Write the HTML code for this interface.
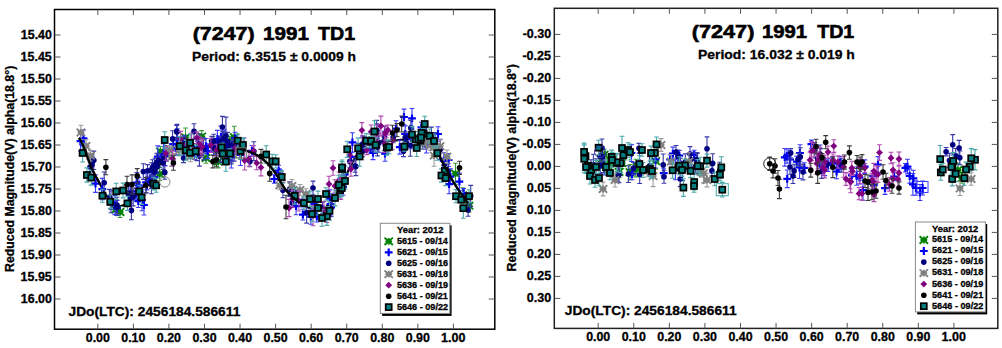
<!DOCTYPE html>
<html><head><meta charset="utf-8"><style>
html,body{margin:0;padding:0;background:#fff;width:1002px;height:348px;overflow:hidden}
svg{display:block}
text{stroke:#000;stroke-width:.3px}
text.ttl{stroke-width:.6px}
</style></head><body>
<svg width="1002" height="348" viewBox="0 0 1002 348" font-family='"Liberation Sans", sans-serif' font-weight="bold">
<rect width="1002" height="348" fill="#fff"/>
<rect x="54.5" y="9.5" width="440.3" height="319.7" fill="none" stroke="#000" stroke-width="1.5"/>
<line x1="97.80" y1="329.2" x2="97.80" y2="323.7" stroke="#555" stroke-width="1"/>
<line x1="97.80" y1="9.5" x2="97.80" y2="15.0" stroke="#555" stroke-width="1"/>
<text x="85.75" y="342.40" font-size="12.43" textLength="24.11" lengthAdjust="spacingAndGlyphs" fill="#000" >0.00</text>
<line x1="133.36" y1="329.2" x2="133.36" y2="323.7" stroke="#555" stroke-width="1"/>
<line x1="133.36" y1="9.5" x2="133.36" y2="15.0" stroke="#555" stroke-width="1"/>
<text x="121.31" y="342.40" font-size="12.43" textLength="24.11" lengthAdjust="spacingAndGlyphs" fill="#000" >0.10</text>
<line x1="168.92" y1="329.2" x2="168.92" y2="323.7" stroke="#555" stroke-width="1"/>
<line x1="168.92" y1="9.5" x2="168.92" y2="15.0" stroke="#555" stroke-width="1"/>
<text x="156.87" y="342.40" font-size="12.43" textLength="24.11" lengthAdjust="spacingAndGlyphs" fill="#000" >0.20</text>
<line x1="204.48" y1="329.2" x2="204.48" y2="323.7" stroke="#555" stroke-width="1"/>
<line x1="204.48" y1="9.5" x2="204.48" y2="15.0" stroke="#555" stroke-width="1"/>
<text x="192.43" y="342.40" font-size="12.43" textLength="24.11" lengthAdjust="spacingAndGlyphs" fill="#000" >0.30</text>
<line x1="240.04" y1="329.2" x2="240.04" y2="323.7" stroke="#555" stroke-width="1"/>
<line x1="240.04" y1="9.5" x2="240.04" y2="15.0" stroke="#555" stroke-width="1"/>
<text x="227.99" y="342.40" font-size="12.43" textLength="24.11" lengthAdjust="spacingAndGlyphs" fill="#000" >0.40</text>
<line x1="275.60" y1="329.2" x2="275.60" y2="323.7" stroke="#555" stroke-width="1"/>
<line x1="275.60" y1="9.5" x2="275.60" y2="15.0" stroke="#555" stroke-width="1"/>
<text x="263.55" y="342.40" font-size="12.43" textLength="24.11" lengthAdjust="spacingAndGlyphs" fill="#000" >0.50</text>
<line x1="311.16" y1="329.2" x2="311.16" y2="323.7" stroke="#555" stroke-width="1"/>
<line x1="311.16" y1="9.5" x2="311.16" y2="15.0" stroke="#555" stroke-width="1"/>
<text x="299.11" y="342.40" font-size="12.43" textLength="24.11" lengthAdjust="spacingAndGlyphs" fill="#000" >0.60</text>
<line x1="346.72" y1="329.2" x2="346.72" y2="323.7" stroke="#555" stroke-width="1"/>
<line x1="346.72" y1="9.5" x2="346.72" y2="15.0" stroke="#555" stroke-width="1"/>
<text x="334.67" y="342.40" font-size="12.43" textLength="24.11" lengthAdjust="spacingAndGlyphs" fill="#000" >0.70</text>
<line x1="382.28" y1="329.2" x2="382.28" y2="323.7" stroke="#555" stroke-width="1"/>
<line x1="382.28" y1="9.5" x2="382.28" y2="15.0" stroke="#555" stroke-width="1"/>
<text x="370.23" y="342.40" font-size="12.43" textLength="24.11" lengthAdjust="spacingAndGlyphs" fill="#000" >0.80</text>
<line x1="417.84" y1="329.2" x2="417.84" y2="323.7" stroke="#555" stroke-width="1"/>
<line x1="417.84" y1="9.5" x2="417.84" y2="15.0" stroke="#555" stroke-width="1"/>
<text x="405.79" y="342.40" font-size="12.43" textLength="24.11" lengthAdjust="spacingAndGlyphs" fill="#000" >0.90</text>
<line x1="453.40" y1="329.2" x2="453.40" y2="323.7" stroke="#555" stroke-width="1"/>
<line x1="453.40" y1="9.5" x2="453.40" y2="15.0" stroke="#555" stroke-width="1"/>
<text x="441.03" y="342.40" font-size="12.43" textLength="24.43" lengthAdjust="spacingAndGlyphs" fill="#000" >1.00</text>
<line x1="54.5" y1="35.00" x2="60.5" y2="35.00" stroke="#555" stroke-width="1"/>
<line x1="494.8" y1="35.00" x2="488.8" y2="35.00" stroke="#555" stroke-width="1"/>
<text x="20.83" y="38.70" font-size="12.43" textLength="31.10" lengthAdjust="spacingAndGlyphs" fill="#000" >15.40</text>
<line x1="54.5" y1="57.00" x2="60.5" y2="57.00" stroke="#555" stroke-width="1"/>
<line x1="494.8" y1="57.00" x2="488.8" y2="57.00" stroke="#555" stroke-width="1"/>
<text x="20.64" y="60.70" font-size="12.43" textLength="31.10" lengthAdjust="spacingAndGlyphs" fill="#000" >15.45</text>
<line x1="54.5" y1="79.00" x2="60.5" y2="79.00" stroke="#555" stroke-width="1"/>
<line x1="494.8" y1="79.00" x2="488.8" y2="79.00" stroke="#555" stroke-width="1"/>
<text x="20.83" y="82.70" font-size="12.43" textLength="31.10" lengthAdjust="spacingAndGlyphs" fill="#000" >15.50</text>
<line x1="54.5" y1="101.00" x2="60.5" y2="101.00" stroke="#555" stroke-width="1"/>
<line x1="494.8" y1="101.00" x2="488.8" y2="101.00" stroke="#555" stroke-width="1"/>
<text x="20.64" y="104.70" font-size="12.43" textLength="31.10" lengthAdjust="spacingAndGlyphs" fill="#000" >15.55</text>
<line x1="54.5" y1="123.00" x2="60.5" y2="123.00" stroke="#555" stroke-width="1"/>
<line x1="494.8" y1="123.00" x2="488.8" y2="123.00" stroke="#555" stroke-width="1"/>
<text x="20.83" y="126.70" font-size="12.43" textLength="31.10" lengthAdjust="spacingAndGlyphs" fill="#000" >15.60</text>
<line x1="54.5" y1="145.00" x2="60.5" y2="145.00" stroke="#555" stroke-width="1"/>
<line x1="494.8" y1="145.00" x2="488.8" y2="145.00" stroke="#555" stroke-width="1"/>
<text x="20.64" y="148.70" font-size="12.43" textLength="31.10" lengthAdjust="spacingAndGlyphs" fill="#000" >15.65</text>
<line x1="54.5" y1="167.00" x2="60.5" y2="167.00" stroke="#555" stroke-width="1"/>
<line x1="494.8" y1="167.00" x2="488.8" y2="167.00" stroke="#555" stroke-width="1"/>
<text x="20.83" y="170.70" font-size="12.43" textLength="31.10" lengthAdjust="spacingAndGlyphs" fill="#000" >15.70</text>
<line x1="54.5" y1="189.00" x2="60.5" y2="189.00" stroke="#555" stroke-width="1"/>
<line x1="494.8" y1="189.00" x2="488.8" y2="189.00" stroke="#555" stroke-width="1"/>
<text x="20.64" y="192.70" font-size="12.43" textLength="31.10" lengthAdjust="spacingAndGlyphs" fill="#000" >15.75</text>
<line x1="54.5" y1="211.00" x2="60.5" y2="211.00" stroke="#555" stroke-width="1"/>
<line x1="494.8" y1="211.00" x2="488.8" y2="211.00" stroke="#555" stroke-width="1"/>
<text x="20.83" y="214.70" font-size="12.43" textLength="31.10" lengthAdjust="spacingAndGlyphs" fill="#000" >15.80</text>
<line x1="54.5" y1="233.00" x2="60.5" y2="233.00" stroke="#555" stroke-width="1"/>
<line x1="494.8" y1="233.00" x2="488.8" y2="233.00" stroke="#555" stroke-width="1"/>
<text x="20.64" y="236.70" font-size="12.43" textLength="31.10" lengthAdjust="spacingAndGlyphs" fill="#000" >15.85</text>
<line x1="54.5" y1="255.00" x2="60.5" y2="255.00" stroke="#555" stroke-width="1"/>
<line x1="494.8" y1="255.00" x2="488.8" y2="255.00" stroke="#555" stroke-width="1"/>
<text x="20.83" y="258.70" font-size="12.43" textLength="31.10" lengthAdjust="spacingAndGlyphs" fill="#000" >15.90</text>
<line x1="54.5" y1="277.00" x2="60.5" y2="277.00" stroke="#555" stroke-width="1"/>
<line x1="494.8" y1="277.00" x2="488.8" y2="277.00" stroke="#555" stroke-width="1"/>
<text x="20.64" y="280.70" font-size="12.43" textLength="31.10" lengthAdjust="spacingAndGlyphs" fill="#000" >15.95</text>
<line x1="54.5" y1="299.00" x2="60.5" y2="299.00" stroke="#555" stroke-width="1"/>
<line x1="494.8" y1="299.00" x2="488.8" y2="299.00" stroke="#555" stroke-width="1"/>
<text x="20.83" y="302.70" font-size="12.43" textLength="31.10" lengthAdjust="spacingAndGlyphs" fill="#000" >16.00</text>
<text x="192.73" y="40.00" font-size="18.86" textLength="61.95" lengthAdjust="spacingAndGlyphs" fill="#000" class="ttl">(7247)</text>
<text x="262.96" y="40.00" font-size="18.86" textLength="45.95" lengthAdjust="spacingAndGlyphs" fill="#000" class="ttl">1991</text>
<text x="318.00" y="40.00" font-size="18.86" textLength="37.17" lengthAdjust="spacingAndGlyphs" fill="#000" class="ttl">TD1</text>
<text x="192.00" y="60.60" font-size="13.14" textLength="164.08" lengthAdjust="spacingAndGlyphs" fill="#000" >Period: 6.3515 ± 0.0009 h</text>
<text x="68.49" y="316.00" font-size="13.29" textLength="171.83" lengthAdjust="spacingAndGlyphs" fill="#000" >JDo(LTC): 2456184.586611</text>
<text transform="translate(13.60,272.00) rotate(-90)" x="0" y="0" font-size="12.17" textLength="206.27" lengthAdjust="spacingAndGlyphs">Reduced Magnitude(V) alpha(18.8°)</text>
<rect x="554.3" y="8.3" width="443.5" height="320.09999999999997" fill="none" stroke="#222" stroke-width="1.5"/>
<line x1="598.20" y1="328.4" x2="598.20" y2="322.9" stroke="#555" stroke-width="1"/>
<line x1="598.20" y1="8.3" x2="598.20" y2="13.8" stroke="#555" stroke-width="1"/>
<text x="586.15" y="341.00" font-size="12.29" textLength="24.11" lengthAdjust="spacingAndGlyphs" fill="#000" >0.00</text>
<line x1="633.77" y1="328.4" x2="633.77" y2="322.9" stroke="#555" stroke-width="1"/>
<line x1="633.77" y1="8.3" x2="633.77" y2="13.8" stroke="#555" stroke-width="1"/>
<text x="621.72" y="341.00" font-size="12.29" textLength="24.11" lengthAdjust="spacingAndGlyphs" fill="#000" >0.10</text>
<line x1="669.34" y1="328.4" x2="669.34" y2="322.9" stroke="#555" stroke-width="1"/>
<line x1="669.34" y1="8.3" x2="669.34" y2="13.8" stroke="#555" stroke-width="1"/>
<text x="657.29" y="341.00" font-size="12.29" textLength="24.11" lengthAdjust="spacingAndGlyphs" fill="#000" >0.20</text>
<line x1="704.91" y1="328.4" x2="704.91" y2="322.9" stroke="#555" stroke-width="1"/>
<line x1="704.91" y1="8.3" x2="704.91" y2="13.8" stroke="#555" stroke-width="1"/>
<text x="692.86" y="341.00" font-size="12.29" textLength="24.11" lengthAdjust="spacingAndGlyphs" fill="#000" >0.30</text>
<line x1="740.48" y1="328.4" x2="740.48" y2="322.9" stroke="#555" stroke-width="1"/>
<line x1="740.48" y1="8.3" x2="740.48" y2="13.8" stroke="#555" stroke-width="1"/>
<text x="728.43" y="341.00" font-size="12.29" textLength="24.11" lengthAdjust="spacingAndGlyphs" fill="#000" >0.40</text>
<line x1="776.05" y1="328.4" x2="776.05" y2="322.9" stroke="#555" stroke-width="1"/>
<line x1="776.05" y1="8.3" x2="776.05" y2="13.8" stroke="#555" stroke-width="1"/>
<text x="764.00" y="341.00" font-size="12.29" textLength="24.11" lengthAdjust="spacingAndGlyphs" fill="#000" >0.50</text>
<line x1="811.62" y1="328.4" x2="811.62" y2="322.9" stroke="#555" stroke-width="1"/>
<line x1="811.62" y1="8.3" x2="811.62" y2="13.8" stroke="#555" stroke-width="1"/>
<text x="799.57" y="341.00" font-size="12.29" textLength="24.11" lengthAdjust="spacingAndGlyphs" fill="#000" >0.60</text>
<line x1="847.19" y1="328.4" x2="847.19" y2="322.9" stroke="#555" stroke-width="1"/>
<line x1="847.19" y1="8.3" x2="847.19" y2="13.8" stroke="#555" stroke-width="1"/>
<text x="835.14" y="341.00" font-size="12.29" textLength="24.11" lengthAdjust="spacingAndGlyphs" fill="#000" >0.70</text>
<line x1="882.76" y1="328.4" x2="882.76" y2="322.9" stroke="#555" stroke-width="1"/>
<line x1="882.76" y1="8.3" x2="882.76" y2="13.8" stroke="#555" stroke-width="1"/>
<text x="870.71" y="341.00" font-size="12.29" textLength="24.11" lengthAdjust="spacingAndGlyphs" fill="#000" >0.80</text>
<line x1="918.33" y1="328.4" x2="918.33" y2="322.9" stroke="#555" stroke-width="1"/>
<line x1="918.33" y1="8.3" x2="918.33" y2="13.8" stroke="#555" stroke-width="1"/>
<text x="906.28" y="341.00" font-size="12.29" textLength="24.11" lengthAdjust="spacingAndGlyphs" fill="#000" >0.90</text>
<line x1="953.90" y1="328.4" x2="953.90" y2="322.9" stroke="#555" stroke-width="1"/>
<line x1="953.90" y1="8.3" x2="953.90" y2="13.8" stroke="#555" stroke-width="1"/>
<text x="941.53" y="341.00" font-size="12.29" textLength="24.43" lengthAdjust="spacingAndGlyphs" fill="#000" >1.00</text>
<line x1="554.3" y1="34.40" x2="560.3" y2="34.40" stroke="#555" stroke-width="1"/>
<line x1="997.8" y1="34.40" x2="991.8" y2="34.40" stroke="#555" stroke-width="1"/>
<text x="522.64" y="38.40" font-size="12.57" textLength="28.65" lengthAdjust="spacingAndGlyphs" fill="#000" >-0.30</text>
<line x1="554.3" y1="56.40" x2="560.3" y2="56.40" stroke="#555" stroke-width="1"/>
<line x1="997.8" y1="56.40" x2="991.8" y2="56.40" stroke="#555" stroke-width="1"/>
<text x="522.45" y="60.40" font-size="12.57" textLength="28.65" lengthAdjust="spacingAndGlyphs" fill="#000" >-0.25</text>
<line x1="554.3" y1="78.40" x2="560.3" y2="78.40" stroke="#555" stroke-width="1"/>
<line x1="997.8" y1="78.40" x2="991.8" y2="78.40" stroke="#555" stroke-width="1"/>
<text x="522.64" y="82.40" font-size="12.57" textLength="28.65" lengthAdjust="spacingAndGlyphs" fill="#000" >-0.20</text>
<line x1="554.3" y1="100.40" x2="560.3" y2="100.40" stroke="#555" stroke-width="1"/>
<line x1="997.8" y1="100.40" x2="991.8" y2="100.40" stroke="#555" stroke-width="1"/>
<text x="522.45" y="104.40" font-size="12.57" textLength="28.65" lengthAdjust="spacingAndGlyphs" fill="#000" >-0.15</text>
<line x1="554.3" y1="122.40" x2="560.3" y2="122.40" stroke="#555" stroke-width="1"/>
<line x1="997.8" y1="122.40" x2="991.8" y2="122.40" stroke="#555" stroke-width="1"/>
<text x="522.64" y="126.40" font-size="12.57" textLength="28.65" lengthAdjust="spacingAndGlyphs" fill="#000" >-0.10</text>
<line x1="554.3" y1="144.40" x2="560.3" y2="144.40" stroke="#555" stroke-width="1"/>
<line x1="997.8" y1="144.40" x2="991.8" y2="144.40" stroke="#555" stroke-width="1"/>
<text x="522.45" y="148.40" font-size="12.57" textLength="28.65" lengthAdjust="spacingAndGlyphs" fill="#000" >-0.05</text>
<line x1="554.3" y1="166.40" x2="560.3" y2="166.40" stroke="#555" stroke-width="1"/>
<line x1="997.8" y1="166.40" x2="991.8" y2="166.40" stroke="#555" stroke-width="1"/>
<text x="526.85" y="170.40" font-size="12.57" textLength="24.47" lengthAdjust="spacingAndGlyphs" fill="#000" >0.00</text>
<line x1="554.3" y1="188.40" x2="560.3" y2="188.40" stroke="#555" stroke-width="1"/>
<line x1="997.8" y1="188.40" x2="991.8" y2="188.40" stroke="#555" stroke-width="1"/>
<text x="526.66" y="192.40" font-size="12.57" textLength="24.47" lengthAdjust="spacingAndGlyphs" fill="#000" >0.05</text>
<line x1="554.3" y1="210.40" x2="560.3" y2="210.40" stroke="#555" stroke-width="1"/>
<line x1="997.8" y1="210.40" x2="991.8" y2="210.40" stroke="#555" stroke-width="1"/>
<text x="526.85" y="214.40" font-size="12.57" textLength="24.47" lengthAdjust="spacingAndGlyphs" fill="#000" >0.10</text>
<line x1="554.3" y1="232.40" x2="560.3" y2="232.40" stroke="#555" stroke-width="1"/>
<line x1="997.8" y1="232.40" x2="991.8" y2="232.40" stroke="#555" stroke-width="1"/>
<text x="526.66" y="236.40" font-size="12.57" textLength="24.47" lengthAdjust="spacingAndGlyphs" fill="#000" >0.15</text>
<line x1="554.3" y1="254.40" x2="560.3" y2="254.40" stroke="#555" stroke-width="1"/>
<line x1="997.8" y1="254.40" x2="991.8" y2="254.40" stroke="#555" stroke-width="1"/>
<text x="526.85" y="258.40" font-size="12.57" textLength="24.47" lengthAdjust="spacingAndGlyphs" fill="#000" >0.20</text>
<line x1="554.3" y1="276.40" x2="560.3" y2="276.40" stroke="#555" stroke-width="1"/>
<line x1="997.8" y1="276.40" x2="991.8" y2="276.40" stroke="#555" stroke-width="1"/>
<text x="526.66" y="280.40" font-size="12.57" textLength="24.47" lengthAdjust="spacingAndGlyphs" fill="#000" >0.25</text>
<line x1="554.3" y1="298.40" x2="560.3" y2="298.40" stroke="#555" stroke-width="1"/>
<line x1="997.8" y1="298.40" x2="991.8" y2="298.40" stroke="#555" stroke-width="1"/>
<text x="526.85" y="302.40" font-size="12.57" textLength="24.47" lengthAdjust="spacingAndGlyphs" fill="#000" >0.30</text>
<text x="691.82" y="37.90" font-size="18.71" textLength="62.57" lengthAdjust="spacingAndGlyphs" fill="#000" class="ttl">(7247)</text>
<text x="762.08" y="37.90" font-size="18.71" textLength="45.01" lengthAdjust="spacingAndGlyphs" fill="#000" class="ttl">1991</text>
<text x="817.20" y="37.90" font-size="18.71" textLength="37.07" lengthAdjust="spacingAndGlyphs" fill="#000" class="ttl">TD1</text>
<text x="698.10" y="58.60" font-size="13.14" textLength="156.77" lengthAdjust="spacingAndGlyphs" fill="#000" >Period: 16.032 ± 0.019 h</text>
<text x="564.79" y="314.60" font-size="12.86" textLength="171.83" lengthAdjust="spacingAndGlyphs" fill="#000" >JDo(LTC): 2456184.586611</text>
<text transform="translate(515.90,271.41) rotate(-90)" x="0" y="0" font-size="12.17" textLength="207.37" lengthAdjust="spacingAndGlyphs">Reduced Magnitude(V) alpha(18.8°)</text>
<path d="M79.0 138.0 L81.6 142.3 L84.3 148.4 L86.9 155.3 L89.6 162.8 L92.2 169.1 L94.8 174.7 L97.5 179.4 L100.1 184.2 L102.7 189.1 L105.4 194.0 L108.0 197.8 L110.7 200.7 L113.3 203.1 L115.9 205.1 L118.6 206.1 L121.2 206.0 L123.8 205.1 L126.5 203.3 L129.1 200.8 L131.8 198.3 L134.4 195.6 L137.0 193.0 L139.7 190.3 L142.3 187.7 L144.9 185.2 L147.6 182.5 L150.2 179.3 L152.9 175.7 L155.5 171.6 L158.1 167.1 L160.8 162.8 L163.4 158.6 L166.0 155.0 L168.7 152.4 L171.3 150.5 L174.0 149.1 L176.6 148.0 L179.2 147.2 L181.9 146.7 L184.5 146.4 L187.1 146.2 L189.8 146.0 L192.4 145.9 L195.1 145.9 L197.7 145.9 L200.3 146.0 L203.0 146.2 L205.6 146.5 L208.2 146.8 L210.9 147.1 L213.5 147.4 L216.2 147.6 L218.8 147.9 L221.4 148.2 L224.1 148.5 L226.7 148.7 L229.3 149.0 L232.0 149.0 L234.6 148.9 L237.3 148.8 L239.9 149.0 L242.5 149.5 L245.2 150.2 L247.8 151.2 L250.4 152.2 L253.1 153.3 L255.7 154.6 L258.4 156.0 L261.0 157.8 L263.6 159.9 L266.3 162.2 L268.9 165.0 L271.5 168.0 L274.2 171.3 L276.8 175.2 L279.5 179.6 L282.1 184.4 L284.7 188.6 L287.4 191.8 L290.0 194.5 L292.6 197.0 L295.3 199.2 L297.9 201.4 L300.6 203.3 L303.2 205.0 L305.8 206.5 L308.5 207.7 L311.1 208.5 L313.7 209.2 L316.4 209.9 L319.0 210.1 L321.7 209.5 L324.3 208.2 L326.9 206.1 L329.6 203.4 L332.2 200.0 L334.8 196.2 L337.5 192.0 L340.1 187.3 L342.8 182.4 L345.4 176.9 L348.0 171.2 L350.7 165.8 L353.3 160.9 L355.9 156.2 L358.6 152.2 L361.2 148.7 L363.9 145.8 L366.5 143.7 L369.1 142.8 L371.8 142.4 L374.4 142.2 L377.0 141.9 L379.7 141.6 L382.3 141.4 L385.0 141.2 L387.6 141.0 L390.2 140.8 L392.9 140.6 L395.5 140.4 L398.1 140.2 L400.8 139.9 L403.4 139.6 L406.1 139.3 L408.7 139.1 L411.3 138.9 L414.0 138.8 L416.6 138.8 L419.2 138.9 L421.9 139.2 L424.5 139.5 L427.2 140.5 L429.8 142.4 L432.4 145.1 L435.1 148.6 L437.7 152.7 L440.3 157.8 L443.0 163.1 L445.6 168.1 L448.3 173.0 L450.9 177.7 L453.5 182.2 L456.2 186.4 L458.8 190.4 L461.4 194.0 L464.1 197.7 L466.7 201.6 L469.4 204.5 L472.0 205.7" stroke="#000" stroke-width="2.2" fill="none"/>
<path d="M213.1 136.8V151.4M210.7 136.8H215.5M210.7 151.4H215.5" stroke="#3a9a3a" stroke-width="1.1" fill="none"/>
<path d="M236.3 146.1V158.0M233.9 146.1H238.7M233.9 158.0H238.7" stroke="#3a9a3a" stroke-width="1.1" fill="none"/>
<path d="M225.9 142.2V156.5M223.5 142.2H228.3M223.5 156.5H228.3" stroke="#3a9a3a" stroke-width="1.1" fill="none"/>
<path d="M179.1 139.2V154.9M176.7 139.2H181.5M176.7 154.9H181.5" stroke="#3a9a3a" stroke-width="1.1" fill="none"/>
<path d="M185.5 128.0V147.1M183.1 128.0H187.9M183.1 147.1H187.9" stroke="#3a9a3a" stroke-width="1.1" fill="none"/>
<path d="M234.3 126.3V148.1M231.9 126.3H236.7M231.9 148.1H236.7" stroke="#3a9a3a" stroke-width="1.1" fill="none"/>
<path d="M160.4 146.5V156.7M158.0 146.5H162.8M158.0 156.7H162.8" stroke="#3a9a3a" stroke-width="1.1" fill="none"/>
<path d="M229.8 136.4V145.1M227.4 136.4H232.2M227.4 145.1H232.2" stroke="#3a9a3a" stroke-width="1.1" fill="none"/>
<path d="M455.5 163.3V184.2M453.1 163.3H457.9M453.1 184.2H457.9" stroke="#3a9a3a" stroke-width="1.1" fill="none"/>
<path d="M462.7 187.7V202.9M460.3 187.7H465.1M460.3 202.9H465.1" stroke="#3a9a3a" stroke-width="1.1" fill="none"/>
<path d="M115.8 204.3V214.7M113.4 204.3H118.2M113.4 214.7H118.2" stroke="#3a9a3a" stroke-width="1.1" fill="none"/>
<path d="M120.0 206.5V217.5M117.6 206.5H122.4M117.6 217.5H122.4" stroke="#3a9a3a" stroke-width="1.1" fill="none"/>
<path d="M159.7 167.5V180.5M157.3 167.5H162.1M157.3 180.5H162.1" stroke="#3a9a3a" stroke-width="1.1" fill="none"/>
<path d="M218.1 155.3V167.9M215.7 155.3H220.5M215.7 167.9H220.5" stroke="#3a9a3a" stroke-width="1.1" fill="none"/>
<path d="M201.7 130.6V142.6M199.3 130.6H204.1M199.3 142.6H204.1" stroke="#3a9a3a" stroke-width="1.1" fill="none"/>
<path d="M206.0 152.7V163.3M203.6 152.7H208.4M203.6 163.3H208.4" stroke="#3a9a3a" stroke-width="1.1" fill="none"/>
<path d="M469.0 199.3V212.1M466.6 199.3H471.4M466.6 212.1H471.4" stroke="#3a9a3a" stroke-width="1.1" fill="none"/>
<path d="M208.9 140.4L217.3 147.8M208.9 147.8L217.3 140.4M209.7 144.1H216.5M213.1 140.7V147.5" stroke="#008000" stroke-width="1.8" fill="none"/><rect x="211.2" y="142.2" width="3.8" height="3.8" fill="#008000"/>
<path d="M232.1 148.3L240.5 155.7M232.1 155.7L240.5 148.3M232.9 152.0H239.7M236.3 148.6V155.4" stroke="#008000" stroke-width="1.8" fill="none"/><rect x="234.4" y="150.1" width="3.8" height="3.8" fill="#008000"/>
<path d="M221.7 145.7L230.1 153.1M221.7 153.1L230.1 145.7M222.5 149.4H229.3M225.9 146.0V152.8" stroke="#008000" stroke-width="1.8" fill="none"/><rect x="224.0" y="147.5" width="3.8" height="3.8" fill="#008000"/>
<path d="M174.9 143.3L183.3 150.7M174.9 150.7L183.3 143.3M175.7 147.0H182.5M179.1 143.6V150.4" stroke="#008000" stroke-width="1.8" fill="none"/><rect x="177.2" y="145.1" width="3.8" height="3.8" fill="#008000"/>
<path d="M181.3 133.8L189.7 141.2M181.3 141.2L189.7 133.8M182.1 137.5H188.9M185.5 134.1V140.9" stroke="#008000" stroke-width="1.8" fill="none"/><rect x="183.6" y="135.6" width="3.8" height="3.8" fill="#008000"/>
<path d="M230.1 133.5L238.5 140.9M230.1 140.9L238.5 133.5M230.9 137.2H237.7M234.3 133.8V140.6" stroke="#008000" stroke-width="1.8" fill="none"/><rect x="232.4" y="135.3" width="3.8" height="3.8" fill="#008000"/>
<path d="M156.2 147.9L164.6 155.3M156.2 155.3L164.6 147.9M157.0 151.6H163.8M160.4 148.2V155.0" stroke="#008000" stroke-width="1.8" fill="none"/><rect x="158.5" y="149.7" width="3.8" height="3.8" fill="#008000"/>
<path d="M225.6 137.1L234.0 144.5M225.6 144.5L234.0 137.1M226.4 140.8H233.2M229.8 137.4V144.2" stroke="#008000" stroke-width="1.8" fill="none"/><rect x="227.9" y="138.9" width="3.8" height="3.8" fill="#008000"/>
<path d="M451.3 170.0L459.7 177.4M451.3 177.4L459.7 170.0M452.1 173.7H458.9M455.5 170.3V177.1" stroke="#008000" stroke-width="1.8" fill="none"/><rect x="453.6" y="171.8" width="3.8" height="3.8" fill="#008000"/>
<path d="M458.5 191.6L466.9 199.0M458.5 199.0L466.9 191.6M459.3 195.3H466.1M462.7 191.9V198.7" stroke="#008000" stroke-width="1.8" fill="none"/><rect x="460.8" y="193.4" width="3.8" height="3.8" fill="#008000"/>
<path d="M111.6 205.8L120.0 213.2M111.6 213.2L120.0 205.8M112.4 209.5H119.2M115.8 206.1V212.9" stroke="#008000" stroke-width="1.8" fill="none"/><rect x="113.9" y="207.6" width="3.8" height="3.8" fill="#008000"/>
<path d="M115.8 208.3L124.2 215.7M115.8 215.7L124.2 208.3M116.6 212.0H123.4M120.0 208.6V215.4" stroke="#008000" stroke-width="1.8" fill="none"/><rect x="118.1" y="210.1" width="3.8" height="3.8" fill="#008000"/>
<path d="M155.5 170.3L163.9 177.7M155.5 177.7L163.9 170.3M156.3 174.0H163.1M159.7 170.6V177.4" stroke="#008000" stroke-width="1.8" fill="none"/><rect x="157.8" y="172.1" width="3.8" height="3.8" fill="#008000"/>
<path d="M213.9 157.9L222.3 165.3M213.9 165.3L222.3 157.9M214.7 161.6H221.5M218.1 158.2V165.0" stroke="#008000" stroke-width="1.8" fill="none"/><rect x="216.2" y="159.7" width="3.8" height="3.8" fill="#008000"/>
<path d="M197.5 132.9L205.9 140.3M197.5 140.3L205.9 132.9M198.3 136.6H205.1M201.7 133.2V140.0" stroke="#008000" stroke-width="1.8" fill="none"/><rect x="199.8" y="134.7" width="3.8" height="3.8" fill="#008000"/>
<path d="M201.8 154.3L210.2 161.7M201.8 161.7L210.2 154.3M202.6 158.0H209.4M206.0 154.6V161.4" stroke="#008000" stroke-width="1.8" fill="none"/><rect x="204.1" y="156.1" width="3.8" height="3.8" fill="#008000"/>
<path d="M464.8 202.0L473.2 209.4M464.8 209.4L473.2 202.0M465.6 205.7H472.4M469.0 202.3V209.1" stroke="#008000" stroke-width="1.8" fill="none"/><rect x="467.1" y="203.8" width="3.8" height="3.8" fill="#008000"/>
<path d="M274.3 174.8V183.3M271.9 174.8H276.7M271.9 183.3H276.7" stroke="#3a3aff" stroke-width="1.1" fill="none"/>
<path d="M176.3 140.7V155.3M173.9 140.7H178.7M173.9 155.3H178.7" stroke="#3a3aff" stroke-width="1.1" fill="none"/>
<path d="M83.6 138.4V150.9M81.2 138.4H86.0M81.2 150.9H86.0" stroke="#3a3aff" stroke-width="1.1" fill="none"/>
<path d="M154.6 168.8V177.2M152.2 168.8H157.0M152.2 177.2H157.0" stroke="#3a3aff" stroke-width="1.1" fill="none"/>
<path d="M351.0 152.6V161.0M348.6 152.6H353.4M348.6 161.0H353.4" stroke="#3a3aff" stroke-width="1.1" fill="none"/>
<path d="M157.8 145.9V167.4M155.4 145.9H160.2M155.4 167.4H160.2" stroke="#3a3aff" stroke-width="1.1" fill="none"/>
<path d="M224.2 139.5V153.5M221.8 139.5H226.6M221.8 153.5H226.6" stroke="#3a3aff" stroke-width="1.1" fill="none"/>
<path d="M80.5 131.0V151.2M78.1 131.0H82.9M78.1 151.2H82.9" stroke="#3a3aff" stroke-width="1.1" fill="none"/>
<path d="M405.2 125.9V142.1M402.8 125.9H407.6M402.8 142.1H407.6" stroke="#3a3aff" stroke-width="1.1" fill="none"/>
<path d="M139.7 185.1V198.1M137.3 185.1H142.1M137.3 198.1H142.1" stroke="#3a3aff" stroke-width="1.1" fill="none"/>
<path d="M184.2 135.9V154.6M181.8 135.9H186.6M181.8 154.6H186.6" stroke="#3a3aff" stroke-width="1.1" fill="none"/>
<path d="M425.0 139.2V149.3M422.6 139.2H427.4M422.6 149.3H427.4" stroke="#3a3aff" stroke-width="1.1" fill="none"/>
<path d="M279.3 168.7V176.7M276.9 168.7H281.7M276.9 176.7H281.7" stroke="#3a3aff" stroke-width="1.1" fill="none"/>
<path d="M411.9 129.5V148.8M409.5 129.5H414.3M409.5 148.8H414.3" stroke="#3a3aff" stroke-width="1.1" fill="none"/>
<path d="M330.4 197.1V211.0M328.0 197.1H332.8M328.0 211.0H332.8" stroke="#3a3aff" stroke-width="1.1" fill="none"/>
<path d="M370.5 144.8V153.0M368.1 144.8H372.9M368.1 153.0H372.9" stroke="#3a3aff" stroke-width="1.1" fill="none"/>
<path d="M115.0 195.5V214.6M112.6 195.5H117.4M112.6 214.6H117.4" stroke="#3a3aff" stroke-width="1.1" fill="none"/>
<path d="M291.7 186.2V204.4M289.3 186.2H294.1M289.3 204.4H294.1" stroke="#3a3aff" stroke-width="1.1" fill="none"/>
<path d="M278.6 165.3V176.1M276.2 165.3H281.0M276.2 176.1H281.0" stroke="#3a3aff" stroke-width="1.1" fill="none"/>
<path d="M421.4 122.2V132.7M419.0 122.2H423.8M419.0 132.7H423.8" stroke="#3a3aff" stroke-width="1.1" fill="none"/>
<path d="M221.0 126.1V147.4M218.6 126.1H223.4M218.6 147.4H223.4" stroke="#3a3aff" stroke-width="1.1" fill="none"/>
<path d="M314.1 197.4V210.2M311.7 197.4H316.5M311.7 210.2H316.5" stroke="#3a3aff" stroke-width="1.1" fill="none"/>
<path d="M102.3 178.4V199.7M99.9 178.4H104.7M99.9 199.7H104.7" stroke="#3a3aff" stroke-width="1.1" fill="none"/>
<path d="M231.3 146.3V168.0M228.9 146.3H233.7M228.9 168.0H233.7" stroke="#3a3aff" stroke-width="1.1" fill="none"/>
<path d="M206.0 138.5V153.8M203.6 138.5H208.4M203.6 153.8H208.4" stroke="#3a3aff" stroke-width="1.1" fill="none"/>
<path d="M138.0 181.7V200.1M135.6 181.7H140.4M135.6 200.1H140.4" stroke="#3a3aff" stroke-width="1.1" fill="none"/>
<path d="M399.8 140.2V154.1M397.4 140.2H402.2M397.4 154.1H402.2" stroke="#3a3aff" stroke-width="1.1" fill="none"/>
<path d="M228.1 141.7V155.4M225.7 141.7H230.5M225.7 155.4H230.5" stroke="#3a3aff" stroke-width="1.1" fill="none"/>
<path d="M463.6 188.5V197.4M461.2 188.5H466.0M461.2 197.4H466.0" stroke="#3a3aff" stroke-width="1.1" fill="none"/>
<path d="M310.9 209.0V224.3M308.5 209.0H313.3M308.5 224.3H313.3" stroke="#3a3aff" stroke-width="1.1" fill="none"/>
<path d="M316.8 210.5V222.0M314.4 210.5H319.2M314.4 222.0H319.2" stroke="#3a3aff" stroke-width="1.1" fill="none"/>
<path d="M329.7 189.9V207.4M327.3 189.9H332.1M327.3 207.4H332.1" stroke="#3a3aff" stroke-width="1.1" fill="none"/>
<path d="M344.8 166.0V182.9M342.4 166.0H347.2M342.4 182.9H347.2" stroke="#3a3aff" stroke-width="1.1" fill="none"/>
<path d="M138.3 194.9V207.5M135.9 194.9H140.7M135.9 207.5H140.7" stroke="#3a3aff" stroke-width="1.1" fill="none"/>
<path d="M252.0 145.5V156.3M249.6 145.5H254.4M249.6 156.3H254.4" stroke="#3a3aff" stroke-width="1.1" fill="none"/>
<path d="M173.1 138.7V149.7M170.7 138.7H175.5M170.7 149.7H175.5" stroke="#3a3aff" stroke-width="1.1" fill="none"/>
<path d="M237.2 134.6V154.3M234.8 134.6H239.6M234.8 154.3H239.6" stroke="#3a3aff" stroke-width="1.1" fill="none"/>
<path d="M117.0 200.5V215.2M114.6 200.5H119.4M114.6 215.2H119.4" stroke="#3a3aff" stroke-width="1.1" fill="none"/>
<path d="M459.4 173.1V190.3M457.0 173.1H461.8M457.0 190.3H461.8" stroke="#3a3aff" stroke-width="1.1" fill="none"/>
<path d="M163.5 143.6V165.0M161.1 143.6H165.9M161.1 165.0H165.9" stroke="#3a3aff" stroke-width="1.1" fill="none"/>
<path d="M343.0 178.4V195.2M340.6 178.4H345.4M340.6 195.2H345.4" stroke="#3a3aff" stroke-width="1.1" fill="none"/>
<path d="M197.1 141.1V151.6M194.7 141.1H199.5M194.7 151.6H199.5" stroke="#3a3aff" stroke-width="1.1" fill="none"/>
<path d="M422.5 135.3V149.1M420.1 135.3H424.9M420.1 149.1H424.9" stroke="#3a3aff" stroke-width="1.1" fill="none"/>
<path d="M339.3 178.2V197.6M336.9 178.2H341.7M336.9 197.6H341.7" stroke="#3a3aff" stroke-width="1.1" fill="none"/>
<path d="M130.7 186.6V196.2M128.3 186.6H133.1M128.3 196.2H133.1" stroke="#3a3aff" stroke-width="1.1" fill="none"/>
<path d="M411.1 126.0V145.3M408.7 126.0H413.5M408.7 145.3H413.5" stroke="#3a3aff" stroke-width="1.1" fill="none"/>
<path d="M450.4 168.9V184.2M448.0 168.9H452.8M448.0 184.2H452.8" stroke="#3a3aff" stroke-width="1.1" fill="none"/>
<path d="M434.2 139.7V148.4M431.8 139.7H436.6M431.8 148.4H436.6" stroke="#3a3aff" stroke-width="1.1" fill="none"/>
<path d="M302.9 198.7V207.0M300.5 198.7H305.3M300.5 207.0H305.3" stroke="#3a3aff" stroke-width="1.1" fill="none"/>
<path d="M136.2 188.2V199.7M133.8 188.2H138.6M133.8 199.7H138.6" stroke="#3a3aff" stroke-width="1.1" fill="none"/>
<path d="M154.6 169.5V185.4M152.2 169.5H157.0M152.2 185.4H157.0" stroke="#3a3aff" stroke-width="1.1" fill="none"/>
<path d="M443.7 152.7V168.9M441.3 152.7H446.1M441.3 168.9H446.1" stroke="#3a3aff" stroke-width="1.1" fill="none"/>
<path d="M296.1 197.3V214.8M293.7 197.3H298.5M293.7 214.8H298.5" stroke="#3a3aff" stroke-width="1.1" fill="none"/>
<path d="M150.0 172.5V184.9M147.6 172.5H152.4M147.6 184.9H152.4" stroke="#3a3aff" stroke-width="1.1" fill="none"/>
<path d="M426.4 137.4V153.0M424.0 137.4H428.8M424.0 153.0H428.8" stroke="#3a3aff" stroke-width="1.1" fill="none"/>
<path d="M331.1 198.8V216.0M328.7 198.8H333.5M328.7 216.0H333.5" stroke="#3a3aff" stroke-width="1.1" fill="none"/>
<path d="M302.9 209.3V220.0M300.5 209.3H305.3M300.5 220.0H305.3" stroke="#3a3aff" stroke-width="1.1" fill="none"/>
<path d="M226.9 150.1V158.6M224.5 150.1H229.3M224.5 158.6H229.3" stroke="#3a3aff" stroke-width="1.1" fill="none"/>
<path d="M240.5 144.0V165.5M238.1 144.0H242.9M238.1 165.5H242.9" stroke="#3a3aff" stroke-width="1.1" fill="none"/>
<path d="M164.9 146.7V165.9M162.5 146.7H167.3M162.5 165.9H167.3" stroke="#3a3aff" stroke-width="1.1" fill="none"/>
<path d="M136.8 172.5V192.6M134.4 172.5H139.2M134.4 192.6H139.2" stroke="#3a3aff" stroke-width="1.1" fill="none"/>
<path d="M146.9 180.1V189.9M144.5 180.1H149.3M144.5 189.9H149.3" stroke="#3a3aff" stroke-width="1.1" fill="none"/>
<path d="M146.1 172.2V192.6M143.7 172.2H148.5M143.7 192.6H148.5" stroke="#3a3aff" stroke-width="1.1" fill="none"/>
<path d="M138.9 177.4V193.5M136.5 177.4H141.3M136.5 193.5H141.3" stroke="#3a3aff" stroke-width="1.1" fill="none"/>
<path d="M217.9 138.9V147.3M215.5 138.9H220.3M215.5 147.3H220.3" stroke="#3a3aff" stroke-width="1.1" fill="none"/>
<path d="M215.7 144.1V155.1M213.3 144.1H218.1M213.3 155.1H218.1" stroke="#3a3aff" stroke-width="1.1" fill="none"/>
<path d="M177.2 128.8V150.1M174.8 128.8H179.6M174.8 150.1H179.6" stroke="#3a3aff" stroke-width="1.1" fill="none"/>
<path d="M219.6 141.7V153.2M217.2 141.7H222.0M217.2 153.2H222.0" stroke="#3a3aff" stroke-width="1.1" fill="none"/>
<path d="M217.4 130.4V147.6M215.0 130.4H219.8M215.0 147.6H219.8" stroke="#3a3aff" stroke-width="1.1" fill="none"/>
<path d="M231.8 146.8V160.1M229.4 146.8H234.2M229.4 160.1H234.2" stroke="#3a3aff" stroke-width="1.1" fill="none"/>
<path d="M230.3 140.9V158.1M227.9 140.9H232.7M227.9 158.1H232.7" stroke="#3a3aff" stroke-width="1.1" fill="none"/>
<path d="M194.5 146.2V159.4M192.1 146.2H196.9M192.1 159.4H196.9" stroke="#3a3aff" stroke-width="1.1" fill="none"/>
<path d="M224.2 129.9V145.4M221.8 129.9H226.6M221.8 145.4H226.6" stroke="#3a3aff" stroke-width="1.1" fill="none"/>
<path d="M235.0 132.3V143.8M232.6 132.3H237.4M232.6 143.8H237.4" stroke="#3a3aff" stroke-width="1.1" fill="none"/>
<path d="M237.0 137.5V151.9M234.6 137.5H239.4M234.6 151.9H239.4" stroke="#3a3aff" stroke-width="1.1" fill="none"/>
<path d="M83.5 130.0V146.8M81.1 130.0H85.9M81.1 146.8H85.9" stroke="#3a3aff" stroke-width="1.1" fill="none"/>
<path d="M95.5 174.8V192.4M93.1 174.8H97.9M93.1 192.4H97.9" stroke="#3a3aff" stroke-width="1.1" fill="none"/>
<path d="M142.0 189.3V210.7M139.6 189.3H144.4M139.6 210.7H144.4" stroke="#3a3aff" stroke-width="1.1" fill="none"/>
<path d="M144.0 195.0V215.0M141.6 195.0H146.4M141.6 215.0H146.4" stroke="#3a3aff" stroke-width="1.1" fill="none"/>
<path d="M207.8 143.8V158.6M205.4 143.8H210.2M205.4 158.6H210.2" stroke="#3a3aff" stroke-width="1.1" fill="none"/>
<path d="M352.4 132.8V152.0M350.0 132.8H354.8M350.0 152.0H354.8" stroke="#3a3aff" stroke-width="1.1" fill="none"/>
<path d="M373.0 146.0V159.6M370.6 146.0H375.4M370.6 159.6H375.4" stroke="#3a3aff" stroke-width="1.1" fill="none"/>
<path d="M385.0 146.0V161.2M382.6 146.0H387.4M382.6 161.2H387.4" stroke="#3a3aff" stroke-width="1.1" fill="none"/>
<path d="M404.0 109.1V124.9M401.6 109.1H406.4M401.6 124.9H406.4" stroke="#3a3aff" stroke-width="1.1" fill="none"/>
<path d="M412.0 108.5V128.3M409.6 108.5H414.4M409.6 128.3H414.4" stroke="#3a3aff" stroke-width="1.1" fill="none"/>
<path d="M396.0 120.8V136.6M393.6 120.8H398.4M393.6 136.6H398.4" stroke="#3a3aff" stroke-width="1.1" fill="none"/>
<path d="M438.0 126.7V141.3M435.6 126.7H440.4M435.6 141.3H440.4" stroke="#3a3aff" stroke-width="1.1" fill="none"/>
<path d="M448.6 153.5V166.5M446.2 153.5H451.0M446.2 166.5H451.0" stroke="#3a3aff" stroke-width="1.1" fill="none"/>
<path d="M449.1 174.4V193.8M446.7 174.4H451.5M446.7 193.8H451.5" stroke="#3a3aff" stroke-width="1.1" fill="none"/>
<path d="M270.4 179.0H278.2M274.3 175.1V182.9" stroke="#0000f0" stroke-width="2.2" fill="none"/>
<path d="M172.4 148.0H180.2M176.3 144.1V151.9" stroke="#0000f0" stroke-width="2.2" fill="none"/>
<path d="M79.7 144.7H87.5M83.6 140.8V148.6" stroke="#0000f0" stroke-width="2.2" fill="none"/>
<path d="M150.7 173.0H158.5M154.6 169.1V176.9" stroke="#0000f0" stroke-width="2.2" fill="none"/>
<path d="M347.1 156.8H354.9M351.0 152.9V160.7" stroke="#0000f0" stroke-width="2.2" fill="none"/>
<path d="M153.9 156.6H161.7M157.8 152.7V160.5" stroke="#0000f0" stroke-width="2.2" fill="none"/>
<path d="M220.3 146.5H228.1M224.2 142.6V150.4" stroke="#0000f0" stroke-width="2.2" fill="none"/>
<path d="M76.6 141.1H84.4M80.5 137.2V145.0" stroke="#0000f0" stroke-width="2.2" fill="none"/>
<path d="M401.3 134.0H409.1M405.2 130.1V137.9" stroke="#0000f0" stroke-width="2.2" fill="none"/>
<path d="M135.8 191.6H143.6M139.7 187.7V195.5" stroke="#0000f0" stroke-width="2.2" fill="none"/>
<path d="M180.3 145.2H188.1M184.2 141.3V149.1" stroke="#0000f0" stroke-width="2.2" fill="none"/>
<path d="M421.1 144.2H428.9M425.0 140.3V148.1" stroke="#0000f0" stroke-width="2.2" fill="none"/>
<path d="M275.4 172.7H283.2M279.3 168.8V176.6" stroke="#0000f0" stroke-width="2.2" fill="none"/>
<path d="M408.0 139.1H415.8M411.9 135.2V143.0" stroke="#0000f0" stroke-width="2.2" fill="none"/>
<path d="M326.5 204.1H334.3M330.4 200.2V208.0" stroke="#0000f0" stroke-width="2.2" fill="none"/>
<path d="M366.6 148.9H374.4M370.5 145.0V152.8" stroke="#0000f0" stroke-width="2.2" fill="none"/>
<path d="M111.1 205.1H118.9M115.0 201.2V209.0" stroke="#0000f0" stroke-width="2.2" fill="none"/>
<path d="M287.8 195.3H295.6M291.7 191.4V199.2" stroke="#0000f0" stroke-width="2.2" fill="none"/>
<path d="M274.7 170.7H282.5M278.6 166.8V174.6" stroke="#0000f0" stroke-width="2.2" fill="none"/>
<path d="M417.5 127.4H425.3M421.4 123.5V131.3" stroke="#0000f0" stroke-width="2.2" fill="none"/>
<path d="M217.1 136.8H224.9M221.0 132.9V140.7" stroke="#0000f0" stroke-width="2.2" fill="none"/>
<path d="M310.2 203.8H318.0M314.1 199.9V207.7" stroke="#0000f0" stroke-width="2.2" fill="none"/>
<path d="M98.4 189.1H106.2M102.3 185.2V193.0" stroke="#0000f0" stroke-width="2.2" fill="none"/>
<path d="M227.4 157.1H235.2M231.3 153.2V161.0" stroke="#0000f0" stroke-width="2.2" fill="none"/>
<path d="M202.1 146.1H209.9M206.0 142.2V150.0" stroke="#0000f0" stroke-width="2.2" fill="none"/>
<path d="M134.1 190.9H141.9M138.0 187.0V194.8" stroke="#0000f0" stroke-width="2.2" fill="none"/>
<path d="M395.9 147.2H403.7M399.8 143.3V151.1" stroke="#0000f0" stroke-width="2.2" fill="none"/>
<path d="M224.2 148.5H232.0M228.1 144.6V152.4" stroke="#0000f0" stroke-width="2.2" fill="none"/>
<path d="M459.7 193.0H467.5M463.6 189.1V196.9" stroke="#0000f0" stroke-width="2.2" fill="none"/>
<path d="M307.0 216.6H314.8M310.9 212.7V220.5" stroke="#0000f0" stroke-width="2.2" fill="none"/>
<path d="M312.9 216.3H320.7M316.8 212.4V220.2" stroke="#0000f0" stroke-width="2.2" fill="none"/>
<path d="M325.8 198.7H333.6M329.7 194.8V202.6" stroke="#0000f0" stroke-width="2.2" fill="none"/>
<path d="M340.9 174.5H348.7M344.8 170.6V178.4" stroke="#0000f0" stroke-width="2.2" fill="none"/>
<path d="M134.4 201.2H142.2M138.3 197.3V205.1" stroke="#0000f0" stroke-width="2.2" fill="none"/>
<path d="M248.1 150.9H255.9M252.0 147.0V154.8" stroke="#0000f0" stroke-width="2.2" fill="none"/>
<path d="M169.2 144.2H177.0M173.1 140.3V148.1" stroke="#0000f0" stroke-width="2.2" fill="none"/>
<path d="M233.3 144.4H241.1M237.2 140.5V148.3" stroke="#0000f0" stroke-width="2.2" fill="none"/>
<path d="M113.1 207.9H120.9M117.0 204.0V211.8" stroke="#0000f0" stroke-width="2.2" fill="none"/>
<path d="M455.5 181.7H463.3M459.4 177.8V185.6" stroke="#0000f0" stroke-width="2.2" fill="none"/>
<path d="M159.6 154.3H167.4M163.5 150.4V158.2" stroke="#0000f0" stroke-width="2.2" fill="none"/>
<path d="M339.1 186.8H346.9M343.0 182.9V190.7" stroke="#0000f0" stroke-width="2.2" fill="none"/>
<path d="M193.2 146.4H201.0M197.1 142.5V150.3" stroke="#0000f0" stroke-width="2.2" fill="none"/>
<path d="M418.6 142.2H426.4M422.5 138.3V146.1" stroke="#0000f0" stroke-width="2.2" fill="none"/>
<path d="M335.4 187.9H343.2M339.3 184.0V191.8" stroke="#0000f0" stroke-width="2.2" fill="none"/>
<path d="M126.8 191.4H134.6M130.7 187.5V195.3" stroke="#0000f0" stroke-width="2.2" fill="none"/>
<path d="M407.2 135.6H415.0M411.1 131.7V139.5" stroke="#0000f0" stroke-width="2.2" fill="none"/>
<path d="M446.5 176.6H454.3M450.4 172.7V180.5" stroke="#0000f0" stroke-width="2.2" fill="none"/>
<path d="M430.3 144.0H438.1M434.2 140.1V147.9" stroke="#0000f0" stroke-width="2.2" fill="none"/>
<path d="M299.0 202.9H306.8M302.9 199.0V206.8" stroke="#0000f0" stroke-width="2.2" fill="none"/>
<path d="M132.3 194.0H140.1M136.2 190.1V197.9" stroke="#0000f0" stroke-width="2.2" fill="none"/>
<path d="M150.7 177.4H158.5M154.6 173.5V181.3" stroke="#0000f0" stroke-width="2.2" fill="none"/>
<path d="M439.8 160.8H447.6M443.7 156.9V164.7" stroke="#0000f0" stroke-width="2.2" fill="none"/>
<path d="M292.2 206.1H300.0M296.1 202.2V210.0" stroke="#0000f0" stroke-width="2.2" fill="none"/>
<path d="M146.1 178.7H153.9M150.0 174.8V182.6" stroke="#0000f0" stroke-width="2.2" fill="none"/>
<path d="M422.5 145.2H430.3M426.4 141.3V149.1" stroke="#0000f0" stroke-width="2.2" fill="none"/>
<path d="M327.2 207.4H335.0M331.1 203.5V211.3" stroke="#0000f0" stroke-width="2.2" fill="none"/>
<path d="M299.0 214.7H306.8M302.9 210.8V218.6" stroke="#0000f0" stroke-width="2.2" fill="none"/>
<path d="M223.0 154.4H230.8M226.9 150.5V158.3" stroke="#0000f0" stroke-width="2.2" fill="none"/>
<path d="M236.6 154.8H244.4M240.5 150.9V158.7" stroke="#0000f0" stroke-width="2.2" fill="none"/>
<path d="M161.0 156.3H168.8M164.9 152.4V160.2" stroke="#0000f0" stroke-width="2.2" fill="none"/>
<path d="M132.9 182.5H140.7M136.8 178.6V186.4" stroke="#0000f0" stroke-width="2.2" fill="none"/>
<path d="M143.0 185.0H150.8M146.9 181.1V188.9" stroke="#0000f0" stroke-width="2.2" fill="none"/>
<path d="M142.2 182.4H150.0M146.1 178.5V186.3" stroke="#0000f0" stroke-width="2.2" fill="none"/>
<path d="M135.0 185.5H142.8M138.9 181.6V189.4" stroke="#0000f0" stroke-width="2.2" fill="none"/>
<path d="M214.0 143.1H221.8M217.9 139.2V147.0" stroke="#0000f0" stroke-width="2.2" fill="none"/>
<path d="M211.8 149.6H219.6M215.7 145.7V153.5" stroke="#0000f0" stroke-width="2.2" fill="none"/>
<path d="M173.3 139.5H181.1M177.2 135.6V143.4" stroke="#0000f0" stroke-width="2.2" fill="none"/>
<path d="M215.7 147.4H223.5M219.6 143.5V151.3" stroke="#0000f0" stroke-width="2.2" fill="none"/>
<path d="M213.5 139.0H221.3M217.4 135.1V142.9" stroke="#0000f0" stroke-width="2.2" fill="none"/>
<path d="M227.9 153.5H235.7M231.8 149.6V157.4" stroke="#0000f0" stroke-width="2.2" fill="none"/>
<path d="M226.4 149.5H234.2M230.3 145.6V153.4" stroke="#0000f0" stroke-width="2.2" fill="none"/>
<path d="M190.6 152.8H198.4M194.5 148.9V156.7" stroke="#0000f0" stroke-width="2.2" fill="none"/>
<path d="M220.3 137.7H228.1M224.2 133.8V141.6" stroke="#0000f0" stroke-width="2.2" fill="none"/>
<path d="M231.1 138.1H238.9M235.0 134.2V142.0" stroke="#0000f0" stroke-width="2.2" fill="none"/>
<path d="M233.1 144.7H240.9M237.0 140.8V148.6" stroke="#0000f0" stroke-width="2.2" fill="none"/>
<path d="M79.6 138.4H87.4M83.5 134.5V142.3" stroke="#0000f0" stroke-width="2.2" fill="none"/>
<path d="M91.6 183.6H99.4M95.5 179.7V187.5" stroke="#0000f0" stroke-width="2.2" fill="none"/>
<path d="M138.1 200.0H145.9M142.0 196.1V203.9" stroke="#0000f0" stroke-width="2.2" fill="none"/>
<path d="M140.1 205.0H147.9M144.0 201.1V208.9" stroke="#0000f0" stroke-width="2.2" fill="none"/>
<path d="M203.9 151.2H211.7M207.8 147.3V155.1" stroke="#0000f0" stroke-width="2.2" fill="none"/>
<path d="M348.5 142.4H356.3M352.4 138.5V146.3" stroke="#0000f0" stroke-width="2.2" fill="none"/>
<path d="M369.1 152.8H376.9M373.0 148.9V156.7" stroke="#0000f0" stroke-width="2.2" fill="none"/>
<path d="M381.1 153.6H388.9M385.0 149.7V157.5" stroke="#0000f0" stroke-width="2.2" fill="none"/>
<path d="M400.1 117.0H407.9M404.0 113.1V120.9" stroke="#0000f0" stroke-width="2.2" fill="none"/>
<path d="M408.1 118.4H415.9M412.0 114.5V122.3" stroke="#0000f0" stroke-width="2.2" fill="none"/>
<path d="M392.1 128.7H399.9M396.0 124.8V132.6" stroke="#0000f0" stroke-width="2.2" fill="none"/>
<path d="M434.1 134.0H441.9M438.0 130.1V137.9" stroke="#0000f0" stroke-width="2.2" fill="none"/>
<path d="M444.7 160.0H452.5M448.6 156.1V163.9" stroke="#0000f0" stroke-width="2.2" fill="none"/>
<path d="M445.2 184.1H453.0M449.1 180.2V188.0" stroke="#0000f0" stroke-width="2.2" fill="none"/>
<path d="M111.0 190.9V212.8M108.6 190.9H113.4M108.6 212.8H113.4" stroke="#3838a8" stroke-width="1.1" fill="none"/>
<path d="M374.8 131.6V149.6M372.4 131.6H377.2M372.4 149.6H377.2" stroke="#3838a8" stroke-width="1.1" fill="none"/>
<path d="M306.6 202.2V223.1M304.2 202.2H309.0M304.2 223.1H309.0" stroke="#3838a8" stroke-width="1.1" fill="none"/>
<path d="M196.8 138.7V160.6M194.4 138.7H199.2M194.4 160.6H199.2" stroke="#3838a8" stroke-width="1.1" fill="none"/>
<path d="M109.5 189.4V205.5M107.1 189.4H111.9M107.1 205.5H111.9" stroke="#3838a8" stroke-width="1.1" fill="none"/>
<path d="M378.9 133.7V152.2M376.5 133.7H381.3M376.5 152.2H381.3" stroke="#3838a8" stroke-width="1.1" fill="none"/>
<path d="M130.5 182.7V203.5M128.1 182.7H132.9M128.1 203.5H132.9" stroke="#3838a8" stroke-width="1.1" fill="none"/>
<path d="M131.4 201.0V219.8M129.0 201.0H133.8M129.0 219.8H133.8" stroke="#3838a8" stroke-width="1.1" fill="none"/>
<path d="M130.4 191.0V205.7M128.0 191.0H132.8M128.0 205.7H132.8" stroke="#3838a8" stroke-width="1.1" fill="none"/>
<path d="M110.9 196.9V209.3M108.5 196.9H113.3M108.5 209.3H113.3" stroke="#3838a8" stroke-width="1.1" fill="none"/>
<path d="M435.2 132.5V150.6M432.8 132.5H437.6M432.8 150.6H437.6" stroke="#3838a8" stroke-width="1.1" fill="none"/>
<path d="M184.8 136.0V144.8M182.4 136.0H187.2M182.4 144.8H187.2" stroke="#3838a8" stroke-width="1.1" fill="none"/>
<path d="M199.4 145.7V166.1M197.0 145.7H201.8M197.0 166.1H201.8" stroke="#3838a8" stroke-width="1.1" fill="none"/>
<path d="M406.3 137.2V148.6M403.9 137.2H408.7M403.9 148.6H408.7" stroke="#3838a8" stroke-width="1.1" fill="none"/>
<path d="M322.6 202.3V213.4M320.2 202.3H325.0M320.2 213.4H325.0" stroke="#3838a8" stroke-width="1.1" fill="none"/>
<path d="M152.5 159.8V174.8M150.1 159.8H154.9M150.1 174.8H154.9" stroke="#3838a8" stroke-width="1.1" fill="none"/>
<path d="M249.9 156.3V166.8M247.5 156.3H252.3M247.5 166.8H252.3" stroke="#3838a8" stroke-width="1.1" fill="none"/>
<path d="M426.4 126.6V141.4M424.0 126.6H428.8M424.0 141.4H428.8" stroke="#3838a8" stroke-width="1.1" fill="none"/>
<path d="M226.5 136.8V154.1M224.1 136.8H228.9M224.1 154.1H228.9" stroke="#3838a8" stroke-width="1.1" fill="none"/>
<path d="M358.4 143.4V158.8M356.0 143.4H360.8M356.0 158.8H360.8" stroke="#3838a8" stroke-width="1.1" fill="none"/>
<path d="M117.0 200.0V215.2M114.6 200.0H119.4M114.6 215.2H119.4" stroke="#3838a8" stroke-width="1.1" fill="none"/>
<path d="M364.8 136.9V152.4M362.4 136.9H367.2M362.4 152.4H367.2" stroke="#3838a8" stroke-width="1.1" fill="none"/>
<path d="M384.2 131.2V150.3M381.8 131.2H386.6M381.8 150.3H386.6" stroke="#3838a8" stroke-width="1.1" fill="none"/>
<path d="M403.5 146.1V156.6M401.1 146.1H405.9M401.1 156.6H405.9" stroke="#3838a8" stroke-width="1.1" fill="none"/>
<path d="M344.0 175.6V185.1M341.6 175.6H346.4M341.6 185.1H346.4" stroke="#3838a8" stroke-width="1.1" fill="none"/>
<path d="M224.7 140.5V161.6M222.3 140.5H227.1M222.3 161.6H227.1" stroke="#3838a8" stroke-width="1.1" fill="none"/>
<path d="M104.2 172.0V193.6M101.8 172.0H106.6M101.8 193.6H106.6" stroke="#3838a8" stroke-width="1.1" fill="none"/>
<path d="M282.9 182.7V197.8M280.5 182.7H285.3M280.5 197.8H285.3" stroke="#3838a8" stroke-width="1.1" fill="none"/>
<path d="M376.7 120.4V141.2M374.3 120.4H379.1M374.3 141.2H379.1" stroke="#3838a8" stroke-width="1.1" fill="none"/>
<path d="M154.0 163.4V175.8M151.6 163.4H156.4M151.6 175.8H156.4" stroke="#3838a8" stroke-width="1.1" fill="none"/>
<path d="M183.6 153.7V162.6M181.2 153.7H186.0M181.2 162.6H186.0" stroke="#3838a8" stroke-width="1.1" fill="none"/>
<path d="M289.7 181.9V196.4M287.3 181.9H292.1M287.3 196.4H292.1" stroke="#3838a8" stroke-width="1.1" fill="none"/>
<path d="M373.1 132.6V151.3M370.7 132.6H375.5M370.7 151.3H375.5" stroke="#3838a8" stroke-width="1.1" fill="none"/>
<path d="M431.4 127.1V145.7M429.0 127.1H433.8M429.0 145.7H433.8" stroke="#3838a8" stroke-width="1.1" fill="none"/>
<path d="M128.4 184.1V204.0M126.0 184.1H130.8M126.0 204.0H130.8" stroke="#3838a8" stroke-width="1.1" fill="none"/>
<path d="M151.4 175.4V193.7M149.0 175.4H153.8M149.0 193.7H153.8" stroke="#3838a8" stroke-width="1.1" fill="none"/>
<path d="M393.2 132.3V142.7M390.8 132.3H395.6M390.8 142.7H395.6" stroke="#3838a8" stroke-width="1.1" fill="none"/>
<path d="M332.3 193.9V204.2M329.9 193.9H334.7M329.9 204.2H334.7" stroke="#3838a8" stroke-width="1.1" fill="none"/>
<path d="M362.3 137.0V153.3M359.9 137.0H364.7M359.9 153.3H364.7" stroke="#3838a8" stroke-width="1.1" fill="none"/>
<path d="M470.7 185.4V206.6M468.3 185.4H473.1M468.3 206.6H473.1" stroke="#3838a8" stroke-width="1.1" fill="none"/>
<path d="M448.1 163.9V179.1M445.7 163.9H450.5M445.7 179.1H450.5" stroke="#3838a8" stroke-width="1.1" fill="none"/>
<path d="M410.3 134.7V156.3M407.9 134.7H412.7M407.9 156.3H412.7" stroke="#3838a8" stroke-width="1.1" fill="none"/>
<path d="M384.4 126.5V145.8M382.0 126.5H386.8M382.0 145.8H386.8" stroke="#3838a8" stroke-width="1.1" fill="none"/>
<path d="M234.2 141.9V161.1M231.8 141.9H236.6M231.8 161.1H236.6" stroke="#3838a8" stroke-width="1.1" fill="none"/>
<path d="M331.0 199.8V216.8M328.6 199.8H333.4M328.6 216.8H333.4" stroke="#3838a8" stroke-width="1.1" fill="none"/>
<path d="M151.5 162.7V176.7M149.1 162.7H153.9M149.1 176.7H153.9" stroke="#3838a8" stroke-width="1.1" fill="none"/>
<path d="M377.5 138.2V155.9M375.1 138.2H379.9M375.1 155.9H379.9" stroke="#3838a8" stroke-width="1.1" fill="none"/>
<path d="M376.8 123.9V136.6M374.4 123.9H379.2M374.4 136.6H379.2" stroke="#3838a8" stroke-width="1.1" fill="none"/>
<path d="M362.5 145.6V156.6M360.1 145.6H364.9M360.1 156.6H364.9" stroke="#3838a8" stroke-width="1.1" fill="none"/>
<path d="M253.8 141.8V160.6M251.4 141.8H256.2M251.4 160.6H256.2" stroke="#3838a8" stroke-width="1.1" fill="none"/>
<path d="M227.6 132.4V150.6M225.2 132.4H230.0M225.2 150.6H230.0" stroke="#3838a8" stroke-width="1.1" fill="none"/>
<path d="M244.0 138.0V159.4M241.6 138.0H246.4M241.6 159.4H246.4" stroke="#3838a8" stroke-width="1.1" fill="none"/>
<path d="M92.1 157.9V171.6M89.7 157.9H94.5M89.7 171.6H94.5" stroke="#3838a8" stroke-width="1.1" fill="none"/>
<path d="M410.8 120.4V135.8M408.4 120.4H413.2M408.4 135.8H413.2" stroke="#3838a8" stroke-width="1.1" fill="none"/>
<path d="M292.2 198.3V207.5M289.8 198.3H294.6M289.8 207.5H294.6" stroke="#3838a8" stroke-width="1.1" fill="none"/>
<path d="M231.3 148.1V163.9M228.9 148.1H233.7M228.9 163.9H233.7" stroke="#3838a8" stroke-width="1.1" fill="none"/>
<path d="M294.4 187.4V196.0M292.0 187.4H296.8M292.0 196.0H296.8" stroke="#3838a8" stroke-width="1.1" fill="none"/>
<path d="M362.6 135.7V152.5M360.2 135.7H365.0M360.2 152.5H365.0" stroke="#3838a8" stroke-width="1.1" fill="none"/>
<path d="M228.9 140.9V150.0M226.5 140.9H231.3M226.5 150.0H231.3" stroke="#3838a8" stroke-width="1.1" fill="none"/>
<path d="M405.4 131.9V143.0M403.0 131.9H407.8M403.0 143.0H407.8" stroke="#3838a8" stroke-width="1.1" fill="none"/>
<path d="M440.3 139.2V159.5M437.9 139.2H442.7M437.9 159.5H442.7" stroke="#3838a8" stroke-width="1.1" fill="none"/>
<path d="M231.3 147.6V161.9M228.9 147.6H233.7M228.9 161.9H233.7" stroke="#3838a8" stroke-width="1.1" fill="none"/>
<path d="M133.2 188.0V205.9M130.8 188.0H135.6M130.8 205.9H135.6" stroke="#3838a8" stroke-width="1.1" fill="none"/>
<path d="M154.4 165.1V178.8M152.0 165.1H156.8M152.0 178.8H156.8" stroke="#3838a8" stroke-width="1.1" fill="none"/>
<path d="M163.2 155.9V169.4M160.8 155.9H165.6M160.8 169.4H165.6" stroke="#3838a8" stroke-width="1.1" fill="none"/>
<path d="M151.3 175.1V188.4M148.9 175.1H153.7M148.9 188.4H153.7" stroke="#3838a8" stroke-width="1.1" fill="none"/>
<path d="M156.7 153.2V171.8M154.3 153.2H159.1M154.3 171.8H159.1" stroke="#3838a8" stroke-width="1.1" fill="none"/>
<path d="M163.7 152.1V164.9M161.3 152.1H166.1M161.3 164.9H166.1" stroke="#3838a8" stroke-width="1.1" fill="none"/>
<path d="M158.7 153.5V166.9M156.3 153.5H161.1M156.3 166.9H161.1" stroke="#3838a8" stroke-width="1.1" fill="none"/>
<path d="M233.4 138.8V149.4M231.0 138.8H235.8M231.0 149.4H235.8" stroke="#3838a8" stroke-width="1.1" fill="none"/>
<path d="M228.9 146.4V158.5M226.5 146.4H231.3M226.5 158.5H231.3" stroke="#3838a8" stroke-width="1.1" fill="none"/>
<path d="M203.5 137.9V159.9M201.1 137.9H205.9M201.1 159.9H205.9" stroke="#3838a8" stroke-width="1.1" fill="none"/>
<path d="M223.5 131.6V145.8M221.1 131.6H225.9M221.1 145.8H225.9" stroke="#3838a8" stroke-width="1.1" fill="none"/>
<path d="M172.6 130.8V147.0M170.2 130.8H175.0M170.2 147.0H175.0" stroke="#3838a8" stroke-width="1.1" fill="none"/>
<path d="M199.2 133.8V154.3M196.8 133.8H201.6M196.8 154.3H201.6" stroke="#3838a8" stroke-width="1.1" fill="none"/>
<path d="M234.5 142.8V154.6M232.1 142.8H236.9M232.1 154.6H236.9" stroke="#3838a8" stroke-width="1.1" fill="none"/>
<path d="M213.5 140.2V155.1M211.1 140.2H215.9M211.1 155.1H215.9" stroke="#3838a8" stroke-width="1.1" fill="none"/>
<path d="M211.8 136.4V145.5M209.4 136.4H214.2M209.4 145.5H214.2" stroke="#3838a8" stroke-width="1.1" fill="none"/>
<path d="M219.9 136.5V147.3M217.5 136.5H222.3M217.5 147.3H222.3" stroke="#3838a8" stroke-width="1.1" fill="none"/>
<path d="M220.8 142.8V162.4M218.4 142.8H223.2M218.4 162.4H223.2" stroke="#3838a8" stroke-width="1.1" fill="none"/>
<path d="M213.8 134.3V148.9M211.4 134.3H216.2M211.4 148.9H216.2" stroke="#3838a8" stroke-width="1.1" fill="none"/>
<path d="M93.8 151.1V169.5M91.4 151.1H96.2M91.4 169.5H96.2" stroke="#3838a8" stroke-width="1.1" fill="none"/>
<path d="M90.0 161.7V172.3M87.6 161.7H92.4M87.6 172.3H92.4" stroke="#3838a8" stroke-width="1.1" fill="none"/>
<path d="M117.0 197.2V212.8M114.6 197.2H119.4M114.6 212.8H119.4" stroke="#3838a8" stroke-width="1.1" fill="none"/>
<path d="M143.3 163.8V179.4M140.9 163.8H145.7M140.9 179.4H145.7" stroke="#3838a8" stroke-width="1.1" fill="none"/>
<path d="M147.6 164.6V176.8M145.2 164.6H150.0M145.2 176.8H150.0" stroke="#3838a8" stroke-width="1.1" fill="none"/>
<path d="M155.0 158.3V171.7M152.6 158.3H157.4M152.6 171.7H157.4" stroke="#3838a8" stroke-width="1.1" fill="none"/>
<path d="M157.0 160.6V173.4M154.6 160.6H159.4M154.6 173.4H159.4" stroke="#3838a8" stroke-width="1.1" fill="none"/>
<path d="M164.8 165.5V179.3M162.4 165.5H167.2M162.4 179.3H167.2" stroke="#3838a8" stroke-width="1.1" fill="none"/>
<path d="M166.5 145.6V161.2M164.1 145.6H168.9M164.1 161.2H168.9" stroke="#3838a8" stroke-width="1.1" fill="none"/>
<path d="M177.0 124.4V139.6M174.6 124.4H179.4M174.6 139.6H179.4" stroke="#3838a8" stroke-width="1.1" fill="none"/>
<path d="M222.4 116.4V137.6M220.0 116.4H224.8M220.0 137.6H224.8" stroke="#3838a8" stroke-width="1.1" fill="none"/>
<path d="M225.9 117.1V154.3M223.5 117.1H228.3M223.5 154.3H228.3" stroke="#3838a8" stroke-width="1.1" fill="none"/>
<path d="M176.7 125.4V137.4M174.3 125.4H179.1M174.3 137.4H179.1" stroke="#3838a8" stroke-width="1.1" fill="none"/>
<path d="M194.0 123.7V139.1M191.6 123.7H196.4M191.6 139.1H196.4" stroke="#3838a8" stroke-width="1.1" fill="none"/>
<path d="M313.0 181.1V194.9M310.6 181.1H315.4M310.6 194.9H315.4" stroke="#3838a8" stroke-width="1.1" fill="none"/>
<path d="M355.0 159.8V172.2M352.6 159.8H357.4M352.6 172.2H357.4" stroke="#3838a8" stroke-width="1.1" fill="none"/>
<path d="M344.0 173.8V186.2M341.6 173.8H346.4M341.6 186.2H346.4" stroke="#3838a8" stroke-width="1.1" fill="none"/>
<path d="M355.9 157.6V175.6M353.5 157.6H358.3M353.5 175.6H358.3" stroke="#3838a8" stroke-width="1.1" fill="none"/>
<path d="M349.8 155.1V167.7M347.4 155.1H352.2M347.4 167.7H352.2" stroke="#3838a8" stroke-width="1.1" fill="none"/>
<path d="M405.0 136.9V150.5M402.6 136.9H407.4M402.6 150.5H407.4" stroke="#3838a8" stroke-width="1.1" fill="none"/>
<path d="M425.3 125.5V139.3M422.9 125.5H427.7M422.9 139.3H427.7" stroke="#3838a8" stroke-width="1.1" fill="none"/>
<path d="M444.3 158.7V171.7M441.9 158.7H446.7M441.9 171.7H446.7" stroke="#3838a8" stroke-width="1.1" fill="none"/>
<path d="M468.1 203.8V216.2M465.7 203.8H470.5M465.7 216.2H470.5" stroke="#3838a8" stroke-width="1.1" fill="none"/>
<circle cx="111.0" cy="201.8" r="2.8" fill="#000080"/>
<circle cx="374.8" cy="140.6" r="2.8" fill="#000080"/>
<circle cx="306.6" cy="212.6" r="2.8" fill="#000080"/>
<circle cx="196.8" cy="149.6" r="2.8" fill="#000080"/>
<circle cx="109.5" cy="197.4" r="2.8" fill="#000080"/>
<circle cx="378.9" cy="142.9" r="2.8" fill="#000080"/>
<circle cx="130.5" cy="193.1" r="2.8" fill="#000080"/>
<circle cx="131.4" cy="210.4" r="2.8" fill="#000080"/>
<circle cx="130.4" cy="198.3" r="2.8" fill="#000080"/>
<circle cx="110.9" cy="203.1" r="2.8" fill="#000080"/>
<circle cx="435.2" cy="141.6" r="2.8" fill="#000080"/>
<circle cx="184.8" cy="140.4" r="2.8" fill="#000080"/>
<circle cx="199.4" cy="155.9" r="2.8" fill="#000080"/>
<circle cx="406.3" cy="142.9" r="2.8" fill="#000080"/>
<circle cx="322.6" cy="207.8" r="2.8" fill="#000080"/>
<circle cx="152.5" cy="167.3" r="2.8" fill="#000080"/>
<circle cx="249.9" cy="161.6" r="2.8" fill="#000080"/>
<circle cx="426.4" cy="134.0" r="2.8" fill="#000080"/>
<circle cx="226.5" cy="145.4" r="2.8" fill="#000080"/>
<circle cx="358.4" cy="151.1" r="2.8" fill="#000080"/>
<circle cx="117.0" cy="207.6" r="2.8" fill="#000080"/>
<circle cx="364.8" cy="144.6" r="2.8" fill="#000080"/>
<circle cx="384.2" cy="140.7" r="2.8" fill="#000080"/>
<circle cx="403.5" cy="151.3" r="2.8" fill="#000080"/>
<circle cx="344.0" cy="180.3" r="2.8" fill="#000080"/>
<circle cx="224.7" cy="151.1" r="2.8" fill="#000080"/>
<circle cx="104.2" cy="182.8" r="2.8" fill="#000080"/>
<circle cx="282.9" cy="190.3" r="2.8" fill="#000080"/>
<circle cx="376.7" cy="130.8" r="2.8" fill="#000080"/>
<circle cx="154.0" cy="169.6" r="2.8" fill="#000080"/>
<circle cx="183.6" cy="158.1" r="2.8" fill="#000080"/>
<circle cx="289.7" cy="189.1" r="2.8" fill="#000080"/>
<circle cx="373.1" cy="141.9" r="2.8" fill="#000080"/>
<circle cx="431.4" cy="136.4" r="2.8" fill="#000080"/>
<circle cx="128.4" cy="194.0" r="2.8" fill="#000080"/>
<circle cx="151.4" cy="184.6" r="2.8" fill="#000080"/>
<circle cx="393.2" cy="137.5" r="2.8" fill="#000080"/>
<circle cx="332.3" cy="199.0" r="2.8" fill="#000080"/>
<circle cx="362.3" cy="145.2" r="2.8" fill="#000080"/>
<circle cx="470.7" cy="196.0" r="2.8" fill="#000080"/>
<circle cx="448.1" cy="171.5" r="2.8" fill="#000080"/>
<circle cx="410.3" cy="145.5" r="2.8" fill="#000080"/>
<circle cx="384.4" cy="136.2" r="2.8" fill="#000080"/>
<circle cx="234.2" cy="151.5" r="2.8" fill="#000080"/>
<circle cx="331.0" cy="208.3" r="2.8" fill="#000080"/>
<circle cx="151.5" cy="169.7" r="2.8" fill="#000080"/>
<circle cx="377.5" cy="147.1" r="2.8" fill="#000080"/>
<circle cx="376.8" cy="130.2" r="2.8" fill="#000080"/>
<circle cx="362.5" cy="151.1" r="2.8" fill="#000080"/>
<circle cx="253.8" cy="151.2" r="2.8" fill="#000080"/>
<circle cx="227.6" cy="141.5" r="2.8" fill="#000080"/>
<circle cx="244.0" cy="148.7" r="2.8" fill="#000080"/>
<circle cx="92.1" cy="164.7" r="2.8" fill="#000080"/>
<circle cx="410.8" cy="128.1" r="2.8" fill="#000080"/>
<circle cx="292.2" cy="202.9" r="2.8" fill="#000080"/>
<circle cx="231.3" cy="156.0" r="2.8" fill="#000080"/>
<circle cx="294.4" cy="191.7" r="2.8" fill="#000080"/>
<circle cx="362.6" cy="144.1" r="2.8" fill="#000080"/>
<circle cx="228.9" cy="145.4" r="2.8" fill="#000080"/>
<circle cx="405.4" cy="137.4" r="2.8" fill="#000080"/>
<circle cx="440.3" cy="149.4" r="2.8" fill="#000080"/>
<circle cx="231.3" cy="154.8" r="2.8" fill="#000080"/>
<circle cx="133.2" cy="196.9" r="2.8" fill="#000080"/>
<circle cx="154.4" cy="172.0" r="2.8" fill="#000080"/>
<circle cx="163.2" cy="162.6" r="2.8" fill="#000080"/>
<circle cx="151.3" cy="181.8" r="2.8" fill="#000080"/>
<circle cx="156.7" cy="162.5" r="2.8" fill="#000080"/>
<circle cx="163.7" cy="158.5" r="2.8" fill="#000080"/>
<circle cx="158.7" cy="160.2" r="2.8" fill="#000080"/>
<circle cx="233.4" cy="144.1" r="2.8" fill="#000080"/>
<circle cx="228.9" cy="152.4" r="2.8" fill="#000080"/>
<circle cx="203.5" cy="148.9" r="2.8" fill="#000080"/>
<circle cx="223.5" cy="138.7" r="2.8" fill="#000080"/>
<circle cx="172.6" cy="138.9" r="2.8" fill="#000080"/>
<circle cx="199.2" cy="144.0" r="2.8" fill="#000080"/>
<circle cx="234.5" cy="148.7" r="2.8" fill="#000080"/>
<circle cx="213.5" cy="147.6" r="2.8" fill="#000080"/>
<circle cx="211.8" cy="141.0" r="2.8" fill="#000080"/>
<circle cx="219.9" cy="141.9" r="2.8" fill="#000080"/>
<circle cx="220.8" cy="152.6" r="2.8" fill="#000080"/>
<circle cx="213.8" cy="141.6" r="2.8" fill="#000080"/>
<circle cx="93.8" cy="160.3" r="2.8" fill="#000080"/>
<circle cx="90.0" cy="167.0" r="2.8" fill="#000080"/>
<circle cx="117.0" cy="205.0" r="2.8" fill="#000080"/>
<circle cx="143.3" cy="171.6" r="2.8" fill="#000080"/>
<circle cx="147.6" cy="170.7" r="2.8" fill="#000080"/>
<circle cx="155.0" cy="165.0" r="2.8" fill="#000080"/>
<circle cx="157.0" cy="167.0" r="2.8" fill="#000080"/>
<circle cx="164.8" cy="172.4" r="2.8" fill="#000080"/>
<circle cx="166.5" cy="153.4" r="2.8" fill="#000080"/>
<circle cx="177.0" cy="132.0" r="2.8" fill="#000080"/>
<circle cx="222.4" cy="127.0" r="2.8" fill="#000080"/>
<circle cx="225.9" cy="135.7" r="2.8" fill="#000080"/>
<circle cx="176.7" cy="131.4" r="2.8" fill="#000080"/>
<circle cx="194.0" cy="131.4" r="2.8" fill="#000080"/>
<circle cx="313.0" cy="188.0" r="2.8" fill="#000080"/>
<circle cx="355.0" cy="166.0" r="2.8" fill="#000080"/>
<circle cx="344.0" cy="180.0" r="2.8" fill="#000080"/>
<circle cx="355.9" cy="166.6" r="2.8" fill="#000080"/>
<circle cx="349.8" cy="161.4" r="2.8" fill="#000080"/>
<circle cx="405.0" cy="143.7" r="2.8" fill="#000080"/>
<circle cx="425.3" cy="132.4" r="2.8" fill="#000080"/>
<circle cx="444.3" cy="165.2" r="2.8" fill="#000080"/>
<circle cx="468.1" cy="210.0" r="2.8" fill="#000080"/>
<path d="M179.2 145.2V156.0M176.8 145.2H181.6M176.8 156.0H181.6" stroke="#9a9a9a" stroke-width="1.1" fill="none"/>
<path d="M171.5 148.2V166.1M169.1 148.2H173.9M169.1 166.1H173.9" stroke="#9a9a9a" stroke-width="1.1" fill="none"/>
<path d="M169.3 145.6V154.4M166.9 145.6H171.7M166.9 154.4H171.7" stroke="#9a9a9a" stroke-width="1.1" fill="none"/>
<path d="M279.7 180.9V189.8M277.3 180.9H282.1M277.3 189.8H282.1" stroke="#9a9a9a" stroke-width="1.1" fill="none"/>
<path d="M281.3 171.6V183.1M278.9 171.6H283.7M278.9 183.1H283.7" stroke="#9a9a9a" stroke-width="1.1" fill="none"/>
<path d="M434.3 139.5V154.2M431.9 139.5H436.7M431.9 154.2H436.7" stroke="#9a9a9a" stroke-width="1.1" fill="none"/>
<path d="M426.3 131.2V148.1M423.9 131.2H428.7M423.9 148.1H428.7" stroke="#9a9a9a" stroke-width="1.1" fill="none"/>
<path d="M434.1 144.8V166.3M431.7 144.8H436.5M431.7 166.3H436.5" stroke="#9a9a9a" stroke-width="1.1" fill="none"/>
<path d="M80.9 125.3V139.5M78.5 125.3H83.3M78.5 139.5H83.3" stroke="#9a9a9a" stroke-width="1.1" fill="none"/>
<path d="M86.0 139.8V152.2M83.6 139.8H88.4M83.6 152.2H88.4" stroke="#9a9a9a" stroke-width="1.1" fill="none"/>
<path d="M90.4 150.4V161.0M88.0 150.4H92.8M88.0 161.0H92.8" stroke="#9a9a9a" stroke-width="1.1" fill="none"/>
<path d="M190.5 151.1V161.7M188.1 151.1H192.9M188.1 161.7H192.9" stroke="#9a9a9a" stroke-width="1.1" fill="none"/>
<path d="M292.0 179.5V192.5M289.6 179.5H294.4M289.6 192.5H294.4" stroke="#9a9a9a" stroke-width="1.1" fill="none"/>
<path d="M300.0 184.5V195.5M297.6 184.5H302.4M297.6 195.5H302.4" stroke="#9a9a9a" stroke-width="1.1" fill="none"/>
<path d="M306.0 188.7V199.3M303.6 188.7H308.4M303.6 199.3H308.4" stroke="#9a9a9a" stroke-width="1.1" fill="none"/>
<path d="M423.6 138.3V148.9M421.2 138.3H426.0M421.2 148.9H426.0" stroke="#9a9a9a" stroke-width="1.1" fill="none"/>
<path d="M430.5 140.2V150.4M428.1 140.2H432.9M428.1 150.4H432.9" stroke="#9a9a9a" stroke-width="1.1" fill="none"/>
<path d="M440.0 139.7V152.7M437.6 139.7H442.4M437.6 152.7H442.4" stroke="#9a9a9a" stroke-width="1.1" fill="none"/>
<path d="M447.0 150.0V163.2M444.6 150.0H449.4M444.6 163.2H449.4" stroke="#9a9a9a" stroke-width="1.1" fill="none"/>
<path d="M175.0 146.9L183.4 154.3M175.0 154.3L183.4 146.9M175.8 150.6H182.6M179.2 147.2V154.0" stroke="#808080" stroke-width="1.8" fill="none"/><rect x="177.3" y="148.7" width="3.8" height="3.8" fill="#808080"/>
<path d="M167.3 153.4L175.7 160.8M167.3 160.8L175.7 153.4M168.1 157.1H174.9M171.5 153.7V160.5" stroke="#808080" stroke-width="1.8" fill="none"/><rect x="169.6" y="155.2" width="3.8" height="3.8" fill="#808080"/>
<path d="M165.1 146.3L173.5 153.7M165.1 153.7L173.5 146.3M165.9 150.0H172.7M169.3 146.6V153.4" stroke="#808080" stroke-width="1.8" fill="none"/><rect x="167.4" y="148.1" width="3.8" height="3.8" fill="#808080"/>
<path d="M275.5 181.6L283.9 189.0M275.5 189.0L283.9 181.6M276.3 185.3H283.1M279.7 181.9V188.7" stroke="#808080" stroke-width="1.8" fill="none"/><rect x="277.8" y="183.4" width="3.8" height="3.8" fill="#808080"/>
<path d="M277.1 173.7L285.5 181.1M277.1 181.1L285.5 173.7M277.9 177.4H284.7M281.3 174.0V180.8" stroke="#808080" stroke-width="1.8" fill="none"/><rect x="279.4" y="175.5" width="3.8" height="3.8" fill="#808080"/>
<path d="M430.1 143.1L438.5 150.5M430.1 150.5L438.5 143.1M430.9 146.8H437.7M434.3 143.4V150.2" stroke="#808080" stroke-width="1.8" fill="none"/><rect x="432.4" y="144.9" width="3.8" height="3.8" fill="#808080"/>
<path d="M422.1 135.9L430.5 143.3M422.1 143.3L430.5 135.9M422.9 139.6H429.7M426.3 136.2V143.0" stroke="#808080" stroke-width="1.8" fill="none"/><rect x="424.4" y="137.7" width="3.8" height="3.8" fill="#808080"/>
<path d="M429.9 151.9L438.3 159.3M429.9 159.3L438.3 151.9M430.7 155.6H437.5M434.1 152.2V159.0" stroke="#808080" stroke-width="1.8" fill="none"/><rect x="432.2" y="153.7" width="3.8" height="3.8" fill="#808080"/>
<path d="M76.7 128.7L85.1 136.1M76.7 136.1L85.1 128.7M77.5 132.4H84.3M80.9 129.0V135.8" stroke="#808080" stroke-width="1.8" fill="none"/><rect x="79.0" y="130.5" width="3.8" height="3.8" fill="#808080"/>
<path d="M81.8 142.3L90.2 149.7M81.8 149.7L90.2 142.3M82.6 146.0H89.4M86.0 142.6V149.4" stroke="#808080" stroke-width="1.8" fill="none"/><rect x="84.1" y="144.1" width="3.8" height="3.8" fill="#808080"/>
<path d="M86.2 152.0L94.6 159.4M86.2 159.4L94.6 152.0M87.0 155.7H93.8M90.4 152.3V159.1" stroke="#808080" stroke-width="1.8" fill="none"/><rect x="88.5" y="153.8" width="3.8" height="3.8" fill="#808080"/>
<path d="M186.3 152.7L194.7 160.1M186.3 160.1L194.7 152.7M187.1 156.4H193.9M190.5 153.0V159.8" stroke="#808080" stroke-width="1.8" fill="none"/><rect x="188.6" y="154.5" width="3.8" height="3.8" fill="#808080"/>
<path d="M287.8 182.3L296.2 189.7M287.8 189.7L296.2 182.3M288.6 186.0H295.4M292.0 182.6V189.4" stroke="#808080" stroke-width="1.8" fill="none"/><rect x="290.1" y="184.1" width="3.8" height="3.8" fill="#808080"/>
<path d="M295.8 186.3L304.2 193.7M295.8 193.7L304.2 186.3M296.6 190.0H303.4M300.0 186.6V193.4" stroke="#808080" stroke-width="1.8" fill="none"/><rect x="298.1" y="188.1" width="3.8" height="3.8" fill="#808080"/>
<path d="M301.8 190.3L310.2 197.7M301.8 197.7L310.2 190.3M302.6 194.0H309.4M306.0 190.6V197.4" stroke="#808080" stroke-width="1.8" fill="none"/><rect x="304.1" y="192.1" width="3.8" height="3.8" fill="#808080"/>
<path d="M419.4 139.9L427.8 147.3M419.4 147.3L427.8 139.9M420.2 143.6H427.0M423.6 140.2V147.0" stroke="#808080" stroke-width="1.8" fill="none"/><rect x="421.7" y="141.7" width="3.8" height="3.8" fill="#808080"/>
<path d="M426.3 141.6L434.7 149.0M426.3 149.0L434.7 141.6M427.1 145.3H433.9M430.5 141.9V148.7" stroke="#808080" stroke-width="1.8" fill="none"/><rect x="428.6" y="143.4" width="3.8" height="3.8" fill="#808080"/>
<path d="M435.8 142.5L444.2 149.9M435.8 149.9L444.2 142.5M436.6 146.2H443.4M440.0 142.8V149.6" stroke="#808080" stroke-width="1.8" fill="none"/><rect x="438.1" y="144.3" width="3.8" height="3.8" fill="#808080"/>
<path d="M442.8 152.9L451.2 160.3M442.8 160.3L451.2 152.9M443.6 156.6H450.4M447.0 153.2V160.0" stroke="#808080" stroke-width="1.8" fill="none"/><rect x="445.1" y="154.7" width="3.8" height="3.8" fill="#808080"/>
<path d="M199.6 136.2V152.9M197.2 136.2H202.0M197.2 152.9H202.0" stroke="#b048b0" stroke-width="1.1" fill="none"/>
<path d="M201.0 138.2V156.7M198.6 138.2H203.4M198.6 156.7H203.4" stroke="#b048b0" stroke-width="1.1" fill="none"/>
<path d="M196.8 131.9V143.5M194.4 131.9H199.2M194.4 143.5H199.2" stroke="#b048b0" stroke-width="1.1" fill="none"/>
<path d="M180.7 131.4V146.2M178.3 131.4H183.1M178.3 146.2H183.1" stroke="#b048b0" stroke-width="1.1" fill="none"/>
<path d="M210.9 138.2V152.4M208.5 138.2H213.3M208.5 152.4H213.3" stroke="#b048b0" stroke-width="1.1" fill="none"/>
<path d="M240.6 144.7V154.6M238.2 144.7H243.0M238.2 154.6H243.0" stroke="#b048b0" stroke-width="1.1" fill="none"/>
<path d="M235.3 142.7V153.1M232.9 142.7H237.7M232.9 153.1H237.7" stroke="#b048b0" stroke-width="1.1" fill="none"/>
<path d="M191.6 133.0V154.4M189.2 133.0H194.0M189.2 154.4H194.0" stroke="#b048b0" stroke-width="1.1" fill="none"/>
<path d="M186.6 139.3V149.9M184.2 139.3H189.0M184.2 149.9H189.0" stroke="#b048b0" stroke-width="1.1" fill="none"/>
<path d="M202.3 139.4V154.0M199.9 139.4H204.7M199.9 154.0H204.7" stroke="#b048b0" stroke-width="1.1" fill="none"/>
<path d="M240.3 143.3V157.7M237.9 143.3H242.7M237.9 157.7H242.7" stroke="#b048b0" stroke-width="1.1" fill="none"/>
<path d="M216.5 144.3V156.1M214.1 144.3H218.9M214.1 156.1H218.9" stroke="#b048b0" stroke-width="1.1" fill="none"/>
<path d="M253.5 145.6V156.2M251.1 145.6H255.9M251.1 156.2H255.9" stroke="#b048b0" stroke-width="1.1" fill="none"/>
<path d="M323.9 201.6V218.0M321.5 201.6H326.3M321.5 218.0H326.3" stroke="#b048b0" stroke-width="1.1" fill="none"/>
<path d="M312.3 206.8V217.8M309.9 206.8H314.7M309.9 217.8H314.7" stroke="#b048b0" stroke-width="1.1" fill="none"/>
<path d="M313.0 205.4V225.8M310.6 205.4H315.4M310.6 225.8H315.4" stroke="#b048b0" stroke-width="1.1" fill="none"/>
<path d="M334.9 179.8V192.2M332.5 179.8H337.3M332.5 192.2H337.3" stroke="#b048b0" stroke-width="1.1" fill="none"/>
<path d="M298.9 191.3V211.0M296.5 191.3H301.3M296.5 211.0H301.3" stroke="#b048b0" stroke-width="1.1" fill="none"/>
<path d="M340.8 177.5V199.4M338.4 177.5H343.2M338.4 199.4H343.2" stroke="#b048b0" stroke-width="1.1" fill="none"/>
<path d="M339.1 172.0V189.3M336.7 172.0H341.5M336.7 189.3H341.5" stroke="#b048b0" stroke-width="1.1" fill="none"/>
<path d="M326.8 206.5V222.5M324.4 206.5H329.2M324.4 222.5H329.2" stroke="#b048b0" stroke-width="1.1" fill="none"/>
<path d="M292.7 190.5V207.0M290.3 190.5H295.1M290.3 207.0H295.1" stroke="#b048b0" stroke-width="1.1" fill="none"/>
<path d="M366.8 145.5V154.6M364.4 145.5H369.2M364.4 154.6H369.2" stroke="#b048b0" stroke-width="1.1" fill="none"/>
<path d="M375.6 136.4V147.0M373.2 136.4H378.0M373.2 147.0H378.0" stroke="#b048b0" stroke-width="1.1" fill="none"/>
<path d="M350.9 162.0V176.2M348.5 162.0H353.3M348.5 176.2H353.3" stroke="#b048b0" stroke-width="1.1" fill="none"/>
<path d="M386.2 137.8V149.7M383.8 137.8H388.6M383.8 149.7H388.6" stroke="#b048b0" stroke-width="1.1" fill="none"/>
<path d="M384.7 134.8V152.4M382.3 134.8H387.1M382.3 152.4H387.1" stroke="#b048b0" stroke-width="1.1" fill="none"/>
<path d="M371.1 125.0V138.7M368.7 125.0H373.5M368.7 138.7H373.5" stroke="#b048b0" stroke-width="1.1" fill="none"/>
<path d="M392.6 130.8V149.8M390.2 130.8H395.0M390.2 149.8H395.0" stroke="#b048b0" stroke-width="1.1" fill="none"/>
<path d="M387.8 125.0V135.0M385.4 125.0H390.2M385.4 135.0H390.2" stroke="#b048b0" stroke-width="1.1" fill="none"/>
<path d="M172.6 151.1V166.1M170.2 151.1H175.0M170.2 166.1H175.0" stroke="#b048b0" stroke-width="1.1" fill="none"/>
<path d="M165.7 146.5V160.3M163.3 146.5H168.1M163.3 160.3H168.1" stroke="#b048b0" stroke-width="1.1" fill="none"/>
<path d="M244.7 151.0V170.0M242.3 151.0H247.1M242.3 170.0H247.1" stroke="#b048b0" stroke-width="1.1" fill="none"/>
<path d="M249.0 151.3V166.3M246.6 151.3H251.4M246.6 166.3H251.4" stroke="#b048b0" stroke-width="1.1" fill="none"/>
<path d="M256.7 156.2V169.8M254.3 156.2H259.1M254.3 169.8H259.1" stroke="#b048b0" stroke-width="1.1" fill="none"/>
<path d="M261.0 158.9V175.9M258.6 158.9H263.4M258.6 175.9H263.4" stroke="#b048b0" stroke-width="1.1" fill="none"/>
<path d="M289.0 199.4V216.6M286.6 199.4H291.4M286.6 216.6H291.4" stroke="#b048b0" stroke-width="1.1" fill="none"/>
<path d="M333.0 160.7V175.3M330.6 160.7H335.4M330.6 175.3H335.4" stroke="#b048b0" stroke-width="1.1" fill="none"/>
<path d="M329.0 176.2V191.8M326.6 176.2H331.4M326.6 191.8H331.4" stroke="#b048b0" stroke-width="1.1" fill="none"/>
<path d="M361.9 122.6V138.0M359.5 122.6H364.3M359.5 138.0H364.3" stroke="#b048b0" stroke-width="1.1" fill="none"/>
<path d="M380.9 116.1V135.9M378.5 116.1H383.3M378.5 135.9H383.3" stroke="#b048b0" stroke-width="1.1" fill="none"/>
<path d="M385.2 125.9V140.1M382.8 125.9H387.6M382.8 140.1H387.6" stroke="#b048b0" stroke-width="1.1" fill="none"/>
<path d="M376.6 125.2V140.8M374.2 125.2H379.0M374.2 140.8H379.0" stroke="#b048b0" stroke-width="1.1" fill="none"/>
<path d="M349.8 148.1V162.5M347.4 148.1H352.2M347.4 162.5H352.2" stroke="#b048b0" stroke-width="1.1" fill="none"/>
<path d="M199.6 141.2L203.0 144.6L199.6 148.0L196.2 144.6Z" fill="#800080"/>
<path d="M201.0 144.1L204.4 147.5L201.0 150.9L197.6 147.5Z" fill="#800080"/>
<path d="M196.8 134.3L200.2 137.7L196.8 141.1L193.4 137.7Z" fill="#800080"/>
<path d="M180.7 135.4L184.1 138.8L180.7 142.2L177.3 138.8Z" fill="#800080"/>
<path d="M210.9 141.9L214.3 145.3L210.9 148.7L207.5 145.3Z" fill="#800080"/>
<path d="M240.6 146.2L244.0 149.6L240.6 153.0L237.2 149.6Z" fill="#800080"/>
<path d="M235.3 144.5L238.7 147.9L235.3 151.3L231.9 147.9Z" fill="#800080"/>
<path d="M191.6 140.3L195.0 143.7L191.6 147.1L188.2 143.7Z" fill="#800080"/>
<path d="M186.6 141.2L190.0 144.6L186.6 148.0L183.2 144.6Z" fill="#800080"/>
<path d="M202.3 143.3L205.7 146.7L202.3 150.1L198.9 146.7Z" fill="#800080"/>
<path d="M240.3 147.1L243.7 150.5L240.3 153.9L236.9 150.5Z" fill="#800080"/>
<path d="M216.5 146.8L219.9 150.2L216.5 153.6L213.1 150.2Z" fill="#800080"/>
<path d="M253.5 147.5L256.9 150.9L253.5 154.3L250.1 150.9Z" fill="#800080"/>
<path d="M323.9 206.4L327.3 209.8L323.9 213.2L320.5 209.8Z" fill="#800080"/>
<path d="M312.3 208.9L315.7 212.3L312.3 215.7L308.9 212.3Z" fill="#800080"/>
<path d="M313.0 212.2L316.4 215.6L313.0 219.0L309.6 215.6Z" fill="#800080"/>
<path d="M334.9 182.6L338.3 186.0L334.9 189.4L331.5 186.0Z" fill="#800080"/>
<path d="M298.9 197.7L302.3 201.1L298.9 204.5L295.5 201.1Z" fill="#800080"/>
<path d="M340.8 185.1L344.2 188.5L340.8 191.9L337.4 188.5Z" fill="#800080"/>
<path d="M339.1 177.2L342.5 180.6L339.1 184.0L335.7 180.6Z" fill="#800080"/>
<path d="M326.8 211.1L330.2 214.5L326.8 217.9L323.4 214.5Z" fill="#800080"/>
<path d="M292.7 195.4L296.1 198.8L292.7 202.2L289.3 198.8Z" fill="#800080"/>
<path d="M366.8 146.7L370.2 150.1L366.8 153.5L363.4 150.1Z" fill="#800080"/>
<path d="M375.6 138.3L379.0 141.7L375.6 145.1L372.2 141.7Z" fill="#800080"/>
<path d="M350.9 165.7L354.3 169.1L350.9 172.5L347.5 169.1Z" fill="#800080"/>
<path d="M386.2 140.3L389.6 143.7L386.2 147.1L382.8 143.7Z" fill="#800080"/>
<path d="M384.7 140.2L388.1 143.6L384.7 147.0L381.3 143.6Z" fill="#800080"/>
<path d="M371.1 128.4L374.5 131.8L371.1 135.2L367.7 131.8Z" fill="#800080"/>
<path d="M392.6 136.9L396.0 140.3L392.6 143.7L389.2 140.3Z" fill="#800080"/>
<path d="M387.8 126.6L391.2 130.0L387.8 133.4L384.4 130.0Z" fill="#800080"/>
<path d="M172.6 155.2L176.0 158.6L172.6 162.0L169.2 158.6Z" fill="#800080"/>
<path d="M165.7 150.0L169.1 153.4L165.7 156.8L162.3 153.4Z" fill="#800080"/>
<path d="M244.7 157.1L248.1 160.5L244.7 163.9L241.3 160.5Z" fill="#800080"/>
<path d="M249.0 155.4L252.4 158.8L249.0 162.2L245.6 158.8Z" fill="#800080"/>
<path d="M256.7 159.6L260.1 163.0L256.7 166.4L253.3 163.0Z" fill="#800080"/>
<path d="M261.0 164.0L264.4 167.4L261.0 170.8L257.6 167.4Z" fill="#800080"/>
<path d="M289.0 204.6L292.4 208.0L289.0 211.4L285.6 208.0Z" fill="#800080"/>
<path d="M333.0 164.6L336.4 168.0L333.0 171.4L329.6 168.0Z" fill="#800080"/>
<path d="M329.0 180.6L332.4 184.0L329.0 187.4L325.6 184.0Z" fill="#800080"/>
<path d="M361.9 126.9L365.3 130.3L361.9 133.7L358.5 130.3Z" fill="#800080"/>
<path d="M380.9 122.6L384.3 126.0L380.9 129.4L377.5 126.0Z" fill="#800080"/>
<path d="M385.2 129.6L388.6 133.0L385.2 136.4L381.8 133.0Z" fill="#800080"/>
<path d="M376.6 129.6L380.0 133.0L376.6 136.4L373.2 133.0Z" fill="#800080"/>
<path d="M349.8 151.9L353.2 155.3L349.8 158.7L346.4 155.3Z" fill="#800080"/>
<path d="M105.9 159.6V174.8M103.5 159.6H108.3M103.5 174.8H108.3" stroke="#3a3a3a" stroke-width="1.1" fill="none"/>
<path d="M127.0 176.3V192.7M124.6 176.3H129.4M124.6 192.7H129.4" stroke="#3a3a3a" stroke-width="1.1" fill="none"/>
<path d="M132.0 174.9V194.1M129.6 174.9H134.4M129.6 194.1H134.4" stroke="#3a3a3a" stroke-width="1.1" fill="none"/>
<path d="M137.2 168.6V183.2M134.8 168.6H139.6M134.8 183.2H139.6" stroke="#3a3a3a" stroke-width="1.1" fill="none"/>
<path d="M145.9 177.6V193.0M143.5 177.6H148.3M143.5 193.0H148.3" stroke="#3a3a3a" stroke-width="1.1" fill="none"/>
<path d="M173.4 155.7V170.3M171.0 155.7H175.8M171.0 170.3H175.8" stroke="#3a3a3a" stroke-width="1.1" fill="none"/>
<path d="M212.9 155.3V167.9M210.5 155.3H215.3M210.5 167.9H215.3" stroke="#3a3a3a" stroke-width="1.1" fill="none"/>
<path d="M216.4 152.9V166.7M214.0 152.9H218.8M214.0 166.7H218.8" stroke="#3a3a3a" stroke-width="1.1" fill="none"/>
<path d="M241.2 146.1V159.5M238.8 146.1H243.6M238.8 159.5H243.6" stroke="#3a3a3a" stroke-width="1.1" fill="none"/>
<path d="M261.0 149.4V163.0M258.6 149.4H263.4M258.6 163.0H263.4" stroke="#3a3a3a" stroke-width="1.1" fill="none"/>
<path d="M269.7 165.6V181.2M267.3 165.6H272.1M267.3 181.2H272.1" stroke="#3a3a3a" stroke-width="1.1" fill="none"/>
<path d="M286.0 195.2V218.8M283.6 195.2H288.4M283.6 218.8H288.4" stroke="#3a3a3a" stroke-width="1.1" fill="none"/>
<path d="M392.5 125.2V140.8M390.1 125.2H394.9M390.1 140.8H394.9" stroke="#3a3a3a" stroke-width="1.1" fill="none"/>
<path d="M401.7 116.0V132.0M399.3 116.0H404.1M399.3 132.0H404.1" stroke="#3a3a3a" stroke-width="1.1" fill="none"/>
<path d="M397.0 123.5V136.5M394.6 123.5H399.4M394.6 136.5H399.4" stroke="#3a3a3a" stroke-width="1.1" fill="none"/>
<path d="M459.5 161.2V174.4M457.1 161.2H461.9M457.1 174.4H461.9" stroke="#3a3a3a" stroke-width="1.1" fill="none"/>
<circle cx="105.9" cy="167.2" r="2.8" fill="#000000"/>
<circle cx="127.0" cy="184.5" r="2.8" fill="#000000"/>
<circle cx="132.0" cy="184.5" r="2.8" fill="#000000"/>
<circle cx="137.2" cy="175.9" r="2.8" fill="#000000"/>
<circle cx="145.9" cy="185.3" r="2.8" fill="#000000"/>
<circle cx="173.4" cy="163.0" r="2.8" fill="#000000"/>
<circle cx="212.9" cy="161.6" r="2.8" fill="#000000"/>
<circle cx="216.4" cy="159.8" r="2.8" fill="#000000"/>
<circle cx="241.2" cy="152.8" r="2.8" fill="#000000"/>
<circle cx="261.0" cy="156.2" r="2.8" fill="#000000"/>
<circle cx="269.7" cy="173.4" r="2.8" fill="#000000"/>
<circle cx="286.0" cy="207.0" r="2.8" fill="#000000"/>
<circle cx="392.5" cy="133.0" r="2.8" fill="#000000"/>
<circle cx="401.7" cy="124.0" r="2.8" fill="#000000"/>
<circle cx="397.0" cy="130.0" r="2.8" fill="#000000"/>
<circle cx="459.5" cy="167.8" r="2.8" fill="#000000"/>
<path d="M230.0 148.7V158.4M227.6 148.7H232.4M227.6 158.4H232.4" stroke="#48a8a8" stroke-width="1.1" fill="none"/>
<path d="M221.5 143.2V151.7M219.1 143.2H223.9M219.1 151.7H223.9" stroke="#48a8a8" stroke-width="1.1" fill="none"/>
<path d="M185.9 140.4V160.3M183.5 140.4H188.3M183.5 160.3H188.3" stroke="#48a8a8" stroke-width="1.1" fill="none"/>
<path d="M190.1 146.9V158.7M187.7 146.9H192.5M187.7 158.7H192.5" stroke="#48a8a8" stroke-width="1.1" fill="none"/>
<path d="M240.4 142.6V159.1M238.0 142.6H242.8M238.0 159.1H242.8" stroke="#48a8a8" stroke-width="1.1" fill="none"/>
<path d="M190.1 134.4V151.2M187.7 134.4H192.5M187.7 151.2H192.5" stroke="#48a8a8" stroke-width="1.1" fill="none"/>
<path d="M222.7 143.7V163.8M220.3 143.7H225.1M220.3 163.8H225.1" stroke="#48a8a8" stroke-width="1.1" fill="none"/>
<path d="M179.7 136.8V155.4M177.3 136.8H182.1M177.3 155.4H182.1" stroke="#48a8a8" stroke-width="1.1" fill="none"/>
<path d="M404.4 142.2V151.1M402.0 142.2H406.8M402.0 151.1H406.8" stroke="#48a8a8" stroke-width="1.1" fill="none"/>
<path d="M423.3 128.3V139.3M420.9 128.3H425.7M420.9 139.3H425.7" stroke="#48a8a8" stroke-width="1.1" fill="none"/>
<path d="M358.1 137.9V158.8M355.7 137.9H360.5M355.7 158.8H360.5" stroke="#48a8a8" stroke-width="1.1" fill="none"/>
<path d="M420.5 132.7V148.8M418.1 132.7H422.9M418.1 148.8H422.9" stroke="#48a8a8" stroke-width="1.1" fill="none"/>
<path d="M415.7 134.8V143.8M413.3 134.8H418.1M413.3 143.8H418.1" stroke="#48a8a8" stroke-width="1.1" fill="none"/>
<path d="M359.7 146.9V166.2M357.3 146.9H362.1M357.3 166.2H362.1" stroke="#48a8a8" stroke-width="1.1" fill="none"/>
<path d="M294.8 187.8V204.1M292.4 187.8H297.2M292.4 204.1H297.2" stroke="#48a8a8" stroke-width="1.1" fill="none"/>
<path d="M463.3 198.1V218.3M460.9 198.1H465.7M460.9 218.3H465.7" stroke="#48a8a8" stroke-width="1.1" fill="none"/>
<path d="M418.4 131.6V146.9M416.0 131.6H420.8M416.0 146.9H420.8" stroke="#48a8a8" stroke-width="1.1" fill="none"/>
<path d="M326.9 206.8V225.4M324.5 206.8H329.3M324.5 225.4H329.3" stroke="#48a8a8" stroke-width="1.1" fill="none"/>
<path d="M421.5 127.0V138.7M419.1 127.0H423.9M419.1 138.7H423.9" stroke="#48a8a8" stroke-width="1.1" fill="none"/>
<path d="M340.2 182.8V197.4M337.8 182.8H342.6M337.8 197.4H342.6" stroke="#48a8a8" stroke-width="1.1" fill="none"/>
<path d="M374.5 120.7V142.3M372.1 120.7H376.9M372.1 142.3H376.9" stroke="#48a8a8" stroke-width="1.1" fill="none"/>
<path d="M444.8 166.6V175.2M442.4 166.6H447.2M442.4 175.2H447.2" stroke="#48a8a8" stroke-width="1.1" fill="none"/>
<path d="M370.7 136.6V146.7M368.3 136.6H373.1M368.3 146.7H373.1" stroke="#48a8a8" stroke-width="1.1" fill="none"/>
<path d="M341.8 180.2V196.1M339.4 180.2H344.2M339.4 196.1H344.2" stroke="#48a8a8" stroke-width="1.1" fill="none"/>
<path d="M345.0 173.0V189.1M342.6 173.0H347.4M342.6 189.1H347.4" stroke="#48a8a8" stroke-width="1.1" fill="none"/>
<path d="M303.9 196.8V209.3M301.5 196.8H306.3M301.5 209.3H306.3" stroke="#48a8a8" stroke-width="1.1" fill="none"/>
<path d="M329.5 201.5V220.1M327.1 201.5H331.9M327.1 220.1H331.9" stroke="#48a8a8" stroke-width="1.1" fill="none"/>
<path d="M338.8 175.2V194.5M336.4 175.2H341.2M336.4 194.5H341.2" stroke="#48a8a8" stroke-width="1.1" fill="none"/>
<path d="M82.6 144.0V162.0M80.2 144.0H85.0M80.2 162.0H85.0" stroke="#48a8a8" stroke-width="1.1" fill="none"/>
<path d="M86.9 167.9V182.1M84.5 167.9H89.3M84.5 182.1H89.3" stroke="#48a8a8" stroke-width="1.1" fill="none"/>
<path d="M91.2 170.1V185.1M88.8 170.1H93.6M88.8 185.1H93.6" stroke="#48a8a8" stroke-width="1.1" fill="none"/>
<path d="M102.4 189.2V202.2M100.0 189.2H104.8M100.0 202.2H104.8" stroke="#48a8a8" stroke-width="1.1" fill="none"/>
<path d="M110.2 195.0V208.4M107.8 195.0H112.6M107.8 208.4H112.6" stroke="#48a8a8" stroke-width="1.1" fill="none"/>
<path d="M116.2 183.3V199.5M113.8 183.3H118.6M113.8 199.5H118.6" stroke="#48a8a8" stroke-width="1.1" fill="none"/>
<path d="M123.1 183.1V197.9M120.7 183.1H125.5M120.7 197.9H125.5" stroke="#48a8a8" stroke-width="1.1" fill="none"/>
<path d="M127.4 196.3V210.5M125.0 196.3H129.8M125.0 210.5H129.8" stroke="#48a8a8" stroke-width="1.1" fill="none"/>
<path d="M139.0 185.3V197.5M136.6 185.3H141.4M136.6 197.5H141.4" stroke="#48a8a8" stroke-width="1.1" fill="none"/>
<path d="M153.6 177.3V189.9M151.2 177.3H156.0M151.2 189.9H156.0" stroke="#48a8a8" stroke-width="1.1" fill="none"/>
<path d="M156.2 178.3V192.3M153.8 178.3H158.6M153.8 192.3H158.6" stroke="#48a8a8" stroke-width="1.1" fill="none"/>
<path d="M141.6 190.4V204.4M139.2 190.4H144.0M139.2 204.4H144.0" stroke="#48a8a8" stroke-width="1.1" fill="none"/>
<path d="M164.7 131.8V148.2M162.3 131.8H167.1M162.3 148.2H167.1" stroke="#48a8a8" stroke-width="1.1" fill="none"/>
<path d="M225.9 152.0V171.2M223.5 152.0H228.3M223.5 171.2H228.3" stroke="#48a8a8" stroke-width="1.1" fill="none"/>
<path d="M195.7 145.1V157.3M193.3 145.1H198.1M193.3 157.3H198.1" stroke="#48a8a8" stroke-width="1.1" fill="none"/>
<path d="M237.8 134.4V147.0M235.4 134.4H240.2M235.4 147.0H240.2" stroke="#48a8a8" stroke-width="1.1" fill="none"/>
<path d="M243.0 138.1V151.9M240.6 138.1H245.4M240.6 151.9H245.4" stroke="#48a8a8" stroke-width="1.1" fill="none"/>
<path d="M266.2 145.8V163.2M263.8 145.8H268.6M263.8 163.2H268.6" stroke="#48a8a8" stroke-width="1.1" fill="none"/>
<path d="M272.2 154.2V168.6M269.8 154.2H274.6M269.8 168.6H274.6" stroke="#48a8a8" stroke-width="1.1" fill="none"/>
<path d="M275.7 154.8V168.0M273.3 154.8H278.1M273.3 168.0H278.1" stroke="#48a8a8" stroke-width="1.1" fill="none"/>
<path d="M281.7 170.9V183.1M279.3 170.9H284.1M279.3 183.1H284.1" stroke="#48a8a8" stroke-width="1.1" fill="none"/>
<path d="M310.0 191.8V206.2M307.6 191.8H312.4M307.6 206.2H312.4" stroke="#48a8a8" stroke-width="1.1" fill="none"/>
<path d="M318.0 191.1V206.9M315.6 191.1H320.4M315.6 206.9H320.4" stroke="#48a8a8" stroke-width="1.1" fill="none"/>
<path d="M322.0 209.7V226.3M319.6 209.7H324.4M319.6 226.3H324.4" stroke="#48a8a8" stroke-width="1.1" fill="none"/>
<path d="M312.0 206.6V221.4M309.6 206.6H314.4M309.6 221.4H314.4" stroke="#48a8a8" stroke-width="1.1" fill="none"/>
<path d="M318.0 201.0V215.0M315.6 201.0H320.4M315.6 215.0H320.4" stroke="#48a8a8" stroke-width="1.1" fill="none"/>
<path d="M326.0 187.7V200.3M323.6 187.7H328.4M323.6 200.3H328.4" stroke="#48a8a8" stroke-width="1.1" fill="none"/>
<path d="M335.0 190.1V205.9M332.6 190.1H337.4M332.6 205.9H337.4" stroke="#48a8a8" stroke-width="1.1" fill="none"/>
<path d="M342.0 161.6V176.4M339.6 161.6H344.4M339.6 176.4H344.4" stroke="#48a8a8" stroke-width="1.1" fill="none"/>
<path d="M347.2 141.2V157.4M344.8 141.2H349.6M344.8 157.4H349.6" stroke="#48a8a8" stroke-width="1.1" fill="none"/>
<path d="M366.2 133.6V147.8M363.8 133.6H368.6M363.8 147.8H368.6" stroke="#48a8a8" stroke-width="1.1" fill="none"/>
<path d="M371.0 134.1V147.9M368.6 134.1H373.4M368.6 147.9H373.4" stroke="#48a8a8" stroke-width="1.1" fill="none"/>
<path d="M375.7 137.9V152.1M373.3 137.9H378.1M373.3 152.1H378.1" stroke="#48a8a8" stroke-width="1.1" fill="none"/>
<path d="M386.9 140.1V155.1M384.5 140.1H389.3M384.5 155.1H389.3" stroke="#48a8a8" stroke-width="1.1" fill="none"/>
<path d="M342.0 160.0V174.8M339.6 160.0H344.4M339.6 174.8H344.4" stroke="#48a8a8" stroke-width="1.1" fill="none"/>
<path d="M389.0 140.3V153.7M386.6 140.3H391.4M386.6 153.7H391.4" stroke="#48a8a8" stroke-width="1.1" fill="none"/>
<path d="M412.0 126.6V142.4M409.6 126.6H414.4M409.6 142.4H414.4" stroke="#48a8a8" stroke-width="1.1" fill="none"/>
<path d="M424.7 116.3V131.7M422.3 116.3H427.1M422.3 131.7H427.1" stroke="#48a8a8" stroke-width="1.1" fill="none"/>
<path d="M416.7 139.5V156.5M414.3 139.5H419.1M414.3 156.5H419.1" stroke="#48a8a8" stroke-width="1.1" fill="none"/>
<path d="M421.0 130.7V144.5M418.6 130.7H423.4M418.6 144.5H423.4" stroke="#48a8a8" stroke-width="1.1" fill="none"/>
<path d="M429.7 129.0V142.8M427.3 129.0H432.1M427.3 142.8H432.1" stroke="#48a8a8" stroke-width="1.1" fill="none"/>
<path d="M434.0 134.2V147.8M431.6 134.2H436.4M431.6 147.8H436.4" stroke="#48a8a8" stroke-width="1.1" fill="none"/>
<path d="M437.4 146.0V160.2M435.0 146.0H439.8M435.0 160.2H439.8" stroke="#48a8a8" stroke-width="1.1" fill="none"/>
<path d="M441.4 168.9V182.1M439.0 168.9H443.8M439.0 182.1H443.8" stroke="#48a8a8" stroke-width="1.1" fill="none"/>
<path d="M445.7 170.6V185.6M443.3 170.6H448.1M443.3 185.6H448.1" stroke="#48a8a8" stroke-width="1.1" fill="none"/>
<path d="M456.0 189.6V202.8M453.6 189.6H458.4M453.6 202.8H458.4" stroke="#48a8a8" stroke-width="1.1" fill="none"/>
<path d="M461.2 192.4V207.0M458.8 192.4H463.6M458.8 207.0H463.6" stroke="#48a8a8" stroke-width="1.1" fill="none"/>
<path d="M469.0 189.8V202.6M466.6 189.8H471.4M466.6 202.6H471.4" stroke="#48a8a8" stroke-width="1.1" fill="none"/>
<rect x="227.0" y="150.5" width="6.0" height="6.0" fill="#008080" stroke="#000" stroke-width="1.7"/>
<rect x="218.5" y="144.4" width="6.0" height="6.0" fill="#008080" stroke="#000" stroke-width="1.7"/>
<rect x="182.9" y="147.3" width="6.0" height="6.0" fill="#008080" stroke="#000" stroke-width="1.7"/>
<rect x="187.1" y="149.8" width="6.0" height="6.0" fill="#008080" stroke="#000" stroke-width="1.7"/>
<rect x="237.4" y="147.9" width="6.0" height="6.0" fill="#008080" stroke="#000" stroke-width="1.7"/>
<rect x="187.1" y="139.8" width="6.0" height="6.0" fill="#008080" stroke="#000" stroke-width="1.7"/>
<rect x="219.7" y="150.7" width="6.0" height="6.0" fill="#008080" stroke="#000" stroke-width="1.7"/>
<rect x="176.7" y="143.1" width="6.0" height="6.0" fill="#008080" stroke="#000" stroke-width="1.7"/>
<rect x="401.4" y="143.6" width="6.0" height="6.0" fill="#008080" stroke="#000" stroke-width="1.7"/>
<rect x="420.3" y="130.8" width="6.0" height="6.0" fill="#008080" stroke="#000" stroke-width="1.7"/>
<rect x="355.1" y="145.3" width="6.0" height="6.0" fill="#008080" stroke="#000" stroke-width="1.7"/>
<rect x="417.5" y="137.7" width="6.0" height="6.0" fill="#008080" stroke="#000" stroke-width="1.7"/>
<rect x="412.7" y="136.3" width="6.0" height="6.0" fill="#008080" stroke="#000" stroke-width="1.7"/>
<rect x="356.7" y="153.5" width="6.0" height="6.0" fill="#008080" stroke="#000" stroke-width="1.7"/>
<rect x="291.8" y="192.9" width="6.0" height="6.0" fill="#008080" stroke="#000" stroke-width="1.7"/>
<rect x="460.3" y="205.2" width="6.0" height="6.0" fill="#008080" stroke="#000" stroke-width="1.7"/>
<rect x="415.4" y="136.3" width="6.0" height="6.0" fill="#008080" stroke="#000" stroke-width="1.7"/>
<rect x="323.9" y="213.1" width="6.0" height="6.0" fill="#008080" stroke="#000" stroke-width="1.7"/>
<rect x="418.5" y="129.8" width="6.0" height="6.0" fill="#008080" stroke="#000" stroke-width="1.7"/>
<rect x="337.2" y="187.1" width="6.0" height="6.0" fill="#008080" stroke="#000" stroke-width="1.7"/>
<rect x="371.5" y="128.5" width="6.0" height="6.0" fill="#008080" stroke="#000" stroke-width="1.7"/>
<rect x="441.8" y="167.9" width="6.0" height="6.0" fill="#008080" stroke="#000" stroke-width="1.7"/>
<rect x="367.7" y="138.6" width="6.0" height="6.0" fill="#008080" stroke="#000" stroke-width="1.7"/>
<rect x="338.8" y="185.1" width="6.0" height="6.0" fill="#008080" stroke="#000" stroke-width="1.7"/>
<rect x="342.0" y="178.0" width="6.0" height="6.0" fill="#008080" stroke="#000" stroke-width="1.7"/>
<rect x="300.9" y="200.0" width="6.0" height="6.0" fill="#008080" stroke="#000" stroke-width="1.7"/>
<rect x="326.5" y="207.8" width="6.0" height="6.0" fill="#008080" stroke="#000" stroke-width="1.7"/>
<rect x="335.8" y="181.9" width="6.0" height="6.0" fill="#008080" stroke="#000" stroke-width="1.7"/>
<rect x="79.6" y="150.0" width="6.0" height="6.0" fill="#008080" stroke="#000" stroke-width="1.7"/>
<rect x="83.9" y="172.0" width="6.0" height="6.0" fill="#008080" stroke="#000" stroke-width="1.7"/>
<rect x="88.2" y="174.6" width="6.0" height="6.0" fill="#008080" stroke="#000" stroke-width="1.7"/>
<rect x="99.4" y="192.7" width="6.0" height="6.0" fill="#008080" stroke="#000" stroke-width="1.7"/>
<rect x="107.2" y="198.7" width="6.0" height="6.0" fill="#008080" stroke="#000" stroke-width="1.7"/>
<rect x="113.2" y="188.4" width="6.0" height="6.0" fill="#008080" stroke="#000" stroke-width="1.7"/>
<rect x="120.1" y="187.5" width="6.0" height="6.0" fill="#008080" stroke="#000" stroke-width="1.7"/>
<rect x="124.4" y="200.4" width="6.0" height="6.0" fill="#008080" stroke="#000" stroke-width="1.7"/>
<rect x="136.0" y="188.4" width="6.0" height="6.0" fill="#008080" stroke="#000" stroke-width="1.7"/>
<rect x="150.6" y="180.6" width="6.0" height="6.0" fill="#008080" stroke="#000" stroke-width="1.7"/>
<rect x="153.2" y="182.3" width="6.0" height="6.0" fill="#008080" stroke="#000" stroke-width="1.7"/>
<rect x="138.6" y="194.4" width="6.0" height="6.0" fill="#008080" stroke="#000" stroke-width="1.7"/>
<rect x="161.7" y="137.0" width="6.0" height="6.0" fill="#008080" stroke="#000" stroke-width="1.7"/>
<rect x="222.9" y="158.6" width="6.0" height="6.0" fill="#008080" stroke="#000" stroke-width="1.7"/>
<rect x="192.7" y="148.2" width="6.0" height="6.0" fill="#008080" stroke="#000" stroke-width="1.7"/>
<rect x="234.8" y="137.7" width="6.0" height="6.0" fill="#008080" stroke="#000" stroke-width="1.7"/>
<rect x="240.0" y="142.0" width="6.0" height="6.0" fill="#008080" stroke="#000" stroke-width="1.7"/>
<rect x="263.2" y="151.5" width="6.0" height="6.0" fill="#008080" stroke="#000" stroke-width="1.7"/>
<rect x="269.2" y="158.4" width="6.0" height="6.0" fill="#008080" stroke="#000" stroke-width="1.7"/>
<rect x="272.7" y="158.4" width="6.0" height="6.0" fill="#008080" stroke="#000" stroke-width="1.7"/>
<rect x="278.7" y="174.0" width="6.0" height="6.0" fill="#008080" stroke="#000" stroke-width="1.7"/>
<rect x="307.0" y="196.0" width="6.0" height="6.0" fill="#008080" stroke="#000" stroke-width="1.7"/>
<rect x="315.0" y="196.0" width="6.0" height="6.0" fill="#008080" stroke="#000" stroke-width="1.7"/>
<rect x="319.0" y="215.0" width="6.0" height="6.0" fill="#008080" stroke="#000" stroke-width="1.7"/>
<rect x="309.0" y="211.0" width="6.0" height="6.0" fill="#008080" stroke="#000" stroke-width="1.7"/>
<rect x="315.0" y="205.0" width="6.0" height="6.0" fill="#008080" stroke="#000" stroke-width="1.7"/>
<rect x="323.0" y="191.0" width="6.0" height="6.0" fill="#008080" stroke="#000" stroke-width="1.7"/>
<rect x="332.0" y="195.0" width="6.0" height="6.0" fill="#008080" stroke="#000" stroke-width="1.7"/>
<rect x="339.0" y="166.0" width="6.0" height="6.0" fill="#008080" stroke="#000" stroke-width="1.7"/>
<rect x="344.2" y="146.3" width="6.0" height="6.0" fill="#008080" stroke="#000" stroke-width="1.7"/>
<rect x="363.2" y="137.7" width="6.0" height="6.0" fill="#008080" stroke="#000" stroke-width="1.7"/>
<rect x="368.0" y="138.0" width="6.0" height="6.0" fill="#008080" stroke="#000" stroke-width="1.7"/>
<rect x="372.7" y="142.0" width="6.0" height="6.0" fill="#008080" stroke="#000" stroke-width="1.7"/>
<rect x="383.9" y="144.6" width="6.0" height="6.0" fill="#008080" stroke="#000" stroke-width="1.7"/>
<rect x="339.0" y="164.4" width="6.0" height="6.0" fill="#008080" stroke="#000" stroke-width="1.7"/>
<rect x="386.0" y="144.0" width="6.0" height="6.0" fill="#008080" stroke="#000" stroke-width="1.7"/>
<rect x="409.0" y="131.5" width="6.0" height="6.0" fill="#008080" stroke="#000" stroke-width="1.7"/>
<rect x="421.7" y="121.0" width="6.0" height="6.0" fill="#008080" stroke="#000" stroke-width="1.7"/>
<rect x="413.7" y="145.0" width="6.0" height="6.0" fill="#008080" stroke="#000" stroke-width="1.7"/>
<rect x="418.0" y="134.6" width="6.0" height="6.0" fill="#008080" stroke="#000" stroke-width="1.7"/>
<rect x="426.7" y="132.9" width="6.0" height="6.0" fill="#008080" stroke="#000" stroke-width="1.7"/>
<rect x="431.0" y="138.0" width="6.0" height="6.0" fill="#008080" stroke="#000" stroke-width="1.7"/>
<rect x="434.4" y="150.1" width="6.0" height="6.0" fill="#008080" stroke="#000" stroke-width="1.7"/>
<rect x="438.4" y="172.5" width="6.0" height="6.0" fill="#008080" stroke="#000" stroke-width="1.7"/>
<rect x="442.7" y="175.1" width="6.0" height="6.0" fill="#008080" stroke="#000" stroke-width="1.7"/>
<rect x="453.0" y="193.2" width="6.0" height="6.0" fill="#008080" stroke="#000" stroke-width="1.7"/>
<rect x="458.2" y="196.7" width="6.0" height="6.0" fill="#008080" stroke="#000" stroke-width="1.7"/>
<rect x="466.0" y="193.2" width="6.0" height="6.0" fill="#008080" stroke="#000" stroke-width="1.7"/>
<path d="M79.0 138.0 L79.5 138.6 L80.1 139.4 L80.6 140.3 L81.2 141.3 L81.7 142.5 L82.2 143.6 L82.8 144.9 L83.3 146.1 L83.8 147.4 L84.4 148.6 L84.9 149.8 L85.5 151.2 L86.0 152.7 L86.5 154.3 L87.1 155.8 L87.6 157.4 L88.2 159.0 L88.7 160.5 L89.2 162.0 L89.8 163.4 L90.3 164.8 L90.8 166.1 L91.4 167.3 L91.9 168.5 L92.5 169.7 L93.0 170.9 L93.5 172.0 L94.1 173.1 L94.6 174.2 L95.2 175.3 L95.7 176.3 L96.2 177.3 L96.8 178.3 L97.3 179.2 L97.8 180.1 L98.4 181.0 L98.9 182.0 L99.5 183.0 L100.0 184.0" stroke="#000" stroke-width="2.2" fill="none"/>
<path d="M236.0 148.8 L237.6 148.8 L239.3 148.9 L240.9 149.2 L242.6 149.5 L244.2 149.9 L245.8 150.5 L247.5 151.0 L249.1 151.7 L250.8 152.3 L252.4 153.0 L254.1 153.8 L255.7 154.6 L257.3 155.5 L259.0 156.4 L260.6 157.5 L262.3 158.7 L263.9 160.1 L265.5 161.6 L267.2 163.1 L268.8 164.9 L270.5 166.7 L272.1 168.6 L273.7 170.7 L275.4 173.1 L277.0 175.5 L278.7 178.2 L280.3 181.2 L281.9 184.1 L283.6 186.9 L285.2 189.3 L286.9 191.2 L288.5 193.0 L290.2 194.6 L291.8 196.2 L293.4 197.7 L295.1 199.1 L296.7 200.4 L298.4 201.7 L300.0 202.9" stroke="#000" stroke-width="2.2" fill="none"/>
<path d="M440.0 157.1 L440.7 158.5 L441.4 160.0 L442.2 161.4 L442.9 162.9 L443.6 164.3 L444.3 165.7 L445.0 167.0 L445.7 168.4 L446.5 169.7 L447.2 171.0 L447.9 172.3 L448.6 173.6 L449.3 174.9 L450.1 176.2 L450.8 177.5 L451.5 178.8 L452.2 180.0 L452.9 181.2 L453.6 182.4 L454.4 183.6 L455.1 184.7 L455.8 185.8 L456.5 187.0 L457.2 188.1 L457.9 189.1 L458.7 190.2 L459.4 191.2 L460.1 192.2 L460.8 193.2 L461.5 194.1 L462.3 195.1 L463.0 196.0 L463.7 197.1 L464.4 198.2 L465.1 199.3 L465.8 200.4 L466.6 201.4 L467.3 202.3 L468.0 203.2" stroke="#000" stroke-width="2.2" fill="none"/>
<rect x="236" y="147.8" width="10.4" height="10" fill="none" stroke="#888" stroke-width="1"/>
<circle cx="164.8" cy="181.9" r="5.2" fill="none" stroke="#888" stroke-width="1"/>
<path d="M607.7 158.9V175.6M605.3 158.9H610.1M605.3 175.6H610.1" stroke="#3a9a3a" stroke-width="1.1" fill="none"/>
<path d="M630.0 164.6V179.8M627.6 164.6H632.4M627.6 179.8H632.4" stroke="#3a9a3a" stroke-width="1.1" fill="none"/>
<path d="M636.1 159.3V171.1M633.7 159.3H638.5M633.7 171.1H638.5" stroke="#3a9a3a" stroke-width="1.1" fill="none"/>
<path d="M601.7 149.3V168.4M599.3 149.3H604.1M599.3 168.4H604.1" stroke="#3a9a3a" stroke-width="1.1" fill="none"/>
<path d="M608.9 160.1V175.3M606.5 160.1H611.3M606.5 175.3H611.3" stroke="#3a9a3a" stroke-width="1.1" fill="none"/>
<path d="M655.7 153.2V168.9M653.3 153.2H658.1M653.3 168.9H658.1" stroke="#3a9a3a" stroke-width="1.1" fill="none"/>
<path d="M604.2 149.3V160.1M601.8 149.3H606.6M601.8 160.1H606.6" stroke="#3a9a3a" stroke-width="1.1" fill="none"/>
<path d="M607.8 157.0V171.8M605.4 157.0H610.2M605.4 171.8H610.2" stroke="#3a9a3a" stroke-width="1.1" fill="none"/>
<path d="M609.0 164.5V175.5M606.6 164.5H611.4M606.6 175.5H611.4" stroke="#3a9a3a" stroke-width="1.1" fill="none"/>
<path d="M622.0 157.5V168.5M619.6 157.5H624.4M619.6 168.5H624.4" stroke="#3a9a3a" stroke-width="1.1" fill="none"/>
<path d="M636.0 163.1V176.9M633.6 163.1H638.4M633.6 176.9H638.4" stroke="#3a9a3a" stroke-width="1.1" fill="none"/>
<path d="M619.0 166.4V177.6M616.6 166.4H621.4M616.6 177.6H621.4" stroke="#3a9a3a" stroke-width="1.1" fill="none"/>
<path d="M958.0 163.1V176.9M955.6 163.1H960.4M955.6 176.9H960.4" stroke="#3a9a3a" stroke-width="1.1" fill="none"/>
<path d="M962.0 172.8V183.2M959.6 172.8H964.4M959.6 183.2H964.4" stroke="#3a9a3a" stroke-width="1.1" fill="none"/>
<path d="M603.5 163.6L611.9 171.0M603.5 171.0L611.9 163.6M604.3 167.3H611.1M607.7 163.9V170.7" stroke="#008000" stroke-width="1.8" fill="none"/><rect x="605.8" y="165.4" width="3.8" height="3.8" fill="#008000"/>
<path d="M625.8 168.5L634.2 175.9M625.8 175.9L634.2 168.5M626.6 172.2H633.4M630.0 168.8V175.6" stroke="#008000" stroke-width="1.8" fill="none"/><rect x="628.1" y="170.3" width="3.8" height="3.8" fill="#008000"/>
<path d="M631.9 161.5L640.3 168.9M631.9 168.9L640.3 161.5M632.7 165.2H639.5M636.1 161.8V168.6" stroke="#008000" stroke-width="1.8" fill="none"/><rect x="634.2" y="163.3" width="3.8" height="3.8" fill="#008000"/>
<path d="M597.5 155.2L605.9 162.6M597.5 162.6L605.9 155.2M598.3 158.9H605.1M601.7 155.5V162.3" stroke="#008000" stroke-width="1.8" fill="none"/><rect x="599.8" y="157.0" width="3.8" height="3.8" fill="#008000"/>
<path d="M604.7 164.0L613.1 171.4M604.7 171.4L613.1 164.0M605.5 167.7H612.3M608.9 164.3V171.1" stroke="#008000" stroke-width="1.8" fill="none"/><rect x="607.0" y="165.8" width="3.8" height="3.8" fill="#008000"/>
<path d="M651.5 157.4L659.9 164.8M651.5 164.8L659.9 157.4M652.3 161.1H659.1M655.7 157.7V164.5" stroke="#008000" stroke-width="1.8" fill="none"/><rect x="653.8" y="159.2" width="3.8" height="3.8" fill="#008000"/>
<path d="M600.0 151.0L608.4 158.4M600.0 158.4L608.4 151.0M600.8 154.7H607.6M604.2 151.3V158.1" stroke="#008000" stroke-width="1.8" fill="none"/><rect x="602.3" y="152.8" width="3.8" height="3.8" fill="#008000"/>
<path d="M603.6 160.7L612.0 168.1M603.6 168.1L612.0 160.7M604.4 164.4H611.2M607.8 161.0V167.8" stroke="#008000" stroke-width="1.8" fill="none"/><rect x="605.9" y="162.5" width="3.8" height="3.8" fill="#008000"/>
<path d="M604.8 166.3L613.2 173.7M604.8 173.7L613.2 166.3M605.6 170.0H612.4M609.0 166.6V173.4" stroke="#008000" stroke-width="1.8" fill="none"/><rect x="607.1" y="168.1" width="3.8" height="3.8" fill="#008000"/>
<path d="M617.8 159.3L626.2 166.7M617.8 166.7L626.2 159.3M618.6 163.0H625.4M622.0 159.6V166.4" stroke="#008000" stroke-width="1.8" fill="none"/><rect x="620.1" y="161.1" width="3.8" height="3.8" fill="#008000"/>
<path d="M631.8 166.3L640.2 173.7M631.8 173.7L640.2 166.3M632.6 170.0H639.4M636.0 166.6V173.4" stroke="#008000" stroke-width="1.8" fill="none"/><rect x="634.1" y="168.1" width="3.8" height="3.8" fill="#008000"/>
<path d="M614.8 168.3L623.2 175.7M614.8 175.7L623.2 168.3M615.6 172.0H622.4M619.0 168.6V175.4" stroke="#008000" stroke-width="1.8" fill="none"/><rect x="617.1" y="170.1" width="3.8" height="3.8" fill="#008000"/>
<path d="M953.8 166.3L962.2 173.7M953.8 173.7L962.2 166.3M954.6 170.0H961.4M958.0 166.6V173.4" stroke="#008000" stroke-width="1.8" fill="none"/><rect x="956.1" y="168.1" width="3.8" height="3.8" fill="#008000"/>
<path d="M957.8 174.3L966.2 181.7M957.8 181.7L966.2 174.3M958.6 178.0H965.4M962.0 174.6V181.4" stroke="#008000" stroke-width="1.8" fill="none"/><rect x="960.1" y="176.1" width="3.8" height="3.8" fill="#008000"/>
<path d="M804.3 162.8V172.9M801.9 162.8H806.7M801.9 172.9H806.7" stroke="#3a3aff" stroke-width="1.1" fill="none"/>
<path d="M819.3 157.6V168.5M816.9 157.6H821.7M816.9 168.5H821.7" stroke="#3a3aff" stroke-width="1.1" fill="none"/>
<path d="M796.8 156.1V167.2M794.4 156.1H799.2M794.4 167.2H799.2" stroke="#3a3aff" stroke-width="1.1" fill="none"/>
<path d="M832.5 157.7V168.5M830.1 157.7H834.9M830.1 168.5H834.9" stroke="#3a3aff" stroke-width="1.1" fill="none"/>
<path d="M836.6 164.2V178.8M834.2 164.2H839.0M834.2 178.8H839.0" stroke="#3a3aff" stroke-width="1.1" fill="none"/>
<path d="M790.1 150.6V168.4M787.7 150.6H792.5M787.7 168.4H792.5" stroke="#3a3aff" stroke-width="1.1" fill="none"/>
<path d="M811.4 140.0V148.2M809.0 140.0H813.8M809.0 148.2H813.8" stroke="#3a3aff" stroke-width="1.1" fill="none"/>
<path d="M799.5 156.5V178.5M797.1 156.5H801.9M797.1 178.5H801.9" stroke="#3a3aff" stroke-width="1.1" fill="none"/>
<path d="M787.2 170.0V187.6M784.8 170.0H789.6M784.8 187.6H789.6" stroke="#3a3aff" stroke-width="1.1" fill="none"/>
<path d="M838.4 163.8V172.2M836.0 163.8H840.8M836.0 172.2H840.8" stroke="#3a3aff" stroke-width="1.1" fill="none"/>
<path d="M913.4 170.2V186.6M911.0 170.2H915.8M911.0 186.6H915.8" stroke="#3a3aff" stroke-width="1.1" fill="none"/>
<path d="M894.1 172.3V180.7M891.7 172.3H896.5M891.7 180.7H896.5" stroke="#3a3aff" stroke-width="1.1" fill="none"/>
<path d="M873.2 170.8V181.5M870.8 170.8H875.6M870.8 181.5H875.6" stroke="#3a3aff" stroke-width="1.1" fill="none"/>
<path d="M873.8 181.0V189.3M871.4 181.0H876.2M871.4 189.3H876.2" stroke="#3a3aff" stroke-width="1.1" fill="none"/>
<path d="M856.7 167.0V185.2M854.3 167.0H859.1M854.3 185.2H859.1" stroke="#3a3aff" stroke-width="1.1" fill="none"/>
<path d="M863.0 180.3V200.2M860.6 180.3H865.4M860.6 200.2H865.4" stroke="#3a3aff" stroke-width="1.1" fill="none"/>
<path d="M851.8 169.2V181.6M849.4 169.2H854.2M849.4 181.6H854.2" stroke="#3a3aff" stroke-width="1.1" fill="none"/>
<path d="M912.9 173.5V195.2M910.5 173.5H915.3M910.5 195.2H915.3" stroke="#3a3aff" stroke-width="1.1" fill="none"/>
<path d="M885.0 181.7V194.4M882.6 181.7H887.4M882.6 194.4H887.4" stroke="#3a3aff" stroke-width="1.1" fill="none"/>
<path d="M859.5 171.5V183.9M857.1 171.5H861.9M857.1 183.9H861.9" stroke="#3a3aff" stroke-width="1.1" fill="none"/>
<path d="M905.4 163.5V172.0M903.0 163.5H907.8M903.0 172.0H907.8" stroke="#3a3aff" stroke-width="1.1" fill="none"/>
<path d="M864.7 159.9V173.6M862.3 159.9H867.1M862.3 173.6H867.1" stroke="#3a3aff" stroke-width="1.1" fill="none"/>
<path d="M639.6 152.8V173.3M637.2 152.8H642.0M637.2 173.3H642.0" stroke="#3a3aff" stroke-width="1.1" fill="none"/>
<path d="M687.6 161.4V169.9M685.2 161.4H690.0M685.2 169.9H690.0" stroke="#3a3aff" stroke-width="1.1" fill="none"/>
<path d="M679.3 150.5V160.8M676.9 150.5H681.7M676.9 160.8H681.7" stroke="#3a3aff" stroke-width="1.1" fill="none"/>
<path d="M663.7 168.2V178.2M661.3 168.2H666.1M661.3 178.2H666.1" stroke="#3a3aff" stroke-width="1.1" fill="none"/>
<path d="M672.9 147.1V160.1M670.5 147.1H675.3M670.5 160.1H675.3" stroke="#3a3aff" stroke-width="1.1" fill="none"/>
<path d="M675.4 159.6V179.8M673.0 159.6H677.8M673.0 179.8H677.8" stroke="#3a3aff" stroke-width="1.1" fill="none"/>
<path d="M682.5 161.6V171.8M680.1 161.6H684.9M680.1 171.8H684.9" stroke="#3a3aff" stroke-width="1.1" fill="none"/>
<path d="M694.2 150.3V159.4M691.8 150.3H696.6M691.8 159.4H696.6" stroke="#3a3aff" stroke-width="1.1" fill="none"/>
<path d="M632.0 168.5V179.7M629.6 168.5H634.4M629.6 179.7H634.4" stroke="#3a3aff" stroke-width="1.1" fill="none"/>
<path d="M670.1 154.7V164.3M667.7 154.7H672.5M667.7 164.3H672.5" stroke="#3a3aff" stroke-width="1.1" fill="none"/>
<path d="M631.5 144.6V161.5M629.1 144.6H633.9M629.1 161.5H633.9" stroke="#3a3aff" stroke-width="1.1" fill="none"/>
<path d="M655.5 151.0V168.0M653.1 151.0H657.9M653.1 168.0H657.9" stroke="#3a3aff" stroke-width="1.1" fill="none"/>
<path d="M784.8 148.5V166.1M782.4 148.5H787.2M782.4 166.1H787.2" stroke="#3a3aff" stroke-width="1.1" fill="none"/>
<path d="M787.0 148.9V163.1M784.6 148.9H789.4M784.6 163.1H789.4" stroke="#3a3aff" stroke-width="1.1" fill="none"/>
<path d="M800.0 144.8V161.2M797.6 144.8H802.4M797.6 161.2H802.4" stroke="#3a3aff" stroke-width="1.1" fill="none"/>
<path d="M824.7 158.4V175.6M822.3 158.4H827.1M822.3 175.6H827.1" stroke="#3a3aff" stroke-width="1.1" fill="none"/>
<path d="M828.0 158.6V171.4M825.6 158.6H830.4M825.6 171.4H830.4" stroke="#3a3aff" stroke-width="1.1" fill="none"/>
<path d="M840.0 156.4V169.6M837.6 156.4H842.4M837.6 169.6H842.4" stroke="#3a3aff" stroke-width="1.1" fill="none"/>
<path d="M878.0 156.6V172.4M875.6 156.6H880.4M875.6 172.4H880.4" stroke="#3a3aff" stroke-width="1.1" fill="none"/>
<path d="M907.5 159.3V173.9M905.1 159.3H909.9M905.1 173.9H909.9" stroke="#3a3aff" stroke-width="1.1" fill="none"/>
<path d="M909.7 168.9V183.1M907.3 168.9H912.1M907.3 183.1H912.1" stroke="#3a3aff" stroke-width="1.1" fill="none"/>
<path d="M916.0 180.7V195.3M913.6 180.7H918.4M913.6 195.3H918.4" stroke="#3a3aff" stroke-width="1.1" fill="none"/>
<path d="M920.0 184.5V200.5M917.6 184.5H922.4M917.6 200.5H922.4" stroke="#3a3aff" stroke-width="1.1" fill="none"/>
<path d="M922.6 181.0V195.0M920.2 181.0H925.0M920.2 195.0H925.0" stroke="#3a3aff" stroke-width="1.1" fill="none"/>
<path d="M800.4 167.8H808.2M804.3 163.9V171.7" stroke="#0000f0" stroke-width="2.2" fill="none"/>
<path d="M815.4 163.1H823.2M819.3 159.2V167.0" stroke="#0000f0" stroke-width="2.2" fill="none"/>
<path d="M792.9 161.6H800.7M796.8 157.7V165.5" stroke="#0000f0" stroke-width="2.2" fill="none"/>
<path d="M828.6 163.1H836.4M832.5 159.2V167.0" stroke="#0000f0" stroke-width="2.2" fill="none"/>
<path d="M832.7 171.5H840.5M836.6 167.6V175.4" stroke="#0000f0" stroke-width="2.2" fill="none"/>
<path d="M786.2 159.5H794.0M790.1 155.6V163.4" stroke="#0000f0" stroke-width="2.2" fill="none"/>
<path d="M807.5 144.1H815.3M811.4 140.2V148.0" stroke="#0000f0" stroke-width="2.2" fill="none"/>
<path d="M795.6 167.5H803.4M799.5 163.6V171.4" stroke="#0000f0" stroke-width="2.2" fill="none"/>
<path d="M783.3 178.8H791.1M787.2 174.9V182.7" stroke="#0000f0" stroke-width="2.2" fill="none"/>
<path d="M834.5 168.0H842.3M838.4 164.1V171.9" stroke="#0000f0" stroke-width="2.2" fill="none"/>
<path d="M909.5 178.4H917.3M913.4 174.5V182.3" stroke="#0000f0" stroke-width="2.2" fill="none"/>
<path d="M890.2 176.5H898.0M894.1 172.6V180.4" stroke="#0000f0" stroke-width="2.2" fill="none"/>
<path d="M869.3 176.2H877.1M873.2 172.3V180.1" stroke="#0000f0" stroke-width="2.2" fill="none"/>
<path d="M869.9 185.1H877.7M873.8 181.2V189.0" stroke="#0000f0" stroke-width="2.2" fill="none"/>
<path d="M852.8 176.1H860.6M856.7 172.2V180.0" stroke="#0000f0" stroke-width="2.2" fill="none"/>
<path d="M859.1 190.2H866.9M863.0 186.3V194.1" stroke="#0000f0" stroke-width="2.2" fill="none"/>
<path d="M847.9 175.4H855.7M851.8 171.5V179.3" stroke="#0000f0" stroke-width="2.2" fill="none"/>
<path d="M909.0 184.4H916.8M912.9 180.5V188.3" stroke="#0000f0" stroke-width="2.2" fill="none"/>
<path d="M881.1 188.1H888.9M885.0 184.2V192.0" stroke="#0000f0" stroke-width="2.2" fill="none"/>
<path d="M855.6 177.7H863.4M859.5 173.8V181.6" stroke="#0000f0" stroke-width="2.2" fill="none"/>
<path d="M901.5 167.8H909.3M905.4 163.9V171.7" stroke="#0000f0" stroke-width="2.2" fill="none"/>
<path d="M860.8 166.7H868.6M864.7 162.8V170.6" stroke="#0000f0" stroke-width="2.2" fill="none"/>
<path d="M635.7 163.1H643.5M639.6 159.2V167.0" stroke="#0000f0" stroke-width="2.2" fill="none"/>
<path d="M683.7 165.6H691.5M687.6 161.7V169.5" stroke="#0000f0" stroke-width="2.2" fill="none"/>
<path d="M675.4 155.7H683.2M679.3 151.8V159.6" stroke="#0000f0" stroke-width="2.2" fill="none"/>
<path d="M659.8 173.2H667.6M663.7 169.3V177.1" stroke="#0000f0" stroke-width="2.2" fill="none"/>
<path d="M669.0 153.6H676.8M672.9 149.7V157.5" stroke="#0000f0" stroke-width="2.2" fill="none"/>
<path d="M671.5 169.7H679.3M675.4 165.8V173.6" stroke="#0000f0" stroke-width="2.2" fill="none"/>
<path d="M678.6 166.7H686.4M682.5 162.8V170.6" stroke="#0000f0" stroke-width="2.2" fill="none"/>
<path d="M690.3 154.9H698.1M694.2 151.0V158.8" stroke="#0000f0" stroke-width="2.2" fill="none"/>
<path d="M628.1 174.1H635.9M632.0 170.2V178.0" stroke="#0000f0" stroke-width="2.2" fill="none"/>
<path d="M666.2 159.5H674.0M670.1 155.6V163.4" stroke="#0000f0" stroke-width="2.2" fill="none"/>
<path d="M627.6 153.0H635.4M631.5 149.1V156.9" stroke="#0000f0" stroke-width="2.2" fill="none"/>
<path d="M651.6 159.5H659.4M655.5 155.6V163.4" stroke="#0000f0" stroke-width="2.2" fill="none"/>
<path d="M780.9 157.3H788.7M784.8 153.4V161.2" stroke="#0000f0" stroke-width="2.2" fill="none"/>
<path d="M783.1 156.0H790.9M787.0 152.1V159.9" stroke="#0000f0" stroke-width="2.2" fill="none"/>
<path d="M796.1 153.0H803.9M800.0 149.1V156.9" stroke="#0000f0" stroke-width="2.2" fill="none"/>
<path d="M820.8 167.0H828.6M824.7 163.1V170.9" stroke="#0000f0" stroke-width="2.2" fill="none"/>
<path d="M824.1 165.0H831.9M828.0 161.1V168.9" stroke="#0000f0" stroke-width="2.2" fill="none"/>
<path d="M836.1 163.0H843.9M840.0 159.1V166.9" stroke="#0000f0" stroke-width="2.2" fill="none"/>
<path d="M874.1 164.5H881.9M878.0 160.6V168.4" stroke="#0000f0" stroke-width="2.2" fill="none"/>
<path d="M903.6 166.6H911.4M907.5 162.7V170.5" stroke="#0000f0" stroke-width="2.2" fill="none"/>
<path d="M905.8 176.0H913.6M909.7 172.1V179.9" stroke="#0000f0" stroke-width="2.2" fill="none"/>
<path d="M912.1 188.0H919.9M916.0 184.1V191.9" stroke="#0000f0" stroke-width="2.2" fill="none"/>
<path d="M916.1 192.5H923.9M920.0 188.6V196.4" stroke="#0000f0" stroke-width="2.2" fill="none"/>
<path d="M918.7 188.0H926.5M922.6 184.1V191.9" stroke="#0000f0" stroke-width="2.2" fill="none"/>
<path d="M633.6 162.4V174.4M631.2 162.4H636.0M631.2 174.4H636.0" stroke="#3838a8" stroke-width="1.1" fill="none"/>
<path d="M602.4 148.5V164.9M600.0 148.5H604.8M600.0 164.9H604.8" stroke="#3838a8" stroke-width="1.1" fill="none"/>
<path d="M628.4 165.7V182.5M626.0 165.7H630.8M626.0 182.5H630.8" stroke="#3838a8" stroke-width="1.1" fill="none"/>
<path d="M639.7 165.2V183.5M637.3 165.2H642.1M637.3 183.5H642.1" stroke="#3838a8" stroke-width="1.1" fill="none"/>
<path d="M712.7 153.7V172.9M710.3 153.7H715.1M710.3 172.9H715.1" stroke="#3838a8" stroke-width="1.1" fill="none"/>
<path d="M600.3 157.8V173.5M597.9 157.8H602.7M597.9 173.5H602.7" stroke="#3838a8" stroke-width="1.1" fill="none"/>
<path d="M596.1 158.8V174.1M593.7 158.8H598.5M593.7 174.1H598.5" stroke="#3838a8" stroke-width="1.1" fill="none"/>
<path d="M663.2 154.0V175.7M660.8 154.0H665.6M660.8 175.7H665.6" stroke="#3838a8" stroke-width="1.1" fill="none"/>
<path d="M719.8 162.3V178.0M717.4 162.3H722.2M717.4 178.0H722.2" stroke="#3838a8" stroke-width="1.1" fill="none"/>
<path d="M711.9 165.6V175.8M709.5 165.6H714.3M709.5 175.8H714.3" stroke="#3838a8" stroke-width="1.1" fill="none"/>
<path d="M682.7 161.7V180.6M680.3 161.7H685.1M680.3 180.6H685.1" stroke="#3838a8" stroke-width="1.1" fill="none"/>
<path d="M593.4 154.3V174.9M591.0 154.3H595.8M591.0 174.9H595.8" stroke="#3838a8" stroke-width="1.1" fill="none"/>
<path d="M697.7 161.4V173.6M695.3 161.4H700.1M695.3 173.6H700.1" stroke="#3838a8" stroke-width="1.1" fill="none"/>
<path d="M680.4 158.3V171.1M678.0 158.3H682.8M678.0 171.1H682.8" stroke="#3838a8" stroke-width="1.1" fill="none"/>
<path d="M604.3 154.6V174.9M601.9 154.6H606.7M601.9 174.9H606.7" stroke="#3838a8" stroke-width="1.1" fill="none"/>
<path d="M649.6 156.7V175.1M647.2 156.7H652.0M647.2 175.1H652.0" stroke="#3838a8" stroke-width="1.1" fill="none"/>
<path d="M591.0 159.8V178.7M588.6 159.8H593.4M588.6 178.7H593.4" stroke="#3838a8" stroke-width="1.1" fill="none"/>
<path d="M697.1 152.8V168.7M694.7 152.8H699.5M694.7 168.7H699.5" stroke="#3838a8" stroke-width="1.1" fill="none"/>
<path d="M685.3 153.9V169.7M682.9 153.9H687.7M682.9 169.7H687.7" stroke="#3838a8" stroke-width="1.1" fill="none"/>
<path d="M697.5 153.2V171.0M695.1 153.2H699.9M695.1 171.0H699.9" stroke="#3838a8" stroke-width="1.1" fill="none"/>
<path d="M691.2 152.2V167.1M688.8 152.2H693.6M688.8 167.1H693.6" stroke="#3838a8" stroke-width="1.1" fill="none"/>
<path d="M621.7 155.5V165.0M619.3 155.5H624.1M619.3 165.0H624.1" stroke="#3838a8" stroke-width="1.1" fill="none"/>
<path d="M695.4 160.0V173.2M693.0 160.0H697.8M693.0 173.2H697.8" stroke="#3838a8" stroke-width="1.1" fill="none"/>
<path d="M619.1 166.0V182.7M616.7 166.0H621.5M616.7 182.7H621.5" stroke="#3838a8" stroke-width="1.1" fill="none"/>
<path d="M603.4 158.6V172.6M601.0 158.6H605.8M601.0 172.6H605.8" stroke="#3838a8" stroke-width="1.1" fill="none"/>
<path d="M639.0 143.4V153.3M636.6 143.4H641.4M636.6 153.3H641.4" stroke="#3838a8" stroke-width="1.1" fill="none"/>
<path d="M827.0 160.3V168.9M824.6 160.3H829.4M824.6 168.9H829.4" stroke="#3838a8" stroke-width="1.1" fill="none"/>
<path d="M814.8 142.5V158.0M812.4 142.5H817.2M812.4 158.0H817.2" stroke="#3838a8" stroke-width="1.1" fill="none"/>
<path d="M821.7 164.5V178.4M819.3 164.5H824.1M819.3 178.4H824.1" stroke="#3838a8" stroke-width="1.1" fill="none"/>
<path d="M820.0 145.0V163.0M817.6 145.0H822.4M817.6 163.0H822.4" stroke="#3838a8" stroke-width="1.1" fill="none"/>
<path d="M798.0 153.5V165.5M795.6 153.5H800.4M795.6 165.5H800.4" stroke="#3838a8" stroke-width="1.1" fill="none"/>
<path d="M820.7 148.6V168.8M818.3 148.6H823.1M818.3 168.8H823.1" stroke="#3838a8" stroke-width="1.1" fill="none"/>
<path d="M841.7 158.2V172.3M839.3 158.2H844.1M839.3 172.3H844.1" stroke="#3838a8" stroke-width="1.1" fill="none"/>
<path d="M800.3 147.8V166.1M797.9 147.8H802.7M797.9 166.1H802.7" stroke="#3838a8" stroke-width="1.1" fill="none"/>
<path d="M790.7 148.6V157.7M788.3 148.6H793.1M788.3 157.7H793.1" stroke="#3838a8" stroke-width="1.1" fill="none"/>
<path d="M794.1 164.3V177.4M791.7 164.3H796.5M791.7 177.4H796.5" stroke="#3838a8" stroke-width="1.1" fill="none"/>
<path d="M817.6 153.7V162.7M815.2 153.7H820.0M815.2 162.7H820.0" stroke="#3838a8" stroke-width="1.1" fill="none"/>
<path d="M946.1 147.5V155.9M943.7 147.5H948.5M943.7 155.9H948.5" stroke="#3838a8" stroke-width="1.1" fill="none"/>
<path d="M949.4 153.3V167.6M947.0 153.3H951.8M947.0 167.6H951.8" stroke="#3838a8" stroke-width="1.1" fill="none"/>
<path d="M952.7 134.6V155.0M950.3 134.6H955.1M950.3 155.0H955.1" stroke="#3838a8" stroke-width="1.1" fill="none"/>
<path d="M959.8 150.9V164.6M957.4 150.9H962.2M957.4 164.6H962.2" stroke="#3838a8" stroke-width="1.1" fill="none"/>
<path d="M602.0 139.0V157.0M599.6 139.0H604.4M599.6 157.0H604.4" stroke="#3838a8" stroke-width="1.1" fill="none"/>
<path d="M600.0 149.4V162.6M597.6 149.4H602.4M597.6 162.6H602.4" stroke="#3838a8" stroke-width="1.1" fill="none"/>
<path d="M618.0 167.9V182.1M615.6 167.9H620.4M615.6 182.1H620.4" stroke="#3838a8" stroke-width="1.1" fill="none"/>
<path d="M676.0 145.5V158.5M673.6 145.5H678.4M673.6 158.5H678.4" stroke="#3838a8" stroke-width="1.1" fill="none"/>
<path d="M678.0 150.0V162.0M675.6 150.0H680.4M675.6 162.0H680.4" stroke="#3838a8" stroke-width="1.1" fill="none"/>
<path d="M690.0 146.6V161.4M687.6 146.6H692.4M687.6 161.4H692.4" stroke="#3838a8" stroke-width="1.1" fill="none"/>
<path d="M696.4 152.6V166.4M694.0 152.6H698.8M694.0 166.4H698.8" stroke="#3838a8" stroke-width="1.1" fill="none"/>
<path d="M707.0 136.9V160.5M704.6 136.9H709.4M704.6 160.5H709.4" stroke="#3838a8" stroke-width="1.1" fill="none"/>
<path d="M664.0 170.3V183.3M661.6 170.3H666.4M661.6 183.3H666.4" stroke="#3838a8" stroke-width="1.1" fill="none"/>
<path d="M680.2 171.4V186.6M677.8 171.4H682.6M677.8 186.6H682.6" stroke="#3838a8" stroke-width="1.1" fill="none"/>
<path d="M790.0 159.7V174.3M787.6 159.7H792.4M787.6 174.3H792.4" stroke="#3838a8" stroke-width="1.1" fill="none"/>
<path d="M793.0 168.5V183.5M790.6 168.5H795.4M790.6 183.5H795.4" stroke="#3838a8" stroke-width="1.1" fill="none"/>
<path d="M803.0 164.1V179.9M800.6 164.1H805.4M800.6 179.9H805.4" stroke="#3838a8" stroke-width="1.1" fill="none"/>
<path d="M959.1 140.4V155.6M956.7 140.4H961.5M956.7 155.6H961.5" stroke="#3838a8" stroke-width="1.1" fill="none"/>
<path d="M955.7 148.5V162.9M953.3 148.5H958.1M953.3 162.9H958.1" stroke="#3838a8" stroke-width="1.1" fill="none"/>
<circle cx="633.6" cy="168.4" r="2.8" fill="#000080"/>
<circle cx="602.4" cy="156.7" r="2.8" fill="#000080"/>
<circle cx="628.4" cy="174.1" r="2.8" fill="#000080"/>
<circle cx="639.7" cy="174.4" r="2.8" fill="#000080"/>
<circle cx="712.7" cy="163.3" r="2.8" fill="#000080"/>
<circle cx="600.3" cy="165.6" r="2.8" fill="#000080"/>
<circle cx="596.1" cy="166.5" r="2.8" fill="#000080"/>
<circle cx="663.2" cy="164.9" r="2.8" fill="#000080"/>
<circle cx="719.8" cy="170.2" r="2.8" fill="#000080"/>
<circle cx="711.9" cy="170.7" r="2.8" fill="#000080"/>
<circle cx="682.7" cy="171.2" r="2.8" fill="#000080"/>
<circle cx="593.4" cy="164.6" r="2.8" fill="#000080"/>
<circle cx="697.7" cy="167.5" r="2.8" fill="#000080"/>
<circle cx="680.4" cy="164.7" r="2.8" fill="#000080"/>
<circle cx="604.3" cy="164.8" r="2.8" fill="#000080"/>
<circle cx="649.6" cy="165.9" r="2.8" fill="#000080"/>
<circle cx="591.0" cy="169.2" r="2.8" fill="#000080"/>
<circle cx="697.1" cy="160.8" r="2.8" fill="#000080"/>
<circle cx="685.3" cy="161.8" r="2.8" fill="#000080"/>
<circle cx="697.5" cy="162.1" r="2.8" fill="#000080"/>
<circle cx="691.2" cy="159.6" r="2.8" fill="#000080"/>
<circle cx="621.7" cy="160.3" r="2.8" fill="#000080"/>
<circle cx="695.4" cy="166.6" r="2.8" fill="#000080"/>
<circle cx="619.1" cy="174.4" r="2.8" fill="#000080"/>
<circle cx="603.4" cy="165.6" r="2.8" fill="#000080"/>
<circle cx="639.0" cy="148.3" r="2.8" fill="#000080"/>
<circle cx="827.0" cy="164.6" r="2.8" fill="#000080"/>
<circle cx="814.8" cy="150.2" r="2.8" fill="#000080"/>
<circle cx="821.7" cy="171.5" r="2.8" fill="#000080"/>
<circle cx="820.0" cy="154.0" r="2.8" fill="#000080"/>
<circle cx="798.0" cy="159.5" r="2.8" fill="#000080"/>
<circle cx="820.7" cy="158.7" r="2.8" fill="#000080"/>
<circle cx="841.7" cy="165.2" r="2.8" fill="#000080"/>
<circle cx="800.3" cy="156.9" r="2.8" fill="#000080"/>
<circle cx="790.7" cy="153.1" r="2.8" fill="#000080"/>
<circle cx="794.1" cy="170.9" r="2.8" fill="#000080"/>
<circle cx="817.6" cy="158.2" r="2.8" fill="#000080"/>
<circle cx="946.1" cy="151.7" r="2.8" fill="#000080"/>
<circle cx="949.4" cy="160.5" r="2.8" fill="#000080"/>
<circle cx="952.7" cy="144.8" r="2.8" fill="#000080"/>
<circle cx="959.8" cy="157.8" r="2.8" fill="#000080"/>
<circle cx="602.0" cy="148.0" r="2.8" fill="#000080"/>
<circle cx="600.0" cy="156.0" r="2.8" fill="#000080"/>
<circle cx="618.0" cy="175.0" r="2.8" fill="#000080"/>
<circle cx="676.0" cy="152.0" r="2.8" fill="#000080"/>
<circle cx="678.0" cy="156.0" r="2.8" fill="#000080"/>
<circle cx="690.0" cy="154.0" r="2.8" fill="#000080"/>
<circle cx="696.4" cy="159.5" r="2.8" fill="#000080"/>
<circle cx="707.0" cy="148.7" r="2.8" fill="#000080"/>
<circle cx="664.0" cy="176.8" r="2.8" fill="#000080"/>
<circle cx="680.2" cy="179.0" r="2.8" fill="#000080"/>
<circle cx="790.0" cy="167.0" r="2.8" fill="#000080"/>
<circle cx="793.0" cy="176.0" r="2.8" fill="#000080"/>
<circle cx="803.0" cy="172.0" r="2.8" fill="#000080"/>
<circle cx="959.1" cy="148.0" r="2.8" fill="#000080"/>
<circle cx="955.7" cy="155.7" r="2.8" fill="#000080"/>
<path d="M703.4 163.6V182.9M701.0 163.6H705.8M701.0 182.9H705.8" stroke="#9a9a9a" stroke-width="1.1" fill="none"/>
<path d="M671.1 154.5V168.8M668.7 154.5H673.5M668.7 168.8H673.5" stroke="#9a9a9a" stroke-width="1.1" fill="none"/>
<path d="M653.1 165.9V186.6M650.7 165.9H655.5M650.7 186.6H655.5" stroke="#9a9a9a" stroke-width="1.1" fill="none"/>
<path d="M688.9 152.7V170.1M686.5 152.7H691.3M686.5 170.1H691.3" stroke="#9a9a9a" stroke-width="1.1" fill="none"/>
<path d="M647.3 165.7V176.3M644.9 165.7H649.7M644.9 176.3H649.7" stroke="#9a9a9a" stroke-width="1.1" fill="none"/>
<path d="M603.0 182.1V195.9M600.6 182.1H605.4M600.6 195.9H605.4" stroke="#9a9a9a" stroke-width="1.1" fill="none"/>
<path d="M615.0 173.0V187.0M612.6 173.0H617.4M612.6 187.0H617.4" stroke="#9a9a9a" stroke-width="1.1" fill="none"/>
<path d="M661.0 138.6V151.4M658.6 138.6H663.4M658.6 151.4H663.4" stroke="#9a9a9a" stroke-width="1.1" fill="none"/>
<path d="M701.0 167.0V177.0M698.6 167.0H703.4M698.6 177.0H703.4" stroke="#9a9a9a" stroke-width="1.1" fill="none"/>
<path d="M707.0 173.1V186.9M704.6 173.1H709.4M704.6 186.9H709.4" stroke="#9a9a9a" stroke-width="1.1" fill="none"/>
<path d="M971.2 172.8V185.2M968.8 172.8H973.6M968.8 185.2H973.6" stroke="#9a9a9a" stroke-width="1.1" fill="none"/>
<path d="M960.0 181.3V195.5M957.6 181.3H962.4M957.6 195.5H962.4" stroke="#9a9a9a" stroke-width="1.1" fill="none"/>
<path d="M699.2 169.6L707.6 177.0M699.2 177.0L707.6 169.6M700.0 173.3H706.8M703.4 169.9V176.7" stroke="#808080" stroke-width="1.8" fill="none"/><rect x="701.5" y="171.4" width="3.8" height="3.8" fill="#808080"/>
<path d="M666.9 158.0L675.3 165.4M666.9 165.4L675.3 158.0M667.7 161.7H674.5M671.1 158.3V165.1" stroke="#808080" stroke-width="1.8" fill="none"/><rect x="669.2" y="159.8" width="3.8" height="3.8" fill="#808080"/>
<path d="M648.9 172.5L657.3 179.9M648.9 179.9L657.3 172.5M649.7 176.2H656.5M653.1 172.8V179.6" stroke="#808080" stroke-width="1.8" fill="none"/><rect x="651.2" y="174.3" width="3.8" height="3.8" fill="#808080"/>
<path d="M684.7 157.7L693.1 165.1M684.7 165.1L693.1 157.7M685.5 161.4H692.3M688.9 158.0V164.8" stroke="#808080" stroke-width="1.8" fill="none"/><rect x="687.0" y="159.5" width="3.8" height="3.8" fill="#808080"/>
<path d="M643.1 167.3L651.5 174.7M643.1 174.7L651.5 167.3M643.9 171.0H650.7M647.3 167.6V174.4" stroke="#808080" stroke-width="1.8" fill="none"/><rect x="645.4" y="169.1" width="3.8" height="3.8" fill="#808080"/>
<path d="M598.8 185.3L607.2 192.7M598.8 192.7L607.2 185.3M599.6 189.0H606.4M603.0 185.6V192.4" stroke="#808080" stroke-width="1.8" fill="none"/><rect x="601.1" y="187.1" width="3.8" height="3.8" fill="#808080"/>
<path d="M610.8 176.3L619.2 183.7M610.8 183.7L619.2 176.3M611.6 180.0H618.4M615.0 176.6V183.4" stroke="#808080" stroke-width="1.8" fill="none"/><rect x="613.1" y="178.1" width="3.8" height="3.8" fill="#808080"/>
<path d="M656.8 141.3L665.2 148.7M656.8 148.7L665.2 141.3M657.6 145.0H664.4M661.0 141.6V148.4" stroke="#808080" stroke-width="1.8" fill="none"/><rect x="659.1" y="143.1" width="3.8" height="3.8" fill="#808080"/>
<path d="M696.8 168.3L705.2 175.7M696.8 175.7L705.2 168.3M697.6 172.0H704.4M701.0 168.6V175.4" stroke="#808080" stroke-width="1.8" fill="none"/><rect x="699.1" y="170.1" width="3.8" height="3.8" fill="#808080"/>
<path d="M702.8 176.3L711.2 183.7M702.8 183.7L711.2 176.3M703.6 180.0H710.4M707.0 176.6V183.4" stroke="#808080" stroke-width="1.8" fill="none"/><rect x="705.1" y="178.1" width="3.8" height="3.8" fill="#808080"/>
<path d="M967.0 175.3L975.4 182.7M967.0 182.7L975.4 175.3M967.8 179.0H974.6M971.2 175.6V182.4" stroke="#808080" stroke-width="1.8" fill="none"/><rect x="969.3" y="177.1" width="3.8" height="3.8" fill="#808080"/>
<path d="M955.8 184.7L964.2 192.1M955.8 192.1L964.2 184.7M956.6 188.4H963.4M960.0 185.0V191.8" stroke="#808080" stroke-width="1.8" fill="none"/><rect x="958.1" y="186.5" width="3.8" height="3.8" fill="#808080"/>
<path d="M816.7 152.8V174.0M814.3 152.8H819.1M814.3 174.0H819.1" stroke="#b048b0" stroke-width="1.1" fill="none"/>
<path d="M833.8 139.7V152.4M831.4 139.7H836.2M831.4 152.4H836.2" stroke="#b048b0" stroke-width="1.1" fill="none"/>
<path d="M818.0 152.3V168.6M815.6 152.3H820.4M815.6 168.6H820.4" stroke="#b048b0" stroke-width="1.1" fill="none"/>
<path d="M832.7 156.4V166.2M830.3 156.4H835.1M830.3 166.2H835.1" stroke="#b048b0" stroke-width="1.1" fill="none"/>
<path d="M825.1 155.0V168.5M822.7 155.0H827.5M822.7 168.5H827.5" stroke="#b048b0" stroke-width="1.1" fill="none"/>
<path d="M823.0 159.7V174.9M820.6 159.7H825.4M820.6 174.9H825.4" stroke="#b048b0" stroke-width="1.1" fill="none"/>
<path d="M843.7 156.5V177.3M841.3 156.5H846.1M841.3 177.3H846.1" stroke="#b048b0" stroke-width="1.1" fill="none"/>
<path d="M811.6 141.6V160.8M809.2 141.6H814.0M809.2 160.8H814.0" stroke="#b048b0" stroke-width="1.1" fill="none"/>
<path d="M824.5 162.5V177.9M822.1 162.5H826.9M822.1 177.9H826.9" stroke="#b048b0" stroke-width="1.1" fill="none"/>
<path d="M873.8 163.4V178.8M871.4 163.4H876.2M871.4 178.8H876.2" stroke="#b048b0" stroke-width="1.1" fill="none"/>
<path d="M874.0 187.8V201.6M871.6 187.8H876.4M871.6 201.6H876.4" stroke="#b048b0" stroke-width="1.1" fill="none"/>
<path d="M852.5 167.2V175.5M850.1 167.2H854.9M850.1 175.5H854.9" stroke="#b048b0" stroke-width="1.1" fill="none"/>
<path d="M897.9 170.9V187.3M895.5 170.9H900.3M895.5 187.3H900.3" stroke="#b048b0" stroke-width="1.1" fill="none"/>
<path d="M864.8 163.6V172.5M862.4 163.6H867.2M862.4 172.5H867.2" stroke="#b048b0" stroke-width="1.1" fill="none"/>
<path d="M851.8 161.3V174.6M849.4 161.3H854.2M849.4 174.6H854.2" stroke="#b048b0" stroke-width="1.1" fill="none"/>
<path d="M878.0 166.5V182.4M875.6 166.5H880.4M875.6 182.4H880.4" stroke="#b048b0" stroke-width="1.1" fill="none"/>
<path d="M893.1 172.2V185.3M890.7 172.2H895.5M890.7 185.3H895.5" stroke="#b048b0" stroke-width="1.1" fill="none"/>
<path d="M876.2 165.8V181.9M873.8 165.8H878.6M873.8 181.9H878.6" stroke="#b048b0" stroke-width="1.1" fill="none"/>
<path d="M871.8 173.3V186.7M869.4 173.3H874.2M869.4 186.7H874.2" stroke="#b048b0" stroke-width="1.1" fill="none"/>
<path d="M889.5 177.6V191.1M887.1 177.6H891.9M887.1 191.1H891.9" stroke="#b048b0" stroke-width="1.1" fill="none"/>
<path d="M859.8 159.4V175.2M857.4 159.4H862.2M857.4 175.2H862.2" stroke="#b048b0" stroke-width="1.1" fill="none"/>
<path d="M850.7 171.4V192.8M848.3 171.4H853.1M848.3 192.8H853.1" stroke="#b048b0" stroke-width="1.1" fill="none"/>
<path d="M814.0 143.3V156.7M811.6 143.3H816.4M811.6 156.7H816.4" stroke="#b048b0" stroke-width="1.1" fill="none"/>
<path d="M820.0 147.3V162.7M817.6 147.3H822.4M817.6 162.7H822.4" stroke="#b048b0" stroke-width="1.1" fill="none"/>
<path d="M828.0 146.0V158.0M825.6 146.0H830.4M825.6 158.0H830.4" stroke="#b048b0" stroke-width="1.1" fill="none"/>
<path d="M833.0 154.0V166.0M830.6 154.0H835.4M830.6 166.0H835.4" stroke="#b048b0" stroke-width="1.1" fill="none"/>
<path d="M838.0 155.9V168.1M835.6 155.9H840.4M835.6 168.1H840.4" stroke="#b048b0" stroke-width="1.1" fill="none"/>
<path d="M810.0 152.3V167.7M807.6 152.3H812.4M807.6 167.7H812.4" stroke="#b048b0" stroke-width="1.1" fill="none"/>
<path d="M846.0 172.6V185.4M843.6 172.6H848.4M843.6 185.4H848.4" stroke="#b048b0" stroke-width="1.1" fill="none"/>
<path d="M850.0 173.2V188.8M847.6 173.2H852.4M847.6 188.8H852.4" stroke="#b048b0" stroke-width="1.1" fill="none"/>
<path d="M860.0 168.4V183.6M857.6 168.4H862.4M857.6 183.6H862.4" stroke="#b048b0" stroke-width="1.1" fill="none"/>
<path d="M859.0 187.5V199.7M856.6 187.5H861.4M856.6 199.7H861.4" stroke="#b048b0" stroke-width="1.1" fill="none"/>
<path d="M862.0 187.0V200.2M859.6 187.0H864.4M859.6 200.2H864.4" stroke="#b048b0" stroke-width="1.1" fill="none"/>
<path d="M873.0 174.1V189.3M870.6 174.1H875.4M870.6 189.3H875.4" stroke="#b048b0" stroke-width="1.1" fill="none"/>
<path d="M879.5 144.8V160.4M877.1 144.8H881.9M877.1 160.4H881.9" stroke="#b048b0" stroke-width="1.1" fill="none"/>
<path d="M891.0 152.3V163.7M888.6 152.3H893.4M888.6 163.7H893.4" stroke="#b048b0" stroke-width="1.1" fill="none"/>
<path d="M899.0 152.0V166.0M896.6 152.0H901.4M896.6 166.0H901.4" stroke="#b048b0" stroke-width="1.1" fill="none"/>
<path d="M893.0 162.7V177.3M890.6 162.7H895.4M890.6 177.3H895.4" stroke="#b048b0" stroke-width="1.1" fill="none"/>
<path d="M899.0 165.2V180.8M896.6 165.2H901.4M896.6 180.8H901.4" stroke="#b048b0" stroke-width="1.1" fill="none"/>
<path d="M816.7 160.0L820.1 163.4L816.7 166.8L813.3 163.4Z" fill="#800080"/>
<path d="M833.8 142.7L837.2 146.1L833.8 149.5L830.4 146.1Z" fill="#800080"/>
<path d="M818.0 157.1L821.4 160.5L818.0 163.9L814.6 160.5Z" fill="#800080"/>
<path d="M832.7 157.9L836.1 161.3L832.7 164.7L829.3 161.3Z" fill="#800080"/>
<path d="M825.1 158.4L828.5 161.8L825.1 165.2L821.7 161.8Z" fill="#800080"/>
<path d="M823.0 163.9L826.4 167.3L823.0 170.7L819.6 167.3Z" fill="#800080"/>
<path d="M843.7 163.5L847.1 166.9L843.7 170.3L840.3 166.9Z" fill="#800080"/>
<path d="M811.6 147.8L815.0 151.2L811.6 154.6L808.2 151.2Z" fill="#800080"/>
<path d="M824.5 166.8L827.9 170.2L824.5 173.6L821.1 170.2Z" fill="#800080"/>
<path d="M873.8 167.7L877.2 171.1L873.8 174.5L870.4 171.1Z" fill="#800080"/>
<path d="M874.0 191.3L877.4 194.7L874.0 198.1L870.6 194.7Z" fill="#800080"/>
<path d="M852.5 167.9L855.9 171.3L852.5 174.7L849.1 171.3Z" fill="#800080"/>
<path d="M897.9 175.7L901.3 179.1L897.9 182.5L894.5 179.1Z" fill="#800080"/>
<path d="M864.8 164.7L868.2 168.1L864.8 171.5L861.4 168.1Z" fill="#800080"/>
<path d="M851.8 164.5L855.2 167.9L851.8 171.3L848.4 167.9Z" fill="#800080"/>
<path d="M878.0 171.0L881.4 174.4L878.0 177.8L874.6 174.4Z" fill="#800080"/>
<path d="M893.1 175.3L896.5 178.7L893.1 182.1L889.7 178.7Z" fill="#800080"/>
<path d="M876.2 170.4L879.6 173.8L876.2 177.2L872.8 173.8Z" fill="#800080"/>
<path d="M871.8 176.6L875.2 180.0L871.8 183.4L868.4 180.0Z" fill="#800080"/>
<path d="M889.5 181.0L892.9 184.4L889.5 187.8L886.1 184.4Z" fill="#800080"/>
<path d="M859.8 163.9L863.2 167.3L859.8 170.7L856.4 167.3Z" fill="#800080"/>
<path d="M850.7 178.7L854.1 182.1L850.7 185.5L847.3 182.1Z" fill="#800080"/>
<path d="M814.0 146.6L817.4 150.0L814.0 153.4L810.6 150.0Z" fill="#800080"/>
<path d="M820.0 151.6L823.4 155.0L820.0 158.4L816.6 155.0Z" fill="#800080"/>
<path d="M828.0 148.6L831.4 152.0L828.0 155.4L824.6 152.0Z" fill="#800080"/>
<path d="M833.0 156.6L836.4 160.0L833.0 163.4L829.6 160.0Z" fill="#800080"/>
<path d="M838.0 158.6L841.4 162.0L838.0 165.4L834.6 162.0Z" fill="#800080"/>
<path d="M810.0 156.6L813.4 160.0L810.0 163.4L806.6 160.0Z" fill="#800080"/>
<path d="M846.0 175.6L849.4 179.0L846.0 182.4L842.6 179.0Z" fill="#800080"/>
<path d="M850.0 177.6L853.4 181.0L850.0 184.4L846.6 181.0Z" fill="#800080"/>
<path d="M860.0 172.6L863.4 176.0L860.0 179.4L856.6 176.0Z" fill="#800080"/>
<path d="M859.0 190.2L862.4 193.6L859.0 197.0L855.6 193.6Z" fill="#800080"/>
<path d="M862.0 190.2L865.4 193.6L862.0 197.0L858.6 193.6Z" fill="#800080"/>
<path d="M873.0 178.3L876.4 181.7L873.0 185.1L869.6 181.7Z" fill="#800080"/>
<path d="M879.5 149.2L882.9 152.6L879.5 156.0L876.1 152.6Z" fill="#800080"/>
<path d="M891.0 154.6L894.4 158.0L891.0 161.4L887.6 158.0Z" fill="#800080"/>
<path d="M899.0 155.6L902.4 159.0L899.0 162.4L895.6 159.0Z" fill="#800080"/>
<path d="M893.0 166.6L896.4 170.0L893.0 173.4L889.6 170.0Z" fill="#800080"/>
<path d="M899.0 169.6L902.4 173.0L899.0 176.4L895.6 173.0Z" fill="#800080"/>
<path d="M817.7 162.2V183.4M815.3 162.2H820.1M815.3 183.4H820.1" stroke="#3a3a3a" stroke-width="1.1" fill="none"/>
<path d="M832.8 156.8V177.6M830.4 156.8H835.2M830.4 177.6H835.2" stroke="#3a3a3a" stroke-width="1.1" fill="none"/>
<path d="M822.1 153.5V161.7M819.7 153.5H824.5M819.7 161.7H824.5" stroke="#3a3a3a" stroke-width="1.1" fill="none"/>
<path d="M810.8 163.3V177.1M808.4 163.3H813.2M808.4 177.1H813.2" stroke="#3a3a3a" stroke-width="1.1" fill="none"/>
<path d="M844.5 155.0V169.1M842.1 155.0H846.9M842.1 169.1H846.9" stroke="#3a3a3a" stroke-width="1.1" fill="none"/>
<path d="M769.7 157.1V170.5M767.3 157.1H772.1M767.3 170.5H772.1" stroke="#3a3a3a" stroke-width="1.1" fill="none"/>
<path d="M775.0 158.7V173.3M772.6 158.7H777.4M772.6 173.3H777.4" stroke="#3a3a3a" stroke-width="1.1" fill="none"/>
<path d="M773.0 164.1V177.9M770.6 164.1H775.4M770.6 177.9H775.4" stroke="#3a3a3a" stroke-width="1.1" fill="none"/>
<path d="M778.0 170.5V185.5M775.6 170.5H780.4M775.6 185.5H780.4" stroke="#3a3a3a" stroke-width="1.1" fill="none"/>
<path d="M779.4 179.4V198.6M777.0 179.4H781.8M777.0 198.6H781.8" stroke="#3a3a3a" stroke-width="1.1" fill="none"/>
<path d="M825.7 135.6V148.8M823.3 135.6H828.1M823.3 148.8H828.1" stroke="#3a3a3a" stroke-width="1.1" fill="none"/>
<path d="M816.0 139.3V153.7M813.6 139.3H818.4M813.6 153.7H818.4" stroke="#3a3a3a" stroke-width="1.1" fill="none"/>
<path d="M849.4 145.9V159.3M847.0 145.9H851.8M847.0 159.3H851.8" stroke="#3a3a3a" stroke-width="1.1" fill="none"/>
<path d="M857.0 155.5V168.5M854.6 155.5H859.4M854.6 168.5H859.4" stroke="#3a3a3a" stroke-width="1.1" fill="none"/>
<path d="M860.0 157.0V171.0M857.6 157.0H862.4M857.6 171.0H862.4" stroke="#3a3a3a" stroke-width="1.1" fill="none"/>
<path d="M862.0 154.6V169.4M859.6 154.6H864.4M859.6 169.4H864.4" stroke="#3a3a3a" stroke-width="1.1" fill="none"/>
<path d="M865.0 174.5V187.5M862.6 174.5H867.4M862.6 187.5H867.4" stroke="#3a3a3a" stroke-width="1.1" fill="none"/>
<path d="M868.0 175.0V189.0M865.6 175.0H870.4M865.6 189.0H870.4" stroke="#3a3a3a" stroke-width="1.1" fill="none"/>
<path d="M868.0 184.5V200.5M865.6 184.5H870.4M865.6 200.5H870.4" stroke="#3a3a3a" stroke-width="1.1" fill="none"/>
<path d="M872.0 184.2V199.8M869.6 184.2H874.4M869.6 199.8H874.4" stroke="#3a3a3a" stroke-width="1.1" fill="none"/>
<path d="M876.0 183.8V198.2M873.6 183.8H878.4M873.6 198.2H878.4" stroke="#3a3a3a" stroke-width="1.1" fill="none"/>
<path d="M883.0 164.8V179.2M880.6 164.8H885.4M880.6 179.2H885.4" stroke="#3a3a3a" stroke-width="1.1" fill="none"/>
<path d="M886.0 173.2V188.0M883.6 173.2H888.4M883.6 188.0H888.4" stroke="#3a3a3a" stroke-width="1.1" fill="none"/>
<path d="M892.0 178.7V193.3M889.6 178.7H894.4M889.6 193.3H894.4" stroke="#3a3a3a" stroke-width="1.1" fill="none"/>
<path d="M899.0 181.9V194.1M896.6 181.9H901.4M896.6 194.1H901.4" stroke="#3a3a3a" stroke-width="1.1" fill="none"/>
<circle cx="817.7" cy="172.8" r="2.8" fill="#000000"/>
<circle cx="832.8" cy="167.2" r="2.8" fill="#000000"/>
<circle cx="822.1" cy="157.6" r="2.8" fill="#000000"/>
<circle cx="810.8" cy="170.2" r="2.8" fill="#000000"/>
<circle cx="844.5" cy="162.0" r="2.8" fill="#000000"/>
<circle cx="769.7" cy="163.8" r="2.8" fill="#000000"/>
<circle cx="775.0" cy="166.0" r="2.8" fill="#000000"/>
<circle cx="773.0" cy="171.0" r="2.8" fill="#000000"/>
<circle cx="778.0" cy="178.0" r="2.8" fill="#000000"/>
<circle cx="779.4" cy="189.0" r="2.8" fill="#000000"/>
<circle cx="825.7" cy="142.2" r="2.8" fill="#000000"/>
<circle cx="816.0" cy="146.5" r="2.8" fill="#000000"/>
<circle cx="849.4" cy="152.6" r="2.8" fill="#000000"/>
<circle cx="857.0" cy="162.0" r="2.8" fill="#000000"/>
<circle cx="860.0" cy="164.0" r="2.8" fill="#000000"/>
<circle cx="862.0" cy="162.0" r="2.8" fill="#000000"/>
<circle cx="865.0" cy="181.0" r="2.8" fill="#000000"/>
<circle cx="868.0" cy="182.0" r="2.8" fill="#000000"/>
<circle cx="868.0" cy="192.5" r="2.8" fill="#000000"/>
<circle cx="872.0" cy="192.0" r="2.8" fill="#000000"/>
<circle cx="876.0" cy="191.0" r="2.8" fill="#000000"/>
<circle cx="883.0" cy="172.0" r="2.8" fill="#000000"/>
<circle cx="886.0" cy="180.6" r="2.8" fill="#000000"/>
<circle cx="892.0" cy="186.0" r="2.8" fill="#000000"/>
<circle cx="899.0" cy="188.0" r="2.8" fill="#000000"/>
<path d="M654.9 144.8V161.0M652.5 144.8H657.3M652.5 161.0H657.3" stroke="#48a8a8" stroke-width="1.1" fill="none"/>
<path d="M690.6 164.3V177.6M688.2 164.3H693.0M688.2 177.6H693.0" stroke="#48a8a8" stroke-width="1.1" fill="none"/>
<path d="M591.2 163.1V176.6M588.8 163.1H593.6M588.8 176.6H593.6" stroke="#48a8a8" stroke-width="1.1" fill="none"/>
<path d="M678.7 162.0V173.2M676.3 162.0H681.1M676.3 173.2H681.1" stroke="#48a8a8" stroke-width="1.1" fill="none"/>
<path d="M588.0 159.7V171.6M585.6 159.7H590.4M585.6 171.6H590.4" stroke="#48a8a8" stroke-width="1.1" fill="none"/>
<path d="M616.8 154.3V171.8M614.4 154.3H619.2M614.4 171.8H619.2" stroke="#48a8a8" stroke-width="1.1" fill="none"/>
<path d="M685.0 159.3V171.4M682.6 159.3H687.4M682.6 171.4H687.4" stroke="#48a8a8" stroke-width="1.1" fill="none"/>
<path d="M679.4 156.8V174.8M677.0 156.8H681.8M677.0 174.8H681.8" stroke="#48a8a8" stroke-width="1.1" fill="none"/>
<path d="M639.4 155.7V172.3M637.0 155.7H641.8M637.0 172.3H641.8" stroke="#48a8a8" stroke-width="1.1" fill="none"/>
<path d="M623.4 149.9V160.4M621.0 149.9H625.8M621.0 160.4H625.8" stroke="#48a8a8" stroke-width="1.1" fill="none"/>
<path d="M700.2 157.3V175.2M697.8 157.3H702.6M697.8 175.2H702.6" stroke="#48a8a8" stroke-width="1.1" fill="none"/>
<path d="M620.6 153.7V172.6M618.2 153.7H623.0M618.2 172.6H623.0" stroke="#48a8a8" stroke-width="1.1" fill="none"/>
<path d="M585.5 151.1V161.0M583.1 151.1H587.9M583.1 161.0H587.9" stroke="#48a8a8" stroke-width="1.1" fill="none"/>
<path d="M616.6 153.4V171.2M614.2 153.4H619.0M614.2 171.2H619.0" stroke="#48a8a8" stroke-width="1.1" fill="none"/>
<path d="M584.1 143.1V160.7M581.7 143.1H586.5M581.7 160.7H586.5" stroke="#48a8a8" stroke-width="1.1" fill="none"/>
<path d="M697.7 159.6V172.4M695.3 159.6H700.1M695.3 172.4H700.1" stroke="#48a8a8" stroke-width="1.1" fill="none"/>
<path d="M598.6 140.3V155.0M596.2 140.3H601.0M596.2 155.0H601.0" stroke="#48a8a8" stroke-width="1.1" fill="none"/>
<path d="M721.3 156.8V177.9M718.9 156.8H723.7M718.9 177.9H723.7" stroke="#48a8a8" stroke-width="1.1" fill="none"/>
<path d="M611.7 150.1V163.6M609.3 150.1H614.1M609.3 163.6H614.1" stroke="#48a8a8" stroke-width="1.1" fill="none"/>
<path d="M952.3 159.2V174.4M949.9 159.2H954.7M949.9 174.4H954.7" stroke="#48a8a8" stroke-width="1.1" fill="none"/>
<path d="M975.0 149.6V169.9M972.6 149.6H977.4M972.6 169.9H977.4" stroke="#48a8a8" stroke-width="1.1" fill="none"/>
<path d="M953.2 152.6V169.3M950.8 152.6H955.6M950.8 169.3H955.6" stroke="#48a8a8" stroke-width="1.1" fill="none"/>
<path d="M969.8 161.6V171.7M967.4 161.6H972.2M967.4 171.7H972.2" stroke="#48a8a8" stroke-width="1.1" fill="none"/>
<path d="M940.8 164.5V180.3M938.4 164.5H943.2M938.4 180.3H943.2" stroke="#48a8a8" stroke-width="1.1" fill="none"/>
<path d="M584.2 144.9V172.7M581.8 144.9H586.6M581.8 172.7H586.6" stroke="#48a8a8" stroke-width="1.1" fill="none"/>
<path d="M586.0 160.6V173.4M583.6 160.6H588.4M583.6 173.4H588.4" stroke="#48a8a8" stroke-width="1.1" fill="none"/>
<path d="M590.0 168.0V184.0M587.6 168.0H592.4M587.6 184.0H592.4" stroke="#48a8a8" stroke-width="1.1" fill="none"/>
<path d="M596.0 160.4V173.6M593.6 160.4H598.4M593.6 173.6H598.4" stroke="#48a8a8" stroke-width="1.1" fill="none"/>
<path d="M595.0 172.7V187.3M592.6 172.7H597.4M592.6 187.3H597.4" stroke="#48a8a8" stroke-width="1.1" fill="none"/>
<path d="M599.0 170.8V185.2M596.6 170.8H601.4M596.6 185.2H601.4" stroke="#48a8a8" stroke-width="1.1" fill="none"/>
<path d="M606.0 160.0V174.0M603.6 160.0H608.4M603.6 174.0H608.4" stroke="#48a8a8" stroke-width="1.1" fill="none"/>
<path d="M610.0 166.3V179.7M607.6 166.3H612.4M607.6 179.7H612.4" stroke="#48a8a8" stroke-width="1.1" fill="none"/>
<path d="M612.0 152.2V167.8M609.6 152.2H614.4M609.6 167.8H614.4" stroke="#48a8a8" stroke-width="1.1" fill="none"/>
<path d="M622.0 136.3V159.7M619.6 136.3H624.4M619.6 159.7H624.4" stroke="#48a8a8" stroke-width="1.1" fill="none"/>
<path d="M628.0 142.8V157.2M625.6 142.8H630.4M625.6 157.2H630.4" stroke="#48a8a8" stroke-width="1.1" fill="none"/>
<path d="M630.0 144.0V160.0M627.6 144.0H632.4M627.6 160.0H632.4" stroke="#48a8a8" stroke-width="1.1" fill="none"/>
<path d="M642.0 143.7V156.3M639.6 143.7H644.4M639.6 156.3H644.4" stroke="#48a8a8" stroke-width="1.1" fill="none"/>
<path d="M650.0 161.1V176.9M647.6 161.1H652.4M647.6 176.9H652.4" stroke="#48a8a8" stroke-width="1.1" fill="none"/>
<path d="M643.0 162.5V177.5M640.6 162.5H645.4M640.6 177.5H645.4" stroke="#48a8a8" stroke-width="1.1" fill="none"/>
<path d="M656.5 137.0V151.8M654.1 137.0H658.9M654.1 151.8H658.9" stroke="#48a8a8" stroke-width="1.1" fill="none"/>
<path d="M651.0 146.1V159.9M648.6 146.1H653.4M648.6 159.9H653.4" stroke="#48a8a8" stroke-width="1.1" fill="none"/>
<path d="M652.0 163.7V178.3M649.6 163.7H654.4M649.6 178.3H654.4" stroke="#48a8a8" stroke-width="1.1" fill="none"/>
<path d="M672.6 162.3V178.3M670.2 162.3H675.0M670.2 178.3H675.0" stroke="#48a8a8" stroke-width="1.1" fill="none"/>
<path d="M683.4 178.8V196.4M681.0 178.8H685.8M681.0 196.4H685.8" stroke="#48a8a8" stroke-width="1.1" fill="none"/>
<path d="M694.2 174.1V189.9M691.8 174.1H696.6M691.8 189.9H696.6" stroke="#48a8a8" stroke-width="1.1" fill="none"/>
<path d="M694.0 179.7V192.3M691.6 179.7H696.4M691.6 192.3H696.4" stroke="#48a8a8" stroke-width="1.1" fill="none"/>
<path d="M682.0 163.7V176.3M679.6 163.7H684.4M679.6 176.3H684.4" stroke="#48a8a8" stroke-width="1.1" fill="none"/>
<path d="M707.0 154.1V167.1M704.6 154.1H709.4M704.6 167.1H709.4" stroke="#48a8a8" stroke-width="1.1" fill="none"/>
<path d="M714.7 172.3V185.7M712.3 172.3H717.1M712.3 185.7H717.1" stroke="#48a8a8" stroke-width="1.1" fill="none"/>
<path d="M720.0 168.4V180.8M717.6 168.4H722.4M717.6 180.8H722.4" stroke="#48a8a8" stroke-width="1.1" fill="none"/>
<path d="M722.3 182.4V197.0M719.9 182.4H724.7M719.9 197.0H724.7" stroke="#48a8a8" stroke-width="1.1" fill="none"/>
<path d="M940.2 145.5V172.7M937.8 145.5H942.6M937.8 172.7H942.6" stroke="#48a8a8" stroke-width="1.1" fill="none"/>
<path d="M942.8 163.2V175.8M940.4 163.2H945.2M940.4 175.8H945.2" stroke="#48a8a8" stroke-width="1.1" fill="none"/>
<path d="M951.4 159.1V174.7M949.0 159.1H953.8M949.0 174.7H953.8" stroke="#48a8a8" stroke-width="1.1" fill="none"/>
<path d="M952.2 172.1V185.9M949.8 172.1H954.6M949.8 185.9H954.6" stroke="#48a8a8" stroke-width="1.1" fill="none"/>
<path d="M955.7 166.0V181.6M953.3 166.0H958.1M953.3 181.6H958.1" stroke="#48a8a8" stroke-width="1.1" fill="none"/>
<path d="M971.2 148.6V168.0M968.8 148.6H973.6M968.8 168.0H973.6" stroke="#48a8a8" stroke-width="1.1" fill="none"/>
<path d="M966.0 162.1V176.9M963.6 162.1H968.4M963.6 176.9H968.4" stroke="#48a8a8" stroke-width="1.1" fill="none"/>
<path d="M964.3 170.9V185.3M961.9 170.9H966.7M961.9 185.3H966.7" stroke="#48a8a8" stroke-width="1.1" fill="none"/>
<rect x="651.9" y="149.9" width="6.0" height="6.0" fill="#008080" stroke="#000" stroke-width="1.7"/>
<rect x="687.6" y="167.9" width="6.0" height="6.0" fill="#008080" stroke="#000" stroke-width="1.7"/>
<rect x="588.2" y="166.8" width="6.0" height="6.0" fill="#008080" stroke="#000" stroke-width="1.7"/>
<rect x="675.7" y="164.6" width="6.0" height="6.0" fill="#008080" stroke="#000" stroke-width="1.7"/>
<rect x="585.0" y="162.7" width="6.0" height="6.0" fill="#008080" stroke="#000" stroke-width="1.7"/>
<rect x="613.8" y="160.0" width="6.0" height="6.0" fill="#008080" stroke="#000" stroke-width="1.7"/>
<rect x="682.0" y="162.4" width="6.0" height="6.0" fill="#008080" stroke="#000" stroke-width="1.7"/>
<rect x="676.4" y="162.8" width="6.0" height="6.0" fill="#008080" stroke="#000" stroke-width="1.7"/>
<rect x="636.4" y="161.0" width="6.0" height="6.0" fill="#008080" stroke="#000" stroke-width="1.7"/>
<rect x="620.4" y="152.1" width="6.0" height="6.0" fill="#008080" stroke="#000" stroke-width="1.7"/>
<rect x="697.2" y="163.2" width="6.0" height="6.0" fill="#008080" stroke="#000" stroke-width="1.7"/>
<rect x="617.6" y="160.1" width="6.0" height="6.0" fill="#008080" stroke="#000" stroke-width="1.7"/>
<rect x="582.5" y="153.1" width="6.0" height="6.0" fill="#008080" stroke="#000" stroke-width="1.7"/>
<rect x="613.6" y="159.3" width="6.0" height="6.0" fill="#008080" stroke="#000" stroke-width="1.7"/>
<rect x="581.1" y="148.9" width="6.0" height="6.0" fill="#008080" stroke="#000" stroke-width="1.7"/>
<rect x="694.7" y="163.0" width="6.0" height="6.0" fill="#008080" stroke="#000" stroke-width="1.7"/>
<rect x="595.6" y="144.7" width="6.0" height="6.0" fill="#008080" stroke="#000" stroke-width="1.7"/>
<rect x="718.3" y="164.4" width="6.0" height="6.0" fill="#008080" stroke="#000" stroke-width="1.7"/>
<rect x="608.7" y="153.9" width="6.0" height="6.0" fill="#008080" stroke="#000" stroke-width="1.7"/>
<rect x="949.3" y="163.8" width="6.0" height="6.0" fill="#008080" stroke="#000" stroke-width="1.7"/>
<rect x="972.0" y="156.8" width="6.0" height="6.0" fill="#008080" stroke="#000" stroke-width="1.7"/>
<rect x="950.2" y="158.0" width="6.0" height="6.0" fill="#008080" stroke="#000" stroke-width="1.7"/>
<rect x="966.8" y="163.7" width="6.0" height="6.0" fill="#008080" stroke="#000" stroke-width="1.7"/>
<rect x="937.8" y="169.4" width="6.0" height="6.0" fill="#008080" stroke="#000" stroke-width="1.7"/>
<rect x="581.2" y="155.8" width="6.0" height="6.0" fill="#008080" stroke="#000" stroke-width="1.7"/>
<rect x="583.0" y="164.0" width="6.0" height="6.0" fill="#008080" stroke="#000" stroke-width="1.7"/>
<rect x="587.0" y="173.0" width="6.0" height="6.0" fill="#008080" stroke="#000" stroke-width="1.7"/>
<rect x="593.0" y="164.0" width="6.0" height="6.0" fill="#008080" stroke="#000" stroke-width="1.7"/>
<rect x="592.0" y="177.0" width="6.0" height="6.0" fill="#008080" stroke="#000" stroke-width="1.7"/>
<rect x="596.0" y="175.0" width="6.0" height="6.0" fill="#008080" stroke="#000" stroke-width="1.7"/>
<rect x="603.0" y="164.0" width="6.0" height="6.0" fill="#008080" stroke="#000" stroke-width="1.7"/>
<rect x="607.0" y="170.0" width="6.0" height="6.0" fill="#008080" stroke="#000" stroke-width="1.7"/>
<rect x="609.0" y="157.0" width="6.0" height="6.0" fill="#008080" stroke="#000" stroke-width="1.7"/>
<rect x="619.0" y="145.0" width="6.0" height="6.0" fill="#008080" stroke="#000" stroke-width="1.7"/>
<rect x="625.0" y="147.0" width="6.0" height="6.0" fill="#008080" stroke="#000" stroke-width="1.7"/>
<rect x="627.0" y="149.0" width="6.0" height="6.0" fill="#008080" stroke="#000" stroke-width="1.7"/>
<rect x="639.0" y="147.0" width="6.0" height="6.0" fill="#008080" stroke="#000" stroke-width="1.7"/>
<rect x="647.0" y="166.0" width="6.0" height="6.0" fill="#008080" stroke="#000" stroke-width="1.7"/>
<rect x="640.0" y="167.0" width="6.0" height="6.0" fill="#008080" stroke="#000" stroke-width="1.7"/>
<rect x="653.5" y="141.4" width="6.0" height="6.0" fill="#008080" stroke="#000" stroke-width="1.7"/>
<rect x="648.0" y="150.0" width="6.0" height="6.0" fill="#008080" stroke="#000" stroke-width="1.7"/>
<rect x="649.0" y="168.0" width="6.0" height="6.0" fill="#008080" stroke="#000" stroke-width="1.7"/>
<rect x="669.6" y="167.3" width="6.0" height="6.0" fill="#008080" stroke="#000" stroke-width="1.7"/>
<rect x="680.4" y="184.6" width="6.0" height="6.0" fill="#008080" stroke="#000" stroke-width="1.7"/>
<rect x="691.2" y="179.0" width="6.0" height="6.0" fill="#008080" stroke="#000" stroke-width="1.7"/>
<rect x="691.0" y="183.0" width="6.0" height="6.0" fill="#008080" stroke="#000" stroke-width="1.7"/>
<rect x="679.0" y="167.0" width="6.0" height="6.0" fill="#008080" stroke="#000" stroke-width="1.7"/>
<rect x="704.0" y="157.6" width="6.0" height="6.0" fill="#008080" stroke="#000" stroke-width="1.7"/>
<rect x="711.7" y="176.0" width="6.0" height="6.0" fill="#008080" stroke="#000" stroke-width="1.7"/>
<rect x="717.0" y="171.6" width="6.0" height="6.0" fill="#008080" stroke="#000" stroke-width="1.7"/>
<rect x="719.3" y="186.7" width="6.0" height="6.0" fill="#008080" stroke="#000" stroke-width="1.7"/>
<rect x="937.2" y="156.1" width="6.0" height="6.0" fill="#008080" stroke="#000" stroke-width="1.7"/>
<rect x="939.8" y="166.5" width="6.0" height="6.0" fill="#008080" stroke="#000" stroke-width="1.7"/>
<rect x="948.4" y="163.9" width="6.0" height="6.0" fill="#008080" stroke="#000" stroke-width="1.7"/>
<rect x="949.2" y="176.0" width="6.0" height="6.0" fill="#008080" stroke="#000" stroke-width="1.7"/>
<rect x="952.7" y="170.8" width="6.0" height="6.0" fill="#008080" stroke="#000" stroke-width="1.7"/>
<rect x="968.2" y="155.3" width="6.0" height="6.0" fill="#008080" stroke="#000" stroke-width="1.7"/>
<rect x="963.0" y="166.5" width="6.0" height="6.0" fill="#008080" stroke="#000" stroke-width="1.7"/>
<rect x="961.3" y="175.1" width="6.0" height="6.0" fill="#008080" stroke="#000" stroke-width="1.7"/>
<circle cx="600" cy="152" r="5.5" fill="none" stroke="#3a3ab0" stroke-width="1"/>
<circle cx="769.7" cy="163.8" r="6" fill="none" stroke="#222" stroke-width="1"/>
<rect x="716.3" y="183.7" width="12" height="12" fill="none" stroke="#48a8a8" stroke-width="1"/>
<rect x="917" y="181.5" width="11" height="11" fill="none" stroke="#3a3aff" stroke-width="1"/>
<rect x="382.1" y="225.3" width="69.5" height="90.6" fill="#000"/>
<rect x="380.3" y="223.3" width="69.5" height="90.1" fill="#fff" stroke="#8a8a8a" stroke-width="1"/>
<text x="397.01" y="232.80" font-size="9.14" textLength="46.55" lengthAdjust="spacingAndGlyphs" fill="#000" >Year: 2012</text>
<text x="396.93" y="243.70" font-size="9.14" textLength="50.82" lengthAdjust="spacingAndGlyphs" fill="#000" >5615 - 09/14</text>
<path d="M384.5 237.6L392.9 245.0M384.5 245.0L392.9 237.6M385.3 241.3H392.1M388.7 237.9V244.7" stroke="#008000" stroke-width="1.8" fill="none"/><rect x="386.8" y="239.4" width="3.8" height="3.8" fill="#008000"/>
<text x="396.93" y="254.67" font-size="9.14" textLength="51.01" lengthAdjust="spacingAndGlyphs" fill="#000" >5621 - 09/15</text>
<path d="M384.8 252.3H392.6M388.7 248.4V256.2" stroke="#0000f0" stroke-width="2.2" fill="none"/>
<text x="396.93" y="265.64" font-size="9.14" textLength="51.10" lengthAdjust="spacingAndGlyphs" fill="#000" >5625 - 09/16</text>
<circle cx="388.7" cy="263.2" r="2.8" fill="#000080"/>
<text x="396.93" y="276.61" font-size="9.14" textLength="51.05" lengthAdjust="spacingAndGlyphs" fill="#000" >5631 - 09/18</text>
<path d="M384.5 270.5L392.9 277.9M384.5 277.9L392.9 270.5M385.3 274.2H392.1M388.7 270.8V277.6" stroke="#808080" stroke-width="1.8" fill="none"/><rect x="386.8" y="272.3" width="3.8" height="3.8" fill="#808080"/>
<text x="396.93" y="287.58" font-size="9.14" textLength="51.10" lengthAdjust="spacingAndGlyphs" fill="#000" >5636 - 09/19</text>
<path d="M388.7 281.8L392.1 285.2L388.7 288.6L385.3 285.2Z" fill="#800080"/>
<text x="396.93" y="298.55" font-size="9.14" textLength="51.01" lengthAdjust="spacingAndGlyphs" fill="#000" >5641 - 09/21</text>
<circle cx="388.7" cy="296.2" r="2.8" fill="#000000"/>
<text x="396.93" y="309.52" font-size="9.14" textLength="51.15" lengthAdjust="spacingAndGlyphs" fill="#000" >5646 - 09/22</text>
<rect x="385.7" y="304.1" width="6.0" height="6.0" fill="#008080" stroke="#000" stroke-width="1.7"/>
<rect x="917.2" y="224.0" width="70.0" height="90.4" fill="#000"/>
<rect x="915.4" y="222.0" width="70.0" height="89.9" fill="#fff" stroke="#8a8a8a" stroke-width="1"/>
<text x="932.11" y="231.60" font-size="9.00" textLength="46.15" lengthAdjust="spacingAndGlyphs" fill="#000" >Year: 2012</text>
<text x="932.03" y="242.40" font-size="9.00" textLength="51.03" lengthAdjust="spacingAndGlyphs" fill="#000" >5615 - 09/14</text>
<path d="M919.6 236.3L928.0 243.7M919.6 243.7L928.0 236.3M920.4 240.0H927.2M923.8 236.6V243.4" stroke="#008000" stroke-width="1.8" fill="none"/><rect x="921.9" y="238.1" width="3.8" height="3.8" fill="#008000"/>
<text x="932.03" y="253.43" font-size="9.00" textLength="51.21" lengthAdjust="spacingAndGlyphs" fill="#000" >5621 - 09/15</text>
<path d="M919.9 251.0H927.7M923.8 247.1V254.9" stroke="#0000f0" stroke-width="2.2" fill="none"/>
<text x="932.03" y="264.46" font-size="9.00" textLength="51.30" lengthAdjust="spacingAndGlyphs" fill="#000" >5625 - 09/16</text>
<circle cx="923.8" cy="262.1" r="2.8" fill="#000080"/>
<text x="932.03" y="275.49" font-size="9.00" textLength="51.26" lengthAdjust="spacingAndGlyphs" fill="#000" >5631 - 09/18</text>
<path d="M919.6 269.4L928.0 276.8M919.6 276.8L928.0 269.4M920.4 273.1H927.2M923.8 269.7V276.5" stroke="#808080" stroke-width="1.8" fill="none"/><rect x="921.9" y="271.2" width="3.8" height="3.8" fill="#808080"/>
<text x="932.03" y="286.52" font-size="9.00" textLength="51.30" lengthAdjust="spacingAndGlyphs" fill="#000" >5636 - 09/19</text>
<path d="M923.8 280.7L927.2 284.1L923.8 287.5L920.4 284.1Z" fill="#800080"/>
<text x="932.03" y="297.55" font-size="9.00" textLength="51.21" lengthAdjust="spacingAndGlyphs" fill="#000" >5641 - 09/21</text>
<circle cx="923.8" cy="295.2" r="2.8" fill="#000000"/>
<text x="932.03" y="308.58" font-size="9.00" textLength="51.35" lengthAdjust="spacingAndGlyphs" fill="#000" >5646 - 09/22</text>
<rect x="920.8" y="303.2" width="6.0" height="6.0" fill="#008080" stroke="#000" stroke-width="1.7"/>
</svg>
</body></html>
